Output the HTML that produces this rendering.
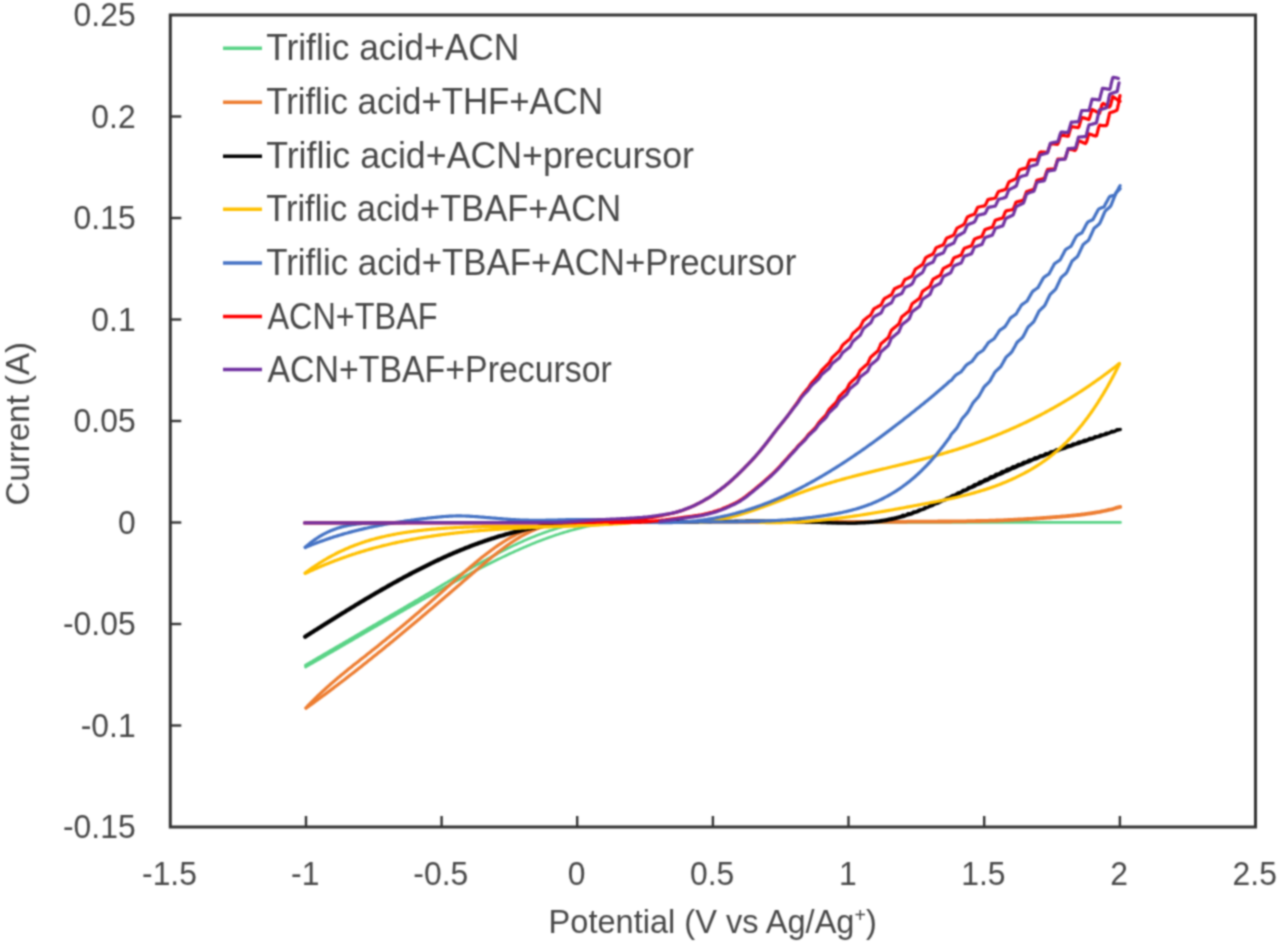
<!DOCTYPE html>
<html><head><meta charset="utf-8"><style>
html,body{margin:0;padding:0;background:#fff;}
svg{display:block;will-change:transform;}
text{font-family:"Liberation Sans",sans-serif;font-size:33.2px;fill:#474747;}
.t{font-size:33.9px;}
.l{font-size:36.8px;}
</style></head><body>
<svg width="1280" height="945" viewBox="0 0 1280 945">
<defs><filter id="bl" x="0" y="0" width="1280" height="945" filterUnits="userSpaceOnUse" color-interpolation-filters="sRGB"><feConvolveMatrix order="5" kernelMatrix="0.00087 0.00695 0.01388 0.00695 0.00087 0.00695 0.05540 0.11068 0.05540 0.00695 0.01388 0.11068 0.22111 0.11068 0.01388 0.00695 0.05540 0.11068 0.05540 0.00695 0.00087 0.00695 0.01388 0.00695 0.00087" edgeMode="duplicate" preserveAlpha="true"/></filter></defs>
<g filter="url(#bl)">
<rect width="1280" height="945" fill="#fff"/>
<g fill="none" stroke-linejoin="round" stroke-linecap="round">
<path d="M305.4 665.2 L306.4 664.6 L307.4 664.0 L308.4 663.4 L309.4 662.8 L310.4 662.2 L311.4 661.6 L312.4 661.1 L313.4 660.5 L314.4 659.9 L315.4 659.3 L316.4 658.7 L317.4 658.1 L318.4 657.5 L319.4 657.0 L320.4 656.4 L321.4 655.8 L322.4 655.2 L323.4 654.6 L324.4 654.0 L325.4 653.5 L326.4 652.9 L327.4 652.3 L328.4 651.7 L329.4 651.1 L330.4 650.5 L331.4 650.0 L332.4 649.4 L333.4 648.8 L334.4 648.2 L335.4 647.6 L336.4 647.0 L337.4 646.5 L338.4 645.9 L339.4 645.3 L340.4 644.7 L341.4 644.1 L342.4 643.6 L343.4 643.0 L344.4 642.4 L345.4 641.8 L346.4 641.2 L347.4 640.6 L348.4 640.1 L349.4 639.5 L350.4 638.9 L351.4 638.3 L352.4 637.7 L353.4 637.2 L354.4 636.6 L355.4 636.0 L356.4 635.4 L357.4 634.8 L358.4 634.2 L359.4 633.7 L360.4 633.1 L361.4 632.5 L362.4 631.9 L363.4 631.3 L364.4 630.8 L365.4 630.2 L366.4 629.6 L367.4 629.0 L368.4 628.4 L369.4 627.8 L370.4 627.3 L371.4 626.7 L372.4 626.1 L373.4 625.5 L374.4 624.9 L375.4 624.4 L376.4 623.8 L377.4 623.2 L378.4 622.6 L379.4 622.0 L380.4 621.4 L381.4 620.9 L382.4 620.3 L383.4 619.7 L384.4 619.1 L385.4 618.5 L386.4 618.0 L387.4 617.4 L388.4 616.8 L389.4 616.2 L390.4 615.6 L391.4 615.0 L392.4 614.5 L393.4 613.9 L394.4 613.3 L395.4 612.7 L396.4 612.1 L397.4 611.6 L398.4 611.0 L399.4 610.4 L400.4 609.8 L401.4 609.2 L402.4 608.6 L403.4 608.1 L404.4 607.5 L405.4 606.9 L406.4 606.3 L407.4 605.7 L408.4 605.1 L409.4 604.5 L410.4 604.0 L411.4 603.4 L412.4 602.8 L413.4 602.2 L414.4 601.6 L415.4 601.0 L416.4 600.4 L417.4 599.9 L418.4 599.3 L419.4 598.7 L420.4 598.1 L421.4 597.5 L422.4 596.9 L423.4 596.3 L424.4 595.7 L425.4 595.1 L426.4 594.5 L427.4 594.0 L428.4 593.4 L429.4 592.8 L430.4 592.2 L431.4 591.6 L432.4 591.0 L433.4 590.4 L434.4 589.8 L435.4 589.2 L436.4 588.6 L437.4 588.0 L438.4 587.4 L439.4 586.8 L440.4 586.2 L441.4 585.6 L442.4 585.0 L443.4 584.4 L444.4 583.8 L445.4 583.2 L446.4 582.6 L447.4 582.1 L448.4 581.5 L449.4 580.9 L450.4 580.3 L451.4 579.7 L452.4 579.1 L453.4 578.5 L454.4 577.9 L455.4 577.3 L456.4 576.7 L457.4 576.1 L458.4 575.5 L459.4 575.0 L460.4 574.4 L461.4 573.8 L462.4 573.2 L463.4 572.6 L464.4 572.0 L465.4 571.5 L466.4 570.9 L467.4 570.3 L468.4 569.7 L469.4 569.1 L470.4 568.6 L471.4 568.0 L472.4 567.4 L473.4 566.8 L474.4 566.3 L475.4 565.7 L476.4 565.1 L477.4 564.6 L478.4 564.0 L479.4 563.4 L480.4 562.9 L481.4 562.3 L482.4 561.8 L483.4 561.2 L484.4 560.7 L485.4 560.1 L486.4 559.6 L487.4 559.0 L488.4 558.5 L489.4 557.9 L490.4 557.4 L491.4 556.8 L492.4 556.3 L493.4 555.8 L494.4 555.2 L495.4 554.7 L496.4 554.2 L497.4 553.7 L498.4 553.1 L499.4 552.6 L500.4 552.1 L501.4 551.6 L502.4 551.1 L503.4 550.6 L504.4 550.1 L505.4 549.5 L506.4 549.0 L507.4 548.5 L508.4 548.1 L509.4 547.6 L510.4 547.1 L511.4 546.6 L512.4 546.1 L513.4 545.6 L514.4 545.1 L515.4 544.7 L516.4 544.2 L517.4 543.7 L518.4 543.3 L519.4 542.8 L520.4 542.4 L521.4 541.9 L522.4 541.5 L523.4 541.0 L524.4 540.6 L525.4 540.1 L526.4 539.7 L527.4 539.3 L528.4 538.8 L529.4 538.4 L530.4 538.0 L531.4 537.6 L532.4 537.2 L533.4 536.8 L534.4 536.4 L535.4 536.0 L536.4 535.6 L537.4 535.2 L538.4 534.8 L539.4 534.4 L540.4 534.0 L541.4 533.7 L542.4 533.3 L543.4 532.9 L544.4 532.6 L545.4 532.2 L546.4 531.9 L547.4 531.5 L548.4 531.2 L549.4 530.8 L550.4 530.5 L551.4 530.2 L552.4 529.9 L553.4 529.6 L554.4 529.2 L555.4 528.9 L556.4 528.6 L557.4 528.3 L558.4 528.0 L559.4 527.8 L560.4 527.5 L561.4 527.2 L562.4 526.9 L563.4 526.7 L564.4 526.4 L565.4 526.2 L566.4 525.9 L567.4 525.7 L568.4 525.4 L569.4 525.2 L570.4 525.0 L571.4 524.7 L572.4 524.5 L573.4 524.3 L574.4 524.1 L575.4 523.9 L576.4 523.7 L577.4 523.5 L578.4 523.4 L579.4 523.2 L580.4 523.0 L581.4 522.9 L582.4 522.7 L583.4 522.6 L584.4 522.4 L585.4 522.3 L586.4 522.2 L587.4 522.0 L588.4 521.9 L589.4 521.8 L590.4 521.7 L591.4 521.6 L592.4 521.5 L593.4 521.4 L594.4 521.4 L595.4 521.3 L596.4 521.2 L597.4 521.2 L598.4 521.1 L599.4 521.1 L600.4 521.0 L601.4 521.0 L602.4 521.0 L603.4 521.0 L604.4 521.0 L605.4 521.0 L606.4 521.0 L607.4 521.0 L608.4 521.0 L609.4 521.0 L610.4 521.1 L611.4 521.1 L612.4 521.2 L613.4 521.2 L614.4 521.3 L615.4 521.4 L616.4 521.5 L617.4 521.5 L618.4 521.6 L619.4 521.7 L620.0 521.8" stroke="#59d386" stroke-width="2.7"/>
<path d="M305.6 667.0 L306.6 666.4 L307.6 665.8 L308.6 665.3 L309.6 664.7 L310.6 664.1 L311.6 663.5 L312.6 663.0 L313.6 662.4 L314.6 661.8 L315.6 661.3 L316.6 660.7 L317.6 660.1 L318.6 659.5 L319.6 659.0 L320.6 658.4 L321.6 657.8 L322.6 657.2 L323.6 656.7 L324.6 656.1 L325.6 655.5 L326.6 654.9 L327.6 654.4 L328.6 653.8 L329.6 653.2 L330.6 652.6 L331.6 652.0 L332.6 651.5 L333.6 650.9 L334.6 650.3 L335.6 649.7 L336.6 649.2 L337.6 648.6 L338.6 648.0 L339.6 647.4 L340.6 646.8 L341.6 646.3 L342.6 645.7 L343.6 645.1 L344.6 644.5 L345.6 643.9 L346.6 643.4 L347.6 642.8 L348.6 642.2 L349.6 641.6 L350.6 641.0 L351.6 640.5 L352.6 639.9 L353.6 639.3 L354.6 638.7 L355.6 638.1 L356.6 637.6 L357.6 637.0 L358.6 636.4 L359.6 635.8 L360.6 635.2 L361.6 634.7 L362.6 634.1 L363.6 633.5 L364.6 632.9 L365.6 632.3 L366.6 631.8 L367.6 631.2 L368.6 630.6 L369.6 630.0 L370.6 629.4 L371.6 628.9 L372.6 628.3 L373.6 627.7 L374.6 627.1 L375.6 626.5 L376.6 626.0 L377.6 625.4 L378.6 624.8 L379.6 624.2 L380.6 623.7 L381.6 623.1 L382.6 622.5 L383.6 621.9 L384.6 621.3 L385.6 620.8 L386.6 620.2 L387.6 619.6 L388.6 619.0 L389.6 618.5 L390.6 617.9 L391.6 617.3 L392.6 616.7 L393.6 616.2 L394.6 615.6 L395.6 615.0 L396.6 614.4 L397.6 613.9 L398.6 613.3 L399.6 612.7 L400.6 612.1 L401.6 611.6 L402.6 611.0 L403.6 610.4 L404.6 609.9 L405.6 609.3 L406.6 608.7 L407.6 608.1 L408.6 607.6 L409.6 607.0 L410.6 606.4 L411.6 605.9 L412.6 605.3 L413.6 604.7 L414.6 604.2 L415.6 603.6 L416.6 603.0 L417.6 602.5 L418.6 601.9 L419.6 601.3 L420.6 600.8 L421.6 600.2 L422.6 599.6 L423.6 599.1 L424.6 598.5 L425.6 597.9 L426.6 597.4 L427.6 596.8 L428.6 596.3 L429.6 595.7 L430.6 595.1 L431.6 594.6 L432.6 594.0 L433.6 593.5 L434.6 592.9 L435.6 592.4 L436.6 591.8 L437.6 591.2 L438.6 590.7 L439.6 590.1 L440.6 589.6 L441.6 589.0 L442.6 588.5 L443.6 587.9 L444.6 587.4 L445.6 586.8 L446.6 586.3 L447.6 585.7 L448.6 585.2 L449.6 584.6 L450.6 584.1 L451.6 583.5 L452.6 583.0 L453.6 582.5 L454.6 581.9 L455.6 581.4 L456.6 580.8 L457.6 580.3 L458.6 579.7 L459.6 579.2 L460.6 578.7 L461.6 578.1 L462.6 577.6 L463.6 577.1 L464.6 576.5 L465.6 576.0 L466.6 575.4 L467.6 574.9 L468.6 574.4 L469.6 573.9 L470.6 573.3 L471.6 572.8 L472.6 572.3 L473.6 571.7 L474.6 571.2 L475.6 570.7 L476.6 570.2 L477.6 569.6 L478.6 569.1 L479.6 568.6 L480.6 568.1 L481.6 567.6 L482.6 567.1 L483.6 566.6 L484.6 566.0 L485.6 565.5 L486.6 565.0 L487.6 564.5 L488.6 564.0 L489.6 563.5 L490.6 563.0 L491.6 562.5 L492.6 562.0 L493.6 561.5 L494.6 561.0 L495.6 560.5 L496.6 560.0 L497.6 559.5 L498.6 559.0 L499.6 558.6 L500.6 558.1 L501.6 557.6 L502.6 557.1 L503.6 556.6 L504.6 556.2 L505.6 555.7 L506.6 555.2 L507.6 554.7 L508.6 554.3 L509.6 553.8 L510.6 553.3 L511.6 552.9 L512.6 552.4 L513.6 552.0 L514.6 551.5 L515.6 551.1 L516.6 550.6 L517.6 550.2 L518.6 549.7 L519.6 549.3 L520.6 548.8 L521.6 548.4 L522.6 547.9 L523.6 547.5 L524.6 547.1 L525.6 546.7 L526.6 546.2 L527.6 545.8 L528.6 545.4 L529.6 545.0 L530.6 544.6 L531.6 544.1 L532.6 543.7 L533.6 543.3 L534.6 542.9 L535.6 542.5 L536.6 542.1 L537.6 541.7 L538.6 541.3 L539.6 540.9 L540.6 540.6 L541.6 540.2 L542.6 539.8 L543.6 539.4 L544.6 539.0 L545.6 538.7 L546.6 538.3 L547.6 537.9 L548.6 537.6 L549.6 537.2 L550.6 536.9 L551.6 536.5 L552.6 536.2 L553.6 535.8 L554.6 535.5 L555.6 535.1 L556.6 534.8 L557.6 534.5 L558.6 534.2 L559.6 533.8 L560.6 533.5 L561.6 533.2 L562.6 532.9 L563.6 532.6 L564.6 532.3 L565.6 532.0 L566.6 531.7 L567.6 531.4 L568.6 531.1 L569.6 530.8 L570.6 530.5 L571.6 530.2 L572.6 530.0 L573.6 529.7 L574.6 529.4 L575.6 529.1 L576.6 528.9 L577.6 528.6 L578.6 528.4 L579.6 528.1 L580.6 527.9 L581.6 527.6 L582.6 527.4 L583.6 527.2 L584.6 527.0 L585.6 526.7 L586.6 526.5 L587.6 526.3 L588.6 526.1 L589.6 525.9 L590.6 525.7 L591.6 525.5 L592.6 525.3 L593.6 525.1 L594.6 524.9 L595.6 524.7 L596.6 524.6 L597.6 524.4 L598.6 524.2 L599.6 524.1 L600.6 523.9 L601.6 523.8 L602.6 523.6 L603.6 523.5 L604.6 523.3 L605.6 523.2 L606.6 523.1 L607.6 523.0 L608.6 522.8 L609.6 522.7 L610.6 522.6 L611.6 522.5 L612.6 522.4 L613.6 522.3 L614.6 522.2 L615.6 522.2 L616.6 522.1 L617.6 522.0 L618.6 521.9 L619.6 521.9 L620.6 521.8 L621.6 521.8 L622.6 521.7 L623.6 521.7 L624.6 521.6 L625.6 521.6 L626.6 521.6 L627.6 521.6 L628.6 521.5 L629.6 521.5 L630.6 521.5 L631.6 521.5 L632.6 521.5 L633.6 521.6 L634.6 521.6 L635.6 521.6 L636.6 521.6 L637.6 521.7 L638.6 521.7 L639.6 521.8 L640.0 521.8" stroke="#59d386" stroke-width="2.7"/>
<path d="M600.0 522.2 C686.8 522.2 1033.8 522.4 1120.5 522.4" stroke="#59d386" stroke-width="2.7"/>
<path d="M306.0 707.8 L307.0 706.8 L308.0 705.7 L309.0 704.7 L310.0 703.7 L311.0 702.6 L312.0 701.6 L313.0 700.6 L314.0 699.6 L315.0 698.6 L316.0 697.6 L317.0 696.7 L318.0 695.7 L319.0 694.8 L320.0 693.8 L321.0 692.9 L322.0 691.9 L323.0 691.0 L324.0 690.1 L325.0 689.2 L326.0 688.3 L327.0 687.4 L328.0 686.5 L329.0 685.6 L330.0 684.7 L331.0 683.8 L332.0 683.0 L333.0 682.1 L334.0 681.2 L335.0 680.4 L336.0 679.5 L337.0 678.7 L338.0 677.8 L339.0 677.0 L340.0 676.2 L341.0 675.3 L342.0 674.5 L343.0 673.7 L344.0 672.9 L345.0 672.1 L346.0 671.2 L347.0 670.4 L348.0 669.6 L349.0 668.8 L350.0 668.0 L351.0 667.2 L352.0 666.4 L353.0 665.6 L354.0 664.8 L355.0 664.0 L356.0 663.2 L357.0 662.5 L358.0 661.7 L359.0 660.9 L360.0 660.1 L361.0 659.3 L362.0 658.5 L363.0 657.7 L364.0 657.0 L365.0 656.2 L366.0 655.4 L367.0 654.6 L368.0 653.8 L369.0 653.0 L370.0 652.2 L371.0 651.4 L372.0 650.6 L373.0 649.8 L374.0 649.1 L375.0 648.3 L376.0 647.5 L377.0 646.7 L378.0 645.9 L379.0 645.1 L380.0 644.3 L381.0 643.4 L382.0 642.6 L383.0 641.8 L384.0 641.0 L385.0 640.2 L386.0 639.4 L387.0 638.6 L388.0 637.8 L389.0 637.0 L390.0 636.1 L391.0 635.3 L392.0 634.5 L393.0 633.7 L394.0 632.9 L395.0 632.0 L396.0 631.2 L397.0 630.4 L398.0 629.5 L399.0 628.7 L400.0 627.9 L401.0 627.1 L402.0 626.2 L403.0 625.4 L404.0 624.6 L405.0 623.7 L406.0 622.9 L407.0 622.0 L408.0 621.2 L409.0 620.4 L410.0 619.5 L411.0 618.7 L412.0 617.8 L413.0 617.0 L414.0 616.1 L415.0 615.3 L416.0 614.4 L417.0 613.6 L418.0 612.7 L419.0 611.9 L420.0 611.0 L421.0 610.1 L422.0 609.3 L423.0 608.4 L424.0 607.6 L425.0 606.7 L426.0 605.8 L427.0 605.0 L428.0 604.1 L429.0 603.2 L430.0 602.4 L431.0 601.5 L432.0 600.6 L433.0 599.8 L434.0 598.9 L435.0 598.0 L436.0 597.1 L437.0 596.3 L438.0 595.4 L439.0 594.5 L440.0 593.6 L441.0 592.7 L442.0 591.9 L443.0 591.0 L444.0 590.1 L445.0 589.2 L446.0 588.3 L447.0 587.4 L448.0 586.5 L449.0 585.7 L450.0 584.8 L451.0 583.9 L452.0 583.0 L453.0 582.1 L454.0 581.2 L455.0 580.3 L456.0 579.5 L457.0 578.6 L458.0 577.7 L459.0 576.8 L460.0 575.9 L461.0 575.0 L462.0 574.2 L463.0 573.3 L464.0 572.4 L465.0 571.6 L466.0 570.7 L467.0 569.8 L468.0 569.0 L469.0 568.1 L470.0 567.3 L471.0 566.4 L472.0 565.6 L473.0 564.7 L474.0 563.9 L475.0 563.0 L476.0 562.2 L477.0 561.4 L478.0 560.6 L479.0 559.8 L480.0 558.9 L481.0 558.1 L482.0 557.3 L483.0 556.5 L484.0 555.8 L485.0 555.0 L486.0 554.2 L487.0 553.4 L488.0 552.7 L489.0 551.9 L490.0 551.2 L491.0 550.4 L492.0 549.7 L493.0 549.0 L494.0 548.2 L495.0 547.5 L496.0 546.8 L497.0 546.1 L498.0 545.4 L499.0 544.7 L500.0 544.1 L501.0 543.4 L502.0 542.8 L503.0 542.1 L504.0 541.5 L505.0 540.9 L506.0 540.2 L507.0 539.6 L508.0 539.0 L509.0 538.5 L510.0 537.9 L511.0 537.3 L512.0 536.8 L513.0 536.2 L514.0 535.7 L515.0 535.2 L516.0 534.6 L517.0 534.1 L518.0 533.7 L519.0 533.2 L520.0 532.7 L521.0 532.3 L522.0 531.8 L523.0 531.4 L524.0 531.0 L525.0 530.6 L526.0 530.2 L527.0 529.8 L528.0 529.5 L529.0 529.1 L530.0 528.8 L531.0 528.5 L532.0 528.1 L533.0 527.8 L534.0 527.5 L535.0 527.3 L536.0 527.0 L537.0 526.7 L538.0 526.5 L539.0 526.2 L540.0 526.0 L541.0 525.8 L542.0 525.6 L543.0 525.4 L544.0 525.2 L545.0 525.0 L546.0 524.8 L547.0 524.7 L548.0 524.5 L549.0 524.4 L550.0 524.2 L551.0 524.1 L552.0 524.0 L553.0 523.8 L554.0 523.7 L555.0 523.6 L556.0 523.5 L557.0 523.4 L558.0 523.3 L559.0 523.3 L560.0 523.2 L561.0 523.1 L562.0 523.1 L563.0 523.0 L564.0 523.0 L565.0 522.9 L566.0 522.9 L567.0 522.9 L568.0 522.8 L569.0 522.8 L570.0 522.8 L571.0 522.8 L572.0 522.7 L573.0 522.7 L574.0 522.7 L575.0 522.7 L576.0 522.7 L577.0 522.7 L578.0 522.7 L579.0 522.7 L580.0 522.8 L581.0 522.8 L582.0 522.8 L583.0 522.8 L584.0 522.8 L585.0 522.8 L586.0 522.9 L587.0 522.9 L588.0 522.9 L589.0 522.9 L590.0 522.9 L591.0 523.0 L592.0 523.0 L593.0 523.0 L594.0 523.0 L595.0 523.1 L596.0 523.1 L597.0 523.1 L598.0 523.1 L599.0 523.1 L600.0 523.2 L601.0 523.2 L602.0 523.2 L603.0 523.2 L604.0 523.2 L605.0 523.2 L606.0 523.2 L607.0 523.2 L608.0 523.2 L609.0 523.2 L610.0 523.2 L611.0 523.2 L612.0 523.2 L613.0 523.1 L614.0 523.1 L615.0 523.1 L616.0 523.1 L617.0 523.0 L618.0 523.0 L619.0 522.9 L620.0 522.9 L621.0 522.8 L622.0 522.7 L623.0 522.7 L624.0 522.6 L625.0 522.5 L626.0 522.4 L627.0 522.3 L628.0 522.2 L629.0 522.1 L630.0 522.0" stroke="#ed7d31" stroke-width="3.2"/>
<path d="M306.0 708.2 L307.0 707.5 L308.0 706.8 L309.0 706.1 L310.0 705.3 L311.0 704.6 L312.0 703.9 L313.0 703.2 L314.0 702.4 L315.0 701.7 L316.0 701.0 L317.0 700.3 L318.0 699.5 L319.0 698.8 L320.0 698.1 L321.0 697.3 L322.0 696.6 L323.0 695.8 L324.0 695.1 L325.0 694.4 L326.0 693.6 L327.0 692.9 L328.0 692.1 L329.0 691.4 L330.0 690.6 L331.0 689.9 L332.0 689.1 L333.0 688.4 L334.0 687.6 L335.0 686.8 L336.0 686.1 L337.0 685.3 L338.0 684.6 L339.0 683.8 L340.0 683.0 L341.0 682.3 L342.0 681.5 L343.0 680.7 L344.0 680.0 L345.0 679.2 L346.0 678.4 L347.0 677.6 L348.0 676.9 L349.0 676.1 L350.0 675.3 L351.0 674.5 L352.0 673.8 L353.0 673.0 L354.0 672.2 L355.0 671.4 L356.0 670.6 L357.0 669.9 L358.0 669.1 L359.0 668.3 L360.0 667.5 L361.0 666.7 L362.0 665.9 L363.0 665.1 L364.0 664.3 L365.0 663.5 L366.0 662.7 L367.0 661.9 L368.0 661.1 L369.0 660.3 L370.0 659.5 L371.0 658.7 L372.0 657.9 L373.0 657.1 L374.0 656.3 L375.0 655.5 L376.0 654.7 L377.0 653.9 L378.0 653.1 L379.0 652.3 L380.0 651.5 L381.0 650.7 L382.0 649.9 L383.0 649.1 L384.0 648.2 L385.0 647.4 L386.0 646.6 L387.0 645.8 L388.0 645.0 L389.0 644.2 L390.0 643.3 L391.0 642.5 L392.0 641.7 L393.0 640.9 L394.0 640.0 L395.0 639.2 L396.0 638.4 L397.0 637.6 L398.0 636.7 L399.0 635.9 L400.0 635.1 L401.0 634.3 L402.0 633.4 L403.0 632.6 L404.0 631.8 L405.0 630.9 L406.0 630.1 L407.0 629.3 L408.0 628.4 L409.0 627.6 L410.0 626.8 L411.0 625.9 L412.0 625.1 L413.0 624.3 L414.0 623.4 L415.0 622.6 L416.0 621.7 L417.0 620.9 L418.0 620.1 L419.0 619.2 L420.0 618.4 L421.0 617.5 L422.0 616.7 L423.0 615.8 L424.0 615.0 L425.0 614.2 L426.0 613.3 L427.0 612.5 L428.0 611.6 L429.0 610.8 L430.0 609.9 L431.0 609.1 L432.0 608.2 L433.0 607.4 L434.0 606.5 L435.0 605.7 L436.0 604.8 L437.0 604.0 L438.0 603.1 L439.0 602.3 L440.0 601.4 L441.0 600.5 L442.0 599.7 L443.0 598.8 L444.0 598.0 L445.0 597.1 L446.0 596.3 L447.0 595.4 L448.0 594.6 L449.0 593.7 L450.0 592.8 L451.0 592.0 L452.0 591.1 L453.0 590.3 L454.0 589.4 L455.0 588.5 L456.0 587.7 L457.0 586.8 L458.0 586.0 L459.0 585.1 L460.0 584.2 L461.0 583.4 L462.0 582.5 L463.0 581.6 L464.0 580.8 L465.0 579.9 L466.0 579.1 L467.0 578.2 L468.0 577.3 L469.0 576.5 L470.0 575.6 L471.0 574.7 L472.0 573.9 L473.0 573.0 L474.0 572.2 L475.0 571.3 L476.0 570.4 L477.0 569.6 L478.0 568.7 L479.0 567.9 L480.0 567.0 L481.0 566.2 L482.0 565.3 L483.0 564.5 L484.0 563.6 L485.0 562.8 L486.0 562.0 L487.0 561.1 L488.0 560.3 L489.0 559.5 L490.0 558.7 L491.0 557.8 L492.0 557.0 L493.0 556.2 L494.0 555.4 L495.0 554.6 L496.0 553.9 L497.0 553.1 L498.0 552.3 L499.0 551.5 L500.0 550.8 L501.0 550.0 L502.0 549.2 L503.0 548.5 L504.0 547.8 L505.0 547.0 L506.0 546.3 L507.0 545.6 L508.0 544.9 L509.0 544.2 L510.0 543.5 L511.0 542.8 L512.0 542.1 L513.0 541.5 L514.0 540.8 L515.0 540.2 L516.0 539.5 L517.0 538.9 L518.0 538.3 L519.0 537.7 L520.0 537.1 L521.0 536.5 L522.0 535.9 L523.0 535.4 L524.0 534.8 L525.0 534.3 L526.0 533.7 L527.0 533.2 L528.0 532.7 L529.0 532.2 L530.0 531.8 L531.0 531.3 L532.0 530.8 L533.0 530.4 L534.0 530.0 L535.0 529.5 L536.0 529.1 L537.0 528.8 L538.0 528.4 L539.0 528.0 L540.0 527.7 L541.0 527.3 L542.0 527.0 L543.0 526.7 L544.0 526.4 L545.0 526.1 L546.0 525.8 L547.0 525.6 L548.0 525.3 L549.0 525.1 L550.0 524.8 L551.0 524.6 L552.0 524.4 L553.0 524.2 L554.0 524.0 L555.0 523.8 L556.0 523.7 L557.0 523.5 L558.0 523.4 L559.0 523.2 L560.0 523.1 L561.0 522.9 L562.0 522.8 L563.0 522.7 L564.0 522.6 L565.0 522.5 L566.0 522.4 L567.0 522.3 L568.0 522.3 L569.0 522.2 L570.0 522.1 L571.0 522.1 L572.0 522.0 L573.0 522.0 L574.0 521.9 L575.0 521.9 L576.0 521.9 L577.0 521.9 L578.0 521.8 L579.0 521.8 L580.0 521.8 L581.0 521.8 L582.0 521.8 L583.0 521.8 L584.0 521.8 L585.0 521.8 L586.0 521.8 L587.0 521.8 L588.0 521.9 L589.0 521.9 L590.0 521.9 L591.0 521.9 L592.0 522.0 L593.0 522.0 L594.0 522.0 L595.0 522.0 L596.0 522.1 L597.0 522.1 L598.0 522.1 L599.0 522.2 L600.0 522.2 L601.0 522.2 L602.0 522.2 L603.0 522.3 L604.0 522.3 L605.0 522.3 L606.0 522.4 L607.0 522.4 L608.0 522.4 L609.0 522.4 L610.0 522.4 L611.0 522.5 L612.0 522.5 L613.0 522.5 L614.0 522.5 L615.0 522.5 L616.0 522.5 L617.0 522.5 L618.0 522.5 L619.0 522.5 L620.0 522.5 L621.0 522.4 L622.0 522.4 L623.0 522.4 L624.0 522.3 L625.0 522.3 L626.0 522.3 L627.0 522.2 L628.0 522.1 L629.0 522.1 L630.0 522.0" stroke="#ed7d31" stroke-width="3.2"/>
<path d="M620.0 522.0 L621.0 522.0 L622.0 522.0 L623.0 522.0 L624.0 522.0 L625.0 522.0 L626.0 522.0 L627.0 522.0 L628.0 522.0 L629.0 522.0 L630.0 522.0 L631.0 522.0 L632.0 522.0 L633.0 522.0 L634.0 522.0 L635.0 522.0 L636.0 522.0 L637.0 522.0 L638.0 522.0 L639.0 522.0 L640.0 522.0 L641.0 522.0 L642.0 522.0 L643.0 522.0 L644.0 522.0 L645.0 522.0 L646.0 522.0 L647.0 522.0 L648.0 522.0 L649.0 522.0 L650.0 522.0 L651.0 522.0 L652.0 522.0 L653.0 522.0 L654.0 522.0 L655.0 522.0 L656.0 522.0 L657.0 522.0 L658.0 522.0 L659.0 522.0 L660.0 522.0 L661.0 522.0 L662.0 522.0 L663.0 522.0 L664.0 522.0 L665.0 522.0 L666.0 522.0 L667.0 522.0 L668.0 522.0 L669.0 522.0 L670.0 522.0 L671.0 522.0 L672.0 522.0 L673.0 522.0 L674.0 522.0 L675.0 522.0 L676.0 522.0 L677.0 522.0 L678.0 522.0 L679.0 522.0 L680.0 522.0 L681.0 522.0 L682.0 522.0 L683.0 522.0 L684.0 522.0 L685.0 522.0 L686.0 522.0 L687.0 522.0 L688.0 522.0 L689.0 522.0 L690.0 521.9 L691.0 521.9 L692.0 521.9 L693.0 521.9 L694.0 521.9 L695.0 521.9 L696.0 521.9 L697.0 521.9 L698.0 521.9 L699.0 521.9 L700.0 521.9 L701.0 521.9 L702.0 521.9 L703.0 521.9 L704.0 521.9 L705.0 521.9 L706.0 521.9 L707.0 521.9 L708.1 521.9 L709.1 521.9 L710.1 521.9 L711.1 521.9 L712.1 521.9 L713.1 521.9 L714.1 521.9 L715.1 521.9 L716.1 521.9 L717.1 521.9 L718.1 521.9 L719.1 521.9 L720.1 521.9 L721.1 521.9 L722.1 521.9 L723.1 521.9 L724.1 521.9 L725.1 521.9 L726.1 521.9 L727.1 521.9 L728.1 521.9 L729.1 521.9 L730.1 521.9 L731.1 521.9 L732.1 521.9 L733.1 521.9 L734.1 521.9 L735.1 521.9 L736.1 521.9 L737.1 521.9 L738.1 521.9 L739.1 521.9 L740.1 521.9 L741.1 521.9 L742.1 521.9 L743.1 521.9 L744.1 521.9 L745.1 521.9 L746.1 521.9 L747.1 521.9 L748.1 521.9 L749.1 521.9 L750.1 521.9 L751.1 521.9 L752.1 521.9 L753.1 521.9 L754.1 521.9 L755.1 521.9 L756.1 521.9 L757.1 521.9 L758.1 521.9 L759.1 521.9 L760.1 521.9 L761.1 521.9 L762.1 521.9 L763.1 521.9 L764.1 521.9 L765.1 521.9 L766.1 521.9 L767.1 521.9 L768.1 521.9 L769.1 521.9 L770.1 521.9 L771.1 521.9 L772.1 521.9 L773.1 521.9 L774.1 521.9 L775.1 521.9 L776.1 521.9 L777.1 521.9 L778.1 521.9 L779.1 521.9 L780.1 521.9 L781.1 521.9 L782.1 521.9 L783.1 521.9 L784.1 521.9 L785.1 521.9 L786.1 521.9 L787.1 521.9 L788.1 521.9 L789.1 521.9 L790.1 521.9 L791.1 521.9 L792.1 521.9 L793.1 521.9 L794.1 521.9 L795.1 521.9 L796.1 521.9 L797.1 521.9 L798.1 521.9 L799.1 521.9 L800.1 521.9 L801.1 521.9 L802.1 521.9 L803.1 521.9 L804.1 521.9 L805.1 521.9 L806.1 521.9 L807.1 521.9 L808.1 521.9 L809.1 521.9 L810.1 521.9 L811.1 521.9 L812.1 521.9 L813.1 521.9 L814.1 521.9 L815.1 521.9 L816.1 521.9 L817.1 521.9 L818.1 521.9 L819.1 521.9 L820.1 521.9 L821.1 521.9 L822.1 521.9 L823.1 521.9 L824.1 521.9 L825.1 521.9 L826.1 521.9 L827.1 521.9 L828.1 521.9 L829.1 521.9 L830.1 521.8 L831.1 521.8 L832.1 521.8 L833.1 521.8 L834.1 521.8 L835.1 521.8 L836.1 521.8 L837.1 521.8 L838.1 521.8 L839.1 521.8 L840.1 521.8 L841.1 521.8 L842.1 521.8 L843.1 521.8 L844.1 521.8 L845.1 521.8 L846.1 521.8 L847.1 521.8 L848.1 521.8 L849.1 521.8 L850.1 521.8 L851.1 521.8 L852.1 521.8 L853.1 521.8 L854.1 521.8 L855.1 521.8 L856.1 521.8 L857.1 521.8 L858.1 521.8 L859.1 521.8 L860.1 521.8 L861.1 521.8 L862.1 521.8 L863.1 521.8 L864.1 521.8 L865.1 521.8 L866.1 521.8 L867.1 521.8 L868.1 521.8 L869.1 521.8 L870.1 521.8 L871.1 521.8 L872.1 521.8 L873.1 521.8 L874.1 521.8 L875.1 521.8 L876.1 521.8 L877.1 521.8 L878.1 521.8 L879.1 521.8 L880.1 521.8 L881.1 521.8 L882.1 521.8 L883.1 521.8 L884.2 521.8 L885.2 521.8 L886.2 521.8 L887.2 521.8 L888.2 521.8 L889.2 521.8 L890.2 521.8 L891.2 521.8 L892.2 521.8 L893.2 521.8 L894.2 521.8 L895.2 521.8 L896.2 521.8 L897.2 521.8 L898.2 521.8 L899.2 521.8 L900.2 521.8 L901.2 521.8 L902.2 521.8 L903.2 521.8 L904.2 521.8 L905.2 521.8 L906.2 521.8 L907.2 521.7 L908.2 521.7 L909.2 521.7 L910.2 521.7 L911.2 521.7 L912.2 521.7 L913.2 521.7 L914.2 521.7 L915.2 521.7 L916.2 521.7 L917.2 521.7 L918.2 521.7 L919.2 521.7 L920.2 521.7 L921.2 521.7 L922.2 521.7 L923.2 521.6 L924.2 521.6 L925.2 521.6 L926.2 521.6 L927.2 521.6 L928.2 521.6 L929.2 521.6 L930.2 521.6 L931.2 521.6 L932.2 521.6 L933.2 521.6 L934.2 521.6 L935.2 521.6 L936.2 521.6 L937.2 521.6 L938.2 521.5 L939.2 521.5 L940.2 521.5 L941.2 521.5 L942.2 521.5 L943.2 521.5 L944.2 521.5 L945.2 521.5 L946.2 521.5 L947.2 521.5 L948.2 521.5 L949.2 521.5 L950.2 521.5 L951.2 521.5 L952.2 521.4 L953.2 521.4 L954.2 521.4 L955.2 521.4 L956.2 521.4 L957.2 521.4 L958.2 521.4 L959.2 521.4 L960.2 521.3 L961.2 521.3 L962.2 521.3 L963.2 521.3 L964.2 521.3 L965.2 521.3 L966.2 521.3 L967.2 521.2 L968.2 521.2 L969.2 521.2 L970.2 521.2 L971.2 521.2 L972.2 521.1 L973.2 521.1 L974.2 521.1 L975.2 521.1 L976.2 521.0 L977.2 521.0 L978.2 521.0 L979.2 521.0 L980.2 521.0 L981.2 520.9 L982.2 520.9 L983.2 520.9 L984.2 520.9 L985.2 520.8 L986.2 520.8 L987.2 520.8 L988.2 520.8 L989.2 520.7 L990.2 520.7 L991.2 520.7 L992.2 520.7 L993.2 520.6 L994.2 520.6 L995.2 520.6 L996.2 520.5 L997.2 520.5 L998.2 520.5 L999.2 520.4 L1000.2 520.4 L1001.2 520.3 L1002.2 520.3 L1003.2 520.3 L1004.2 520.2 L1005.2 520.2 L1006.2 520.1 L1007.2 520.1 L1008.2 520.0 L1009.2 520.0 L1010.2 519.9 L1011.2 519.9 L1012.2 519.8 L1013.2 519.8 L1014.2 519.7 L1015.2 519.7 L1016.2 519.6 L1017.2 519.6 L1018.2 519.5 L1019.2 519.5 L1020.2 519.4 L1021.2 519.4 L1022.2 519.3 L1023.2 519.3 L1024.2 519.2 L1025.2 519.1 L1026.2 519.1 L1027.2 519.0 L1028.2 519.0 L1029.2 518.9 L1030.2 518.9 L1031.2 518.8 L1032.2 518.8 L1033.2 518.7 L1034.2 518.6 L1035.2 518.6 L1036.2 518.5 L1037.2 518.4 L1038.2 518.4 L1039.2 518.3 L1040.2 518.2 L1041.2 518.2 L1042.2 518.1 L1043.2 518.0 L1044.2 517.9 L1045.2 517.9 L1046.1 517.8 L1047.1 517.7 L1048.1 517.6 L1049.1 517.6 L1050.1 517.5 L1051.1 517.4 L1052.1 517.3 L1053.1 517.2 L1054.1 517.2 L1055.1 517.1 L1056.1 517.0 L1057.1 516.9 L1058.1 516.9 L1059.1 516.8 L1060.1 516.7 L1061.1 516.6 L1062.1 516.5 L1063.1 516.4 L1064.1 516.4 L1065.1 516.3 L1066.1 516.2 L1067.1 516.1 L1068.1 516.0 L1069.1 515.9 L1070.1 515.8 L1071.1 515.7 L1072.1 515.6 L1073.1 515.5 L1074.1 515.4 L1075.1 515.3 L1076.1 515.2 L1077.0 515.1 L1078.0 515.0 L1079.0 514.9 L1080.0 514.8 L1081.0 514.6 L1082.0 514.5 L1083.0 514.4 L1084.0 514.3 L1085.0 514.1 L1086.0 514.0 L1087.0 513.8 L1088.0 513.7 L1088.9 513.6 L1089.9 513.4 L1090.9 513.3 L1091.9 513.1 L1092.9 513.0 L1093.9 512.8 L1094.9 512.6 L1095.9 512.5 L1097.8 512.1 L1099.8 511.8 L1101.8 511.4 L1103.7 511.0 L1105.7 510.6 L1107.6 510.2 L1109.6 509.7 L1111.5 509.3 L1113.5 508.8 L1115.4 508.2 L1117.3 507.7 L1119.2 507.2 L1120.2 506.9" stroke="#ed7d31" stroke-width="3.8"/>
<path d="M305.2 636.7 L306.2 636.0 L307.2 635.4 L308.2 634.7 L309.2 634.1 L310.2 633.5 L311.2 632.8 L312.2 632.2 L313.2 631.6 L314.2 630.9 L315.2 630.3 L316.2 629.7 L317.2 629.1 L318.2 628.4 L319.2 627.8 L320.2 627.2 L321.2 626.5 L322.2 625.9 L323.2 625.3 L324.2 624.6 L325.2 624.0 L326.2 623.4 L327.2 622.8 L328.2 622.1 L329.2 621.5 L330.2 620.9 L331.2 620.2 L332.2 619.6 L333.2 619.0 L334.2 618.4 L335.2 617.8 L336.2 617.1 L337.2 616.5 L338.2 615.9 L339.2 615.3 L340.2 614.6 L341.2 614.0 L342.2 613.4 L343.2 612.8 L344.2 612.2 L345.2 611.6 L346.2 610.9 L347.2 610.3 L348.2 609.7 L349.2 609.1 L350.2 608.5 L351.2 607.9 L352.2 607.3 L353.2 606.7 L354.2 606.1 L355.2 605.4 L356.2 604.8 L357.2 604.2 L358.2 603.6 L359.2 603.0 L360.2 602.4 L361.2 601.8 L362.2 601.2 L363.2 600.6 L364.2 600.0 L365.2 599.4 L366.2 598.8 L367.2 598.2 L368.2 597.6 L369.2 597.1 L370.2 596.5 L371.2 595.9 L372.2 595.3 L373.2 594.7 L374.2 594.1 L375.2 593.5 L376.2 592.9 L377.2 592.4 L378.2 591.8 L379.2 591.2 L380.2 590.6 L381.2 590.0 L382.2 589.5 L383.2 588.9 L384.2 588.3 L385.2 587.8 L386.2 587.2 L387.2 586.6 L388.2 586.0 L389.2 585.5 L390.2 584.9 L391.2 584.4 L392.2 583.8 L393.2 583.2 L394.2 582.7 L395.2 582.1 L396.2 581.6 L397.2 581.0 L398.2 580.5 L399.2 579.9 L400.2 579.4 L401.2 578.8 L402.2 578.3 L403.2 577.7 L404.2 577.2 L405.2 576.7 L406.2 576.1 L407.2 575.6 L408.2 575.1 L409.2 574.5 L410.2 574.0 L411.2 573.5 L412.2 572.9 L413.2 572.4 L414.2 571.9 L415.2 571.4 L416.2 570.9 L417.2 570.3 L418.2 569.8 L419.2 569.3 L420.2 568.8 L421.2 568.3 L422.2 567.8 L423.2 567.3 L424.2 566.8 L425.2 566.3 L426.2 565.8 L427.2 565.3 L428.2 564.8 L429.2 564.3 L430.2 563.8 L431.2 563.3 L432.2 562.9 L433.2 562.4 L434.2 561.9 L435.2 561.4 L436.2 560.9 L437.2 560.5 L438.2 560.0 L439.2 559.5 L440.2 559.1 L441.2 558.6 L442.2 558.1 L443.2 557.7 L444.2 557.2 L445.2 556.8 L446.2 556.3 L447.2 555.9 L448.2 555.4 L449.2 555.0 L450.2 554.5 L451.2 554.1 L452.2 553.7 L453.2 553.2 L454.2 552.8 L455.2 552.4 L456.2 552.0 L457.2 551.5 L458.2 551.1 L459.2 550.7 L460.2 550.3 L461.2 549.9 L462.2 549.5 L463.2 549.1 L464.2 548.6 L465.2 548.2 L466.2 547.8 L467.2 547.5 L468.2 547.1 L469.2 546.7 L470.2 546.3 L471.2 545.9 L472.2 545.5 L473.2 545.1 L474.2 544.8 L475.2 544.4 L476.2 544.0 L477.2 543.7 L478.2 543.3 L479.2 542.9 L480.2 542.6 L481.2 542.2 L482.2 541.9 L483.2 541.5 L484.2 541.2 L485.2 540.8 L486.2 540.5 L487.2 540.2 L488.2 539.8 L489.2 539.5 L490.2 539.2 L491.2 538.8 L492.2 538.5 L493.2 538.2 L494.2 537.9 L495.2 537.6 L496.2 537.3 L497.2 536.9 L498.2 536.6 L499.2 536.3 L500.2 536.0 L501.2 535.7 L502.2 535.5 L503.2 535.2 L504.2 534.9 L505.2 534.6 L506.2 534.3 L507.2 534.0 L508.2 533.8 L509.2 533.5 L510.2 533.2 L511.2 532.9 L512.2 532.7 L513.2 532.4 L514.2 532.2 L515.2 531.9 L516.2 531.7 L517.2 531.4 L518.2 531.2 L519.2 530.9 L520.2 530.7 L521.2 530.4 L522.2 530.2 L523.2 530.0 L524.2 529.7 L525.2 529.5 L526.2 529.3 L527.2 529.1 L528.2 528.8 L529.2 528.6 L530.2 528.4 L531.2 528.2 L532.2 528.0 L533.2 527.8 L534.2 527.6 L535.2 527.4 L536.2 527.2 L537.2 527.0 L538.2 526.8 L539.2 526.6 L540.2 526.4 L541.2 526.3 L542.2 526.1 L543.2 525.9 L544.2 525.7 L545.2 525.6 L546.2 525.4 L547.2 525.2 L548.2 525.1 L549.2 524.9 L550.2 524.8 L551.2 524.6 L552.2 524.5 L553.2 524.3 L554.2 524.2 L555.2 524.0 L556.2 523.9 L557.2 523.7 L558.2 523.6 L559.2 523.5 L560.2 523.3 L561.2 523.2 L562.2 523.1 L563.2 523.0 L564.2 522.9 L565.2 522.7 L566.2 522.6 L567.2 522.5 L568.2 522.4 L569.2 522.3 L570.2 522.2 L571.2 522.1 L572.2 522.0 L573.2 521.9 L574.2 521.8 L575.2 521.7 L576.2 521.6 L577.2 521.6 L578.2 521.5 L579.2 521.4 L580.2 521.3 L581.2 521.3 L582.2 521.2 L583.2 521.1 L584.2 521.1 L585.2 521.0 L586.2 520.9 L587.2 520.9 L588.2 520.8 L589.2 520.8 L590.2 520.7 L591.2 520.7 L592.2 520.6 L593.2 520.6 L594.2 520.6 L595.2 520.5 L596.2 520.5 L597.2 520.5 L598.2 520.4 L599.2 520.4 L600.2 520.4 L601.2 520.4 L602.2 520.4 L603.2 520.4 L604.2 520.3 L605.2 520.3 L606.2 520.3 L607.2 520.3 L608.2 520.3 L609.2 520.3 L610.2 520.3 L611.2 520.3 L612.2 520.4 L613.2 520.4 L614.2 520.4 L615.2 520.4 L616.2 520.4 L617.2 520.4 L618.2 520.5 L619.2 520.5 L620.2 520.5 L621.2 520.6 L622.2 520.6 L623.2 520.6 L624.2 520.7 L625.2 520.7 L626.2 520.8 L627.2 520.8 L628.2 520.9 L629.2 520.9 L630.2 521.0 L631.2 521.0 L632.2 521.1 L633.2 521.2 L634.2 521.2 L635.2 521.3 L636.2 521.4 L637.2 521.4 L638.2 521.5 L639.2 521.6 L640.0 521.7" stroke="#000000" stroke-width="4.2"/>
<path d="M640.0 521.6 L641.0 521.6 L642.0 521.6 L643.0 521.6 L644.0 521.6 L645.0 521.6 L646.0 521.6 L647.0 521.6 L648.0 521.6 L649.0 521.6 L650.0 521.7 L651.0 521.7 L652.0 521.7 L653.0 521.7 L654.0 521.7 L655.0 521.7 L656.0 521.7 L657.0 521.7 L658.0 521.7 L659.0 521.7 L660.0 521.7 L661.0 521.7 L662.0 521.7 L663.0 521.7 L664.0 521.7 L665.0 521.7 L666.0 521.7 L667.0 521.7 L668.0 521.6 L669.0 521.6 L670.0 521.6 L671.0 521.6 L672.0 521.6 L673.0 521.6 L674.0 521.6 L675.0 521.6 L676.0 521.6 L677.0 521.6 L678.0 521.6 L679.0 521.6 L680.0 521.6 L681.0 521.6 L682.0 521.6 L683.0 521.6 L684.0 521.6 L685.0 521.6 L686.0 521.6 L687.0 521.6 L688.0 521.6 L689.0 521.5 L690.0 521.5 L691.0 521.5 L692.0 521.5 L693.0 521.5 L694.0 521.5 L695.0 521.5 L696.0 521.5 L697.0 521.5 L698.0 521.5 L699.0 521.5 L700.0 521.5 L701.0 521.5 L702.0 521.5 L703.0 521.5 L704.0 521.5 L705.0 521.4 L706.0 521.4 L707.0 521.4 L708.0 521.4 L709.0 521.4 L710.0 521.4 L711.0 521.4 L712.0 521.4 L713.0 521.4 L714.0 521.4 L715.0 521.4 L716.0 521.4 L717.0 521.4 L718.0 521.4 L719.0 521.4 L720.0 521.4 L721.0 521.3 L722.0 521.3 L723.0 521.3 L724.0 521.3 L725.0 521.3 L726.0 521.3 L727.0 521.3 L728.0 521.3 L729.0 521.3 L730.0 521.3 L731.0 521.3 L732.0 521.3 L733.0 521.3 L734.0 521.3 L735.0 521.3 L736.0 521.3 L737.0 521.3 L738.0 521.3 L739.0 521.3 L740.0 521.3 L741.0 521.3 L742.0 521.3 L743.0 521.3 L744.0 521.3 L745.0 521.3 L746.0 521.3 L747.0 521.3 L748.0 521.3 L749.0 521.3 L750.0 521.3 L751.0 521.3 L752.0 521.3 L753.0 521.3 L754.0 521.3 L755.0 521.3 L756.0 521.3 L757.0 521.3 L758.0 521.3 L759.0 521.3 L760.0 521.3 L761.0 521.3 L762.0 521.3 L763.0 521.3 L764.0 521.3 L765.0 521.4 L766.0 521.4 L767.0 521.4 L768.0 521.4 L769.0 521.4 L770.0 521.4 L771.0 521.4 L772.0 521.4 L773.0 521.4 L774.0 521.4 L775.0 521.5 L776.0 521.5 L777.0 521.5 L778.0 521.5 L779.0 521.5 L780.0 521.5 L781.0 521.5 L782.0 521.6 L783.0 521.6 L784.0 521.6 L785.0 521.6 L786.0 521.6 L787.0 521.7 L788.0 521.7 L789.0 521.7 L790.0 521.7 L791.0 521.7 L792.0 521.8 L793.0 521.8 L794.0 521.8 L795.0 521.8 L796.0 521.9 L797.0 521.9 L798.0 521.9 L799.0 521.9 L800.0 522.0 L801.0 522.0 L802.0 522.0 L803.0 522.1 L804.0 522.1 L805.0 522.1 L806.0 522.2 L807.0 522.2 L808.0 522.2 L809.0 522.3 L810.0 522.3 L811.0 522.3 L812.0 522.4 L813.0 522.4 L814.0 522.4 L815.0 522.5 L816.0 522.5 L817.0 522.5 L818.0 522.6 L819.0 522.6 L820.0 522.6 L821.0 522.7 L822.0 522.7 L823.0 522.7 L824.0 522.8 L825.0 522.8 L826.0 522.8 L827.0 522.9 L828.0 522.9 L829.0 522.9 L830.0 522.9 L831.0 523.0 L832.0 523.0 L833.0 523.0 L834.0 523.0 L835.0 523.0 L836.0 523.1 L837.0 523.1 L838.0 523.1 L839.0 523.1 L840.0 523.1 L841.0 523.1 L842.0 523.1 L843.0 523.1 L844.0 523.1 L845.0 523.1 L846.0 523.1 L847.0 523.1 L848.0 523.1 L849.0 523.1 L850.0 523.0 L851.0 523.0 L852.0 523.0 L853.0 523.0 L854.0 522.9 L855.0 522.9 L856.0 522.8 L857.0 522.8 L858.0 522.8 L859.0 522.7 L860.0 522.7 L861.0 522.6 L862.0 522.5 L863.0 522.5 L864.0 522.4 L865.0 522.3 L866.0 522.2 L867.0 522.2 L868.0 522.1 L869.0 522.0 L870.0 521.9 L871.0 521.8 L872.0 521.7 L873.0 521.6 L874.0 521.4 L875.0 521.3 L876.0 521.2 L877.0 521.0 L878.0 520.9 L879.0 520.8 L880.0 520.6 L881.0 520.5 L882.0 520.3 L883.0 520.1 L884.0 519.9 L885.0 519.8 L886.0 519.6 L887.0 519.4 L888.0 519.2 L889.0 519.0 L890.0 518.8 L891.0 518.6 L892.0 518.3 L893.0 518.1 L894.0 517.9 L895.0 517.6 L896.0 517.4 L897.0 517.1 L898.0 516.9 L899.0 516.6 L900.0 516.4 L901.0 516.2 L902.0 515.6 L903.0 515.1 L904.0 515.2 L905.0 515.2 L906.0 514.9 L907.0 514.3 L908.0 513.6 L909.0 513.5 L910.0 513.5 L911.0 513.5 L912.0 512.8 L913.0 512.2 L914.0 511.7 L915.0 511.7 L916.0 511.6 L917.0 511.3 L918.0 510.6 L919.0 509.9 L920.0 509.7 L921.0 509.6 L922.0 509.6 L923.0 508.9 L924.0 508.2 L925.0 507.6 L926.0 507.5 L927.0 507.5 L928.0 507.1 L929.0 506.3 L930.0 505.6 L931.0 505.3 L932.0 505.2 L933.0 505.1 L934.0 504.4 L935.0 503.6 L936.0 503.0 L937.0 502.9 L938.0 502.8 L939.0 502.3 L940.0 501.6 L941.0 500.8 L942.0 500.5 L943.0 500.3 L944.0 500.2 L945.0 499.4 L946.0 498.6 L947.0 498.0 L948.0 497.8 L949.0 497.7 L950.0 497.2 L951.0 496.4 L952.0 495.6 L953.0 495.3 L954.0 495.1 L955.0 495.0 L956.0 494.2 L957.0 493.4 L958.0 492.7 L959.0 492.5 L960.0 492.4 L961.0 491.9 L962.0 491.1 L963.0 490.2 L964.0 489.9 L965.0 489.8 L966.0 489.6 L967.0 488.8 L968.0 487.9 L969.0 487.3 L970.0 487.1 L971.0 486.9 L972.0 486.4 L973.0 485.6 L974.0 484.8 L975.0 484.5 L976.0 484.3 L977.0 484.1 L978.0 483.3 L979.0 482.5 L980.0 481.8 L981.0 481.7 L982.0 481.5 L983.0 481.0 L984.0 480.2 L985.0 479.4 L986.0 479.1 L987.0 478.9 L988.0 478.8 L989.0 478.0 L990.0 477.2 L991.0 476.5 L992.0 476.4 L993.0 476.2 L994.0 475.8 L995.0 475.0 L996.0 474.2 L997.0 473.9 L998.0 473.8 L999.0 473.6 L1000.0 472.9 L1001.0 472.1 L1002.0 471.5 L1003.0 471.3 L1004.0 471.2 L1005.0 470.8 L1006.0 470.0 L1007.0 469.2 L1008.0 469.0 L1009.0 468.8 L1010.0 468.7 L1011.0 468.0 L1012.0 467.2 L1013.0 466.6 L1014.0 466.5 L1015.0 466.4 L1016.0 466.0 L1017.0 465.3 L1018.0 464.5 L1019.0 464.2 L1020.0 464.2 L1021.0 464.1 L1022.0 463.3 L1023.0 462.6 L1024.0 462.0 L1025.0 461.9 L1026.0 461.9 L1027.0 461.5 L1028.0 460.7 L1029.0 460.0 L1030.0 459.8 L1031.0 459.7 L1032.0 459.6 L1033.0 458.9 L1034.0 458.2 L1035.0 457.6 L1036.0 457.6 L1037.0 457.5 L1038.0 457.1 L1039.0 456.4 L1040.0 455.7 L1041.0 455.5 L1042.0 455.4 L1043.0 455.4 L1044.0 454.7 L1045.0 454.0 L1046.0 453.4 L1047.0 453.4 L1048.0 453.3 L1049.0 453.0 L1050.0 452.3 L1051.0 451.6 L1052.0 451.4 L1053.0 451.4 L1054.0 451.3 L1055.0 450.6 L1056.0 449.9 L1057.0 449.4 L1058.0 449.4 L1059.0 449.4 L1060.0 449.0 L1061.0 448.3 L1062.0 447.7 L1063.0 447.5 L1064.0 447.4 L1065.0 447.4 L1066.0 446.8 L1067.0 446.1 L1068.0 445.6 L1069.0 445.6 L1070.0 445.5 L1071.0 445.2 L1072.0 444.5 L1073.0 443.9 L1074.0 443.7 L1075.0 443.7 L1076.0 443.7 L1077.0 443.0 L1078.0 442.3 L1079.0 441.8 L1080.0 441.8 L1081.0 441.8 L1082.0 441.5 L1083.0 440.8 L1084.0 440.2 L1085.0 440.0 L1086.0 440.0 L1087.0 440.0 L1088.0 439.4 L1089.0 438.7 L1090.0 438.2 L1091.0 438.2 L1092.0 438.2 L1093.0 437.9 L1094.0 437.3 L1095.0 436.6 L1096.0 436.5 L1097.0 436.5 L1098.0 436.5 L1099.0 435.8 L1100.0 435.2 L1101.0 434.7 L1102.0 434.7 L1103.0 434.7 L1104.0 434.4 L1105.0 433.7 L1106.0 433.1 L1107.0 432.9 L1108.0 433.0 L1109.0 433.0 L1110.0 432.3 L1111.0 431.7 L1112.0 431.2 L1113.0 431.2 L1114.0 431.2 L1115.0 430.9 L1116.0 430.3 L1117.0 429.6 L1118.0 429.5 L1119.0 429.5 L1120.0 429.5 L1120.3 429.3" stroke="#000000" stroke-width="3.0"/>
<path d="M640.0 521.6 L641.0 521.6 L642.0 521.7 L643.0 521.7 L644.0 521.7 L645.0 521.8 L646.0 521.8 L647.0 521.8 L648.0 521.9 L649.0 521.9 L650.0 521.9 L651.0 521.9 L652.0 522.0 L653.0 522.0 L654.0 522.0 L655.0 522.0 L656.0 522.0 L657.0 522.1 L658.0 522.1 L659.0 522.1 L660.0 522.1 L661.0 522.1 L662.0 522.1 L663.0 522.2 L664.0 522.2 L665.0 522.2 L666.0 522.2 L667.0 522.2 L668.0 522.2 L669.0 522.2 L670.0 522.2 L671.0 522.2 L672.0 522.2 L673.0 522.2 L674.0 522.2 L675.0 522.2 L676.0 522.2 L677.0 522.2 L678.0 522.2 L679.0 522.2 L680.0 522.2 L681.0 522.2 L682.0 522.2 L683.0 522.2 L684.0 522.2 L685.0 522.2 L686.0 522.2 L687.0 522.1 L688.0 522.1 L689.0 522.1 L690.0 522.1 L691.0 522.1 L692.0 522.1 L693.0 522.1 L694.0 522.1 L695.0 522.0 L696.0 522.0 L697.0 522.0 L698.0 522.0 L699.0 522.0 L700.0 522.0 L701.0 521.9 L702.0 521.9 L703.0 521.9 L704.0 521.9 L705.0 521.9 L706.0 521.9 L707.0 521.8 L708.0 521.8 L709.0 521.8 L710.0 521.8 L711.0 521.8 L712.0 521.7 L713.0 521.7 L714.0 521.7 L715.0 521.7 L716.0 521.6 L717.0 521.6 L718.0 521.6 L719.0 521.6 L720.0 521.6 L721.0 521.5 L722.0 521.5 L723.0 521.5 L724.0 521.5 L725.0 521.5 L726.0 521.4 L727.0 521.4 L728.0 521.4 L729.0 521.4 L730.0 521.3 L731.0 521.3 L732.0 521.3 L733.0 521.3 L734.0 521.3 L735.0 521.2 L736.0 521.2 L737.0 521.2 L738.0 521.2 L739.0 521.2 L740.0 521.1 L741.0 521.1 L742.0 521.1 L743.0 521.1 L744.0 521.1 L745.0 521.1 L746.0 521.0 L747.0 521.0 L748.0 521.0 L749.0 521.0 L750.0 521.0 L751.0 521.0 L752.0 520.9 L753.0 520.9 L754.0 520.9 L755.0 520.9 L756.0 520.9 L757.0 520.9 L758.0 520.9 L759.0 520.9 L760.0 520.9 L761.0 520.8 L762.0 520.8 L763.0 520.8 L764.0 520.8 L765.0 520.8 L766.0 520.8 L767.0 520.8 L768.0 520.8 L769.0 520.8 L770.0 520.8 L771.0 520.8 L772.0 520.8 L773.0 520.8 L774.0 520.8 L775.0 520.8 L776.0 520.8 L777.0 520.8 L778.0 520.8 L779.0 520.8 L780.0 520.8 L781.0 520.9 L782.0 520.9 L783.0 520.9 L784.0 520.9 L785.0 520.9 L786.0 520.9 L787.0 520.9 L788.0 520.9 L789.0 521.0 L790.0 521.0 L791.0 521.0 L792.0 521.0 L793.0 521.1 L794.0 521.1 L795.0 521.1 L796.0 521.1 L797.0 521.2 L798.0 521.2 L799.0 521.2 L800.0 521.3 L801.0 521.3 L802.0 521.3 L803.0 521.4 L804.0 521.4 L805.0 521.4 L806.0 521.5 L807.0 521.5 L808.0 521.6 L809.0 521.6 L810.0 521.7 L811.0 521.7 L812.0 521.8 L813.0 521.8 L814.0 521.9 L815.0 521.9 L816.0 522.0 L817.0 522.0 L818.0 522.1 L819.0 522.1 L820.0 522.2 L821.0 522.2 L822.0 522.3 L823.0 522.3 L824.0 522.4 L825.0 522.4 L826.0 522.5 L827.0 522.5 L828.0 522.6 L829.0 522.6 L830.0 522.7 L831.0 522.7 L832.0 522.8 L833.0 522.8 L834.0 522.9 L835.0 522.9 L836.0 522.9 L837.0 523.0 L838.0 523.0 L839.0 523.1 L840.0 523.1 L841.0 523.1 L842.0 523.2 L843.0 523.2 L844.0 523.2 L845.0 523.2 L846.0 523.2 L847.0 523.3 L848.0 523.3 L849.0 523.3 L850.0 523.3 L851.0 523.3 L852.0 523.3 L853.0 523.3 L854.0 523.3 L855.0 523.3 L856.0 523.3 L857.0 523.3 L858.0 523.2 L859.0 523.2 L860.0 523.2 L861.0 523.2 L862.0 523.1 L863.0 523.1 L864.0 523.0 L865.0 523.0 L866.0 522.9 L867.0 522.9 L868.0 522.8 L869.0 522.8 L870.0 522.7 L871.0 522.6 L872.0 522.5 L873.0 522.4 L874.0 522.3 L875.0 522.2 L876.0 522.1 L877.0 522.0 L878.0 521.9 L879.0 521.8 L880.0 521.7 L881.0 521.5 L882.0 521.4 L883.0 521.2 L884.0 521.1 L885.0 520.9 L886.0 520.8 L887.0 520.6 L888.0 520.4 L889.0 520.2 L890.0 520.0 L891.0 519.8 L892.0 519.6 L893.0 519.4 L894.0 519.2 L895.0 519.0 L896.0 518.7 L897.0 518.5 L898.0 518.2 L899.0 518.0 L900.0 517.7 L901.0 517.3 L902.0 517.2 L903.0 517.0 L904.0 516.7 L905.0 516.3 L906.0 515.8 L907.0 515.4 L908.0 515.2 L909.0 515.0 L910.0 514.7 L911.0 514.4 L912.0 513.9 L913.0 513.4 L914.0 512.9 L915.0 512.7 L916.0 512.4 L917.0 512.1 L918.0 511.7 L919.0 511.2 L920.0 510.7 L921.0 510.2 L922.0 509.9 L923.0 509.6 L924.0 509.3 L925.0 508.9 L926.0 508.3 L927.0 507.8 L928.0 507.3 L929.0 507.0 L930.0 506.7 L931.0 506.3 L932.0 505.9 L933.0 505.4 L934.0 504.8 L935.0 504.3 L936.0 503.9 L937.0 503.6 L938.0 503.3 L939.0 502.9 L940.0 502.3 L941.0 501.7 L942.0 501.2 L943.0 500.8 L944.0 500.5 L945.0 500.2 L946.0 499.7 L947.0 499.2 L948.0 498.6 L949.0 498.0 L950.0 497.7 L951.0 497.3 L952.0 497.0 L953.0 496.5 L954.0 496.0 L955.0 495.4 L956.0 494.8 L957.0 494.5 L958.0 494.1 L959.0 493.8 L960.0 493.3 L961.0 492.7 L962.0 492.2 L963.0 491.6 L964.0 491.2 L965.0 490.9 L966.0 490.5 L967.0 490.1 L968.0 489.5 L969.0 488.9 L970.0 488.3 L971.0 488.0 L972.0 487.6 L973.0 487.2 L974.0 486.8 L975.0 486.2 L976.0 485.6 L977.0 485.0 L978.0 484.7 L979.0 484.3 L980.0 484.0 L981.0 483.5 L982.0 482.9 L983.0 482.3 L984.0 481.7 L985.0 481.4 L986.0 481.0 L987.0 480.7 L988.0 480.2 L989.0 479.6 L990.0 479.1 L991.0 478.5 L992.0 478.1 L993.0 477.8 L994.0 477.4 L995.0 477.0 L996.0 476.4 L997.0 475.8 L998.0 475.3 L999.0 474.9 L1000.0 474.6 L1001.0 474.2 L1002.0 473.8 L1003.0 473.2 L1004.0 472.6 L1005.0 472.1 L1006.0 471.7 L1007.0 471.4 L1008.0 471.1 L1009.0 470.6 L1010.0 470.0 L1011.0 469.5 L1012.0 468.9 L1013.0 468.6 L1014.0 468.3 L1015.0 468.0 L1016.0 467.5 L1017.0 467.0 L1018.0 466.4 L1019.0 465.9 L1020.0 465.6 L1021.0 465.2 L1022.0 464.9 L1023.0 464.5 L1024.0 464.0 L1025.0 463.4 L1026.0 462.9 L1027.0 462.6 L1028.0 462.3 L1029.0 462.0 L1030.0 461.6 L1031.0 461.1 L1032.0 460.5 L1033.0 460.0 L1034.0 459.7 L1035.0 459.4 L1036.0 459.2 L1037.0 458.8 L1038.0 458.2 L1039.0 457.7 L1040.0 457.2 L1041.0 457.0 L1042.0 456.7 L1043.0 456.4 L1044.0 456.0 L1045.0 455.6 L1046.0 455.1 L1047.0 454.6 L1048.0 454.3 L1049.0 454.1 L1050.0 453.8 L1051.0 453.4 L1052.0 453.0 L1053.0 452.5 L1054.0 452.0 L1055.0 451.8 L1056.0 451.5 L1057.0 451.3 L1058.0 450.9 L1059.0 450.4 L1060.0 450.0 L1061.0 449.5 L1062.0 449.3 L1063.0 449.0 L1064.0 448.8 L1065.0 448.4 L1066.0 448.0 L1067.0 447.5 L1068.0 447.1 L1069.0 446.8 L1070.0 446.6 L1071.0 446.4 L1072.0 446.0 L1073.0 445.6 L1074.0 445.1 L1075.0 444.7 L1076.0 444.4 L1077.0 444.2 L1078.0 444.0 L1079.0 443.7 L1080.0 443.2 L1081.0 442.8 L1082.0 442.3 L1083.0 442.1 L1084.0 441.9 L1085.0 441.6 L1086.0 441.3 L1087.0 440.9 L1088.0 440.4 L1089.0 440.0 L1090.0 439.8 L1091.0 439.5 L1092.0 439.3 L1093.0 439.0 L1094.0 438.5 L1095.0 438.1 L1096.0 437.6 L1097.0 437.4 L1098.0 437.2 L1099.0 437.0 L1100.0 436.6 L1101.0 436.2 L1102.0 435.7 L1103.0 435.3 L1104.0 435.1 L1105.0 434.8 L1106.0 434.6 L1107.0 434.3 L1108.0 433.8 L1109.0 433.4 L1110.0 432.9 L1111.0 432.7 L1112.0 432.5 L1113.0 432.2 L1114.0 431.9 L1115.0 431.4 L1116.0 431.0 L1117.0 430.5 L1118.0 430.3 L1119.0 430.0 L1120.0 429.8 L1120.3 429.7" stroke="#000000" stroke-width="2.8"/>
<path d="M305.2 573.1 L306.2 572.3 L307.2 571.5 L308.2 570.8 L309.2 570.1 L310.2 569.4 L311.2 568.6 L312.2 567.9 L313.2 567.2 L314.2 566.6 L315.2 565.9 L316.2 565.2 L317.2 564.5 L318.2 563.9 L319.2 563.2 L320.2 562.6 L321.2 562.0 L322.2 561.4 L323.2 560.8 L324.2 560.1 L325.2 559.6 L326.2 559.0 L327.2 558.4 L328.2 557.8 L329.2 557.3 L330.2 556.7 L331.2 556.2 L332.2 555.6 L333.2 555.1 L334.2 554.6 L335.2 554.0 L336.2 553.5 L337.2 553.0 L338.2 552.5 L339.2 552.0 L340.2 551.6 L341.2 551.1 L342.2 550.6 L343.2 550.2 L344.2 549.7 L345.2 549.3 L346.2 548.8 L347.2 548.4 L348.2 548.0 L349.2 547.5 L350.2 547.1 L351.2 546.7 L352.2 546.3 L353.2 545.9 L354.2 545.5 L355.2 545.1 L356.2 544.8 L357.2 544.4 L358.2 544.0 L359.2 543.7 L360.2 543.3 L361.2 543.0 L362.2 542.6 L363.2 542.3 L364.2 542.0 L365.2 541.6 L366.2 541.3 L367.2 541.0 L368.2 540.7 L369.2 540.4 L370.2 540.1 L371.2 539.8 L372.2 539.5 L373.2 539.2 L374.2 539.0 L375.2 538.7 L376.2 538.4 L377.2 538.2 L378.2 537.9 L379.2 537.7 L380.2 537.4 L381.2 537.2 L382.2 536.9 L383.2 536.7 L384.2 536.5 L385.2 536.2 L386.2 536.0 L387.2 535.8 L388.2 535.6 L389.2 535.4 L390.2 535.2 L391.2 535.0 L392.2 534.8 L393.2 534.6 L394.2 534.4 L395.2 534.2 L396.2 534.0 L397.2 533.8 L398.2 533.6 L399.2 533.5 L400.2 533.3 L401.2 533.1 L402.2 533.0 L403.2 532.8 L404.2 532.6 L405.2 532.5 L406.2 532.3 L407.2 532.2 L408.2 532.0 L409.2 531.9 L410.2 531.8 L411.2 531.6 L412.2 531.5 L413.2 531.3 L414.2 531.2 L415.2 531.1 L416.2 531.0 L417.2 530.8 L418.2 530.7 L419.2 530.6 L420.2 530.5 L421.2 530.4 L422.2 530.3 L423.2 530.1 L424.2 530.0 L425.2 529.9 L426.2 529.8 L427.2 529.7 L428.2 529.6 L429.2 529.5 L430.2 529.4 L431.2 529.3 L432.2 529.2 L433.2 529.2 L434.2 529.1 L435.2 529.0 L436.2 528.9 L437.2 528.8 L438.2 528.7 L439.2 528.7 L440.2 528.6 L441.2 528.5 L442.2 528.4 L443.2 528.4 L444.2 528.3 L445.2 528.2 L446.2 528.2 L447.2 528.1 L448.2 528.0 L449.2 528.0 L450.2 527.9 L451.2 527.9 L452.2 527.8 L453.2 527.8 L454.2 527.7 L455.2 527.6 L456.2 527.6 L457.2 527.5 L458.2 527.5 L459.2 527.5 L460.2 527.4 L461.2 527.4 L462.2 527.3 L463.2 527.3 L464.2 527.2 L465.2 527.2 L466.2 527.2 L467.2 527.1 L468.2 527.1 L469.2 527.1 L470.2 527.0 L471.2 527.0 L472.2 527.0 L473.2 526.9 L474.2 526.9 L475.2 526.9 L476.2 526.9 L477.2 526.8 L478.2 526.8 L479.2 526.8 L480.2 526.8 L481.2 526.8 L482.2 526.7 L483.2 526.7 L484.2 526.7 L485.2 526.7 L486.2 526.7 L487.2 526.7 L488.2 526.6 L489.2 526.6 L490.2 526.6 L491.2 526.6 L492.2 526.6 L493.2 526.6 L494.2 526.6 L495.2 526.6 L496.2 526.5 L497.2 526.5 L498.2 526.5 L499.2 526.5 L500.2 526.5 L501.2 526.5 L502.2 526.5 L503.2 526.5 L504.2 526.5 L505.2 526.5 L506.2 526.5 L507.2 526.5 L508.2 526.5 L509.2 526.5 L510.2 526.5 L511.2 526.5 L512.2 526.5 L513.2 526.5 L514.2 526.4 L515.2 526.4 L516.2 526.4 L517.2 526.4 L518.2 526.4 L519.2 526.4 L520.2 526.4 L521.2 526.4 L522.2 526.4 L523.2 526.4 L524.2 526.4 L525.2 526.4 L526.2 526.4 L527.2 526.4 L528.2 526.4 L529.2 526.4 L530.2 526.4 L531.2 526.4 L532.2 526.4 L533.2 526.4 L534.2 526.4 L535.2 526.4 L536.2 526.4 L537.2 526.4 L538.2 526.4 L539.2 526.4 L540.2 526.4 L541.2 526.4 L542.2 526.4 L543.2 526.4 L544.2 526.3 L545.2 526.3 L546.2 526.3 L547.2 526.3 L548.2 526.3 L549.2 526.3 L550.2 526.3 L551.2 526.3 L552.2 526.3 L553.2 526.3 L554.2 526.2 L555.2 526.2 L556.2 526.2 L557.2 526.2 L558.2 526.2 L559.2 526.2 L560.2 526.2 L561.2 526.1 L562.2 526.1 L563.2 526.1 L564.2 526.1 L565.2 526.0 L566.2 526.0 L567.2 526.0 L568.2 526.0 L569.2 525.9 L570.2 525.9 L571.2 525.9 L572.2 525.9 L573.2 525.8 L574.2 525.8 L575.2 525.8 L576.2 525.7 L577.2 525.7 L578.2 525.7 L579.2 525.6 L580.2 525.6 L581.2 525.5 L582.2 525.5 L583.2 525.5 L584.2 525.4 L585.2 525.4 L586.2 525.3 L587.2 525.3 L588.2 525.2 L589.2 525.2 L590.2 525.1 L591.2 525.1 L592.2 525.0 L593.2 525.0 L594.2 524.9 L595.2 524.8 L596.2 524.8 L597.2 524.7 L598.2 524.6 L599.2 524.6 L600.2 524.5 L601.2 524.4 L602.2 524.4 L603.2 524.3 L604.2 524.2 L605.2 524.1 L606.2 524.1 L607.2 524.0 L608.2 523.9 L609.2 523.8 L610.2 523.7 L611.2 523.6 L612.2 523.5 L613.2 523.4 L614.2 523.3 L615.2 523.3 L616.2 523.2 L617.2 523.0 L618.2 522.9 L619.2 522.8 L620.0 522.8" stroke="#ffc000" stroke-width="3.2"/>
<path d="M305.2 573.4 L306.2 572.9 L307.2 572.5 L308.2 572.0 L309.2 571.5 L310.2 571.1 L311.2 570.6 L312.2 570.2 L313.2 569.7 L314.2 569.3 L315.2 568.8 L316.2 568.4 L317.2 568.0 L318.2 567.5 L319.2 567.1 L320.2 566.7 L321.2 566.2 L322.2 565.8 L323.2 565.4 L324.2 565.0 L325.2 564.6 L326.2 564.2 L327.2 563.8 L328.2 563.4 L329.2 563.0 L330.2 562.6 L331.2 562.2 L332.2 561.8 L333.2 561.4 L334.2 561.0 L335.2 560.6 L336.2 560.3 L337.2 559.9 L338.2 559.5 L339.2 559.2 L340.2 558.8 L341.2 558.4 L342.2 558.1 L343.2 557.7 L344.2 557.4 L345.2 557.0 L346.2 556.7 L347.2 556.3 L348.2 556.0 L349.2 555.6 L350.2 555.3 L351.2 555.0 L352.2 554.6 L353.2 554.3 L354.2 554.0 L355.2 553.7 L356.2 553.3 L357.2 553.0 L358.2 552.7 L359.2 552.4 L360.2 552.1 L361.2 551.8 L362.2 551.5 L363.2 551.2 L364.2 550.9 L365.2 550.6 L366.2 550.3 L367.2 550.0 L368.2 549.7 L369.2 549.4 L370.2 549.1 L371.2 548.9 L372.2 548.6 L373.2 548.3 L374.2 548.0 L375.2 547.8 L376.2 547.5 L377.2 547.2 L378.2 547.0 L379.2 546.7 L380.2 546.5 L381.2 546.2 L382.2 545.9 L383.2 545.7 L384.2 545.4 L385.2 545.2 L386.2 545.0 L387.2 544.7 L388.2 544.5 L389.2 544.2 L390.2 544.0 L391.2 543.8 L392.2 543.5 L393.2 543.3 L394.2 543.1 L395.2 542.9 L396.2 542.6 L397.2 542.4 L398.2 542.2 L399.2 542.0 L400.2 541.8 L401.2 541.6 L402.2 541.4 L403.2 541.2 L404.2 541.0 L405.2 540.8 L406.2 540.6 L407.2 540.4 L408.2 540.2 L409.2 540.0 L410.2 539.8 L411.2 539.6 L412.2 539.4 L413.2 539.2 L414.2 539.0 L415.2 538.9 L416.2 538.7 L417.2 538.5 L418.2 538.3 L419.2 538.1 L420.2 538.0 L421.2 537.8 L422.2 537.6 L423.2 537.5 L424.2 537.3 L425.2 537.1 L426.2 537.0 L427.2 536.8 L428.2 536.7 L429.2 536.5 L430.2 536.4 L431.2 536.2 L432.2 536.1 L433.2 535.9 L434.2 535.8 L435.2 535.6 L436.2 535.5 L437.2 535.3 L438.2 535.2 L439.2 535.1 L440.2 534.9 L441.2 534.8 L442.2 534.6 L443.2 534.5 L444.2 534.4 L445.2 534.3 L446.2 534.1 L447.2 534.0 L448.2 533.9 L449.2 533.8 L450.2 533.6 L451.2 533.5 L452.2 533.4 L453.2 533.3 L454.2 533.2 L455.2 533.0 L456.2 532.9 L457.2 532.8 L458.2 532.7 L459.2 532.6 L460.2 532.5 L461.2 532.4 L462.2 532.3 L463.2 532.2 L464.2 532.1 L465.2 532.0 L466.2 531.9 L467.2 531.8 L468.2 531.7 L469.2 531.6 L470.2 531.5 L471.2 531.4 L472.2 531.3 L473.2 531.2 L474.2 531.1 L475.2 531.0 L476.2 531.0 L477.2 530.9 L478.2 530.8 L479.2 530.7 L480.2 530.6 L481.2 530.5 L482.2 530.5 L483.2 530.4 L484.2 530.3 L485.2 530.2 L486.2 530.1 L487.2 530.1 L488.2 530.0 L489.2 529.9 L490.2 529.8 L491.2 529.8 L492.2 529.7 L493.2 529.6 L494.2 529.6 L495.2 529.5 L496.2 529.4 L497.2 529.4 L498.2 529.3 L499.2 529.2 L500.2 529.2 L501.2 529.1 L502.2 529.0 L503.2 529.0 L504.2 528.9 L505.2 528.9 L506.2 528.8 L507.2 528.7 L508.2 528.7 L509.2 528.6 L510.2 528.6 L511.2 528.5 L512.2 528.5 L513.2 528.4 L514.2 528.4 L515.2 528.3 L516.2 528.3 L517.2 528.2 L518.2 528.2 L519.2 528.1 L520.2 528.1 L521.2 528.0 L522.2 528.0 L523.2 527.9 L524.2 527.9 L525.2 527.8 L526.2 527.8 L527.2 527.7 L528.2 527.7 L529.2 527.6 L530.2 527.6 L531.2 527.5 L532.2 527.5 L533.2 527.4 L534.2 527.4 L535.2 527.4 L536.2 527.3 L537.2 527.3 L538.2 527.2 L539.2 527.2 L540.2 527.2 L541.2 527.1 L542.2 527.1 L543.2 527.0 L544.2 527.0 L545.2 526.9 L546.2 526.9 L547.2 526.9 L548.2 526.8 L549.2 526.8 L550.2 526.7 L551.2 526.7 L552.2 526.7 L553.2 526.6 L554.2 526.6 L555.2 526.6 L556.2 526.5 L557.2 526.5 L558.2 526.4 L559.2 526.4 L560.2 526.4 L561.2 526.3 L562.2 526.3 L563.2 526.2 L564.2 526.2 L565.2 526.2 L566.2 526.1 L567.2 526.1 L568.2 526.1 L569.2 526.0 L570.2 526.0 L571.2 525.9 L572.2 525.9 L573.2 525.9 L574.2 525.8 L575.2 525.8 L576.2 525.7 L577.2 525.7 L578.2 525.7 L579.2 525.6 L580.2 525.6 L581.2 525.5 L582.2 525.5 L583.2 525.5 L584.2 525.4 L585.2 525.4 L586.2 525.3 L587.2 525.3 L588.2 525.3 L589.2 525.2 L590.2 525.2 L591.2 525.1 L592.2 525.1 L593.2 525.0 L594.2 525.0 L595.2 524.9 L596.2 524.9 L597.2 524.8 L598.2 524.8 L599.2 524.8 L600.2 524.7 L601.2 524.7 L602.2 524.6 L603.2 524.6 L604.2 524.5 L605.2 524.5 L606.2 524.4 L607.2 524.4 L608.2 524.3 L609.2 524.3 L610.2 524.2 L611.2 524.1 L612.2 524.1 L613.2 524.0 L614.2 524.0 L615.2 523.9 L616.2 523.9 L617.2 523.8 L618.2 523.7 L619.2 523.7 L620.2 523.6 L621.2 523.6 L622.2 523.5 L623.2 523.4 L624.2 523.4 L625.2 523.3 L626.2 523.2 L627.2 523.2 L628.2 523.1 L629.2 523.0 L630.0 523.0" stroke="#ffc000" stroke-width="3.2"/>
<path d="M700.0 522.3 L701.0 522.3 L702.0 522.2 L703.0 522.1 L704.0 522.0 L705.0 521.9 L706.0 521.8 L707.0 521.7 L708.0 521.6 L709.0 521.4 L710.0 521.3 L711.0 521.2 L712.0 521.0 L713.0 520.9 L714.0 520.7 L715.0 520.5 L716.0 520.3 L717.0 520.2 L718.0 520.0 L719.0 519.8 L720.0 519.6 L721.0 519.4 L722.0 519.2 L723.0 519.0 L724.0 518.7 L725.0 518.5 L726.0 518.3 L727.0 518.1 L728.0 517.8 L729.0 517.6 L730.0 517.3 L731.0 517.1 L732.0 516.8 L733.0 516.5 L734.0 516.3 L735.0 516.0 L736.0 515.7 L737.0 515.4 L738.0 515.1 L739.0 514.8 L740.0 514.6 L741.0 514.3 L742.0 514.0 L743.0 513.6 L744.0 513.3 L745.0 513.0 L746.0 512.7 L747.0 512.4 L748.0 512.1 L749.0 511.7 L750.0 511.4 L751.0 511.1 L752.0 510.7 L753.0 510.4 L754.0 510.1 L755.0 509.7 L756.0 509.4 L757.0 509.0 L758.0 508.7 L759.0 508.3 L760.0 508.0 L761.0 507.6 L762.0 507.2 L763.0 506.9 L764.0 506.5 L765.0 506.1 L766.0 505.8 L767.0 505.4 L768.0 505.0 L769.0 504.7 L770.0 504.3 L771.0 503.9 L772.0 503.5 L773.0 503.2 L774.0 502.8 L775.0 502.4 L776.0 502.0 L777.0 501.7 L778.0 501.3 L779.0 500.9 L780.0 500.5 L781.0 500.1 L782.0 499.8 L783.0 499.4 L784.0 499.0 L785.0 498.6 L786.0 498.2 L787.0 497.8 L788.0 497.5 L789.0 497.1 L790.0 496.7 L791.0 496.3 L792.0 496.0 L793.0 495.6 L794.0 495.2 L795.0 494.8 L796.0 494.4 L797.0 494.1 L798.0 493.7 L799.0 493.3 L800.0 493.0 L801.0 492.6 L802.0 492.2 L803.0 491.9 L804.0 491.5 L805.0 491.1 L806.0 490.8 L807.0 490.4 L808.0 490.1 L809.0 489.7 L810.0 489.4 L811.0 489.0 L812.0 488.7 L813.0 488.3 L814.0 488.0 L815.0 487.7 L816.0 487.3 L817.0 487.0 L818.0 486.7 L819.0 486.3 L820.0 486.0 L821.0 485.7 L822.0 485.4 L823.0 485.1 L824.0 484.7 L825.0 484.4 L826.0 484.1 L827.0 483.8 L828.0 483.5 L829.0 483.2 L830.0 482.9 L831.0 482.6 L832.0 482.3 L833.0 482.0 L834.0 481.7 L835.0 481.4 L836.0 481.1 L837.0 480.8 L838.0 480.5 L839.0 480.3 L840.0 480.0 L841.0 479.7 L842.0 479.4 L843.0 479.1 L844.0 478.9 L845.0 478.6 L846.0 478.3 L847.0 478.0 L848.0 477.8 L849.0 477.5 L850.0 477.2 L851.0 477.0 L852.0 476.7 L853.0 476.4 L854.0 476.2 L855.0 475.9 L856.0 475.7 L857.0 475.4 L858.0 475.1 L859.0 474.9 L860.0 474.6 L861.0 474.4 L862.0 474.1 L863.0 473.9 L864.0 473.6 L865.0 473.4 L866.0 473.1 L867.0 472.9 L868.0 472.6 L869.0 472.4 L870.0 472.1 L871.0 471.9 L872.0 471.6 L873.0 471.4 L874.0 471.1 L875.0 470.9 L876.0 470.6 L877.0 470.4 L878.0 470.2 L879.0 469.9 L880.0 469.7 L881.0 469.4 L882.0 469.2 L883.0 468.9 L884.0 468.7 L885.0 468.5 L886.0 468.2 L887.0 468.0 L888.0 467.7 L889.0 467.5 L890.0 467.3 L891.0 467.0 L892.0 466.8 L893.0 466.5 L894.0 466.3 L895.0 466.1 L896.0 465.8 L897.0 465.6 L898.0 465.3 L899.0 465.1 L900.0 464.8 L901.0 464.6 L902.0 464.4 L903.0 464.1 L904.0 463.9 L905.0 463.6 L906.0 463.4 L907.0 463.1 L908.0 462.9 L909.0 462.6 L910.0 462.4 L911.0 462.1 L912.0 461.9 L913.0 461.7 L914.0 461.4 L915.0 461.1 L916.0 460.9 L917.0 460.6 L918.0 460.4 L919.0 460.1 L920.0 459.9 L921.0 459.6 L922.0 459.4 L923.0 459.1 L924.0 458.8 L925.0 458.6 L926.0 458.3 L927.0 458.0 L928.0 457.8 L929.0 457.5 L930.0 457.2 L931.0 457.0 L932.0 456.7 L933.0 456.4 L934.0 456.2 L935.0 455.9 L936.0 455.6 L937.0 455.3 L938.0 455.0 L939.0 454.8 L940.0 454.5 L941.0 454.2 L942.0 453.9 L943.0 453.6 L944.0 453.3 L945.0 453.0 L946.0 452.7 L947.0 452.4 L948.0 452.1 L949.0 451.8 L950.0 451.5 L951.0 451.2 L952.0 450.9 L953.0 450.6 L954.0 450.3 L955.0 450.0 L956.0 449.7 L957.0 449.4 L958.0 449.1 L959.0 448.7 L960.0 448.4 L961.0 448.1 L962.0 447.8 L963.0 447.4 L964.0 447.1 L965.0 446.8 L966.0 446.4 L967.0 446.1 L968.0 445.8 L969.0 445.4 L970.0 445.1 L971.0 444.7 L972.0 444.4 L973.0 444.0 L974.0 443.7 L975.0 443.3 L976.0 443.0 L977.0 442.6 L978.0 442.3 L979.0 441.9 L980.0 441.5 L981.0 441.2 L982.0 440.8 L983.0 440.4 L984.0 440.1 L985.0 439.7 L986.0 439.3 L987.0 438.9 L988.0 438.5 L989.0 438.2 L990.0 437.8 L991.0 437.4 L992.0 437.0 L993.0 436.6 L994.0 436.2 L995.0 435.8 L996.0 435.4 L997.0 435.0 L998.0 434.6 L999.0 434.2 L1000.0 433.8 L1001.0 433.4 L1002.0 432.9 L1003.0 432.5 L1004.0 432.1 L1005.0 431.7 L1006.0 431.3 L1007.0 430.8 L1008.0 430.4 L1009.0 430.0 L1010.0 429.5 L1011.0 429.1 L1012.0 428.6 L1013.0 428.2 L1014.0 427.8 L1015.0 427.3 L1016.0 426.9 L1017.0 426.4 L1018.0 425.9 L1019.0 425.5 L1020.0 425.0 L1021.0 424.6 L1022.0 424.1 L1023.0 423.6 L1024.0 423.1 L1025.0 422.7 L1026.0 422.2 L1027.0 421.7 L1028.0 421.2 L1029.0 420.7 L1030.0 420.2 L1031.0 419.7 L1032.0 419.3 L1033.0 418.8 L1034.0 418.3 L1035.0 417.7 L1036.0 417.2 L1037.0 416.7 L1038.0 416.2 L1039.0 415.7 L1040.0 415.2 L1041.0 414.7 L1042.0 414.1 L1043.0 413.6 L1044.0 413.1 L1045.0 412.5 L1046.0 412.0 L1047.0 411.5 L1048.0 410.9 L1049.0 410.4 L1050.0 409.8 L1051.0 409.3 L1052.0 408.7 L1053.0 408.2 L1054.0 407.6 L1055.0 407.0 L1056.0 406.5 L1057.0 405.9 L1058.0 405.3 L1059.0 404.7 L1060.0 404.2 L1061.0 403.6 L1062.0 403.0 L1063.0 402.4 L1064.0 401.8 L1065.0 401.2 L1066.0 400.6 L1067.0 400.0 L1068.0 399.4 L1069.0 398.8 L1070.0 398.2 L1071.0 397.6 L1072.0 396.9 L1073.0 396.3 L1074.0 395.7 L1075.0 395.1 L1076.0 394.4 L1077.0 393.8 L1078.0 393.1 L1079.0 392.5 L1080.0 391.9 L1081.0 391.2 L1082.0 390.6 L1083.0 389.9 L1084.0 389.2 L1085.0 388.6 L1086.0 387.9 L1087.0 387.2 L1088.0 386.6 L1089.0 385.9 L1090.0 385.2 L1091.0 384.5 L1092.0 383.8 L1093.0 383.1 L1094.0 382.4 L1095.0 381.7 L1096.0 381.0 L1097.0 380.3 L1098.0 379.6 L1099.0 378.9 L1100.0 378.2 L1101.0 377.5 L1102.0 376.7 L1103.0 376.0 L1104.0 375.3 L1105.0 374.5 L1106.0 373.8 L1107.0 373.1 L1108.0 372.3 L1109.0 371.6 L1110.0 370.8 L1111.0 370.0 L1112.0 369.3 L1113.0 368.5 L1114.0 367.7 L1115.0 367.0 L1116.0 366.2 L1117.0 365.4 L1118.0 364.6 L1119.0 363.8 L1119.4 363.5" stroke="#ffc000" stroke-width="3.2"/>
<path d="M760.0 522.4 L761.0 522.4 L762.0 522.5 L763.0 522.5 L764.0 522.5 L765.0 522.5 L766.0 522.6 L767.0 522.6 L768.0 522.6 L769.0 522.6 L770.0 522.6 L771.0 522.6 L772.0 522.6 L773.0 522.6 L774.0 522.6 L775.0 522.6 L776.0 522.6 L777.0 522.6 L778.0 522.6 L779.0 522.6 L780.0 522.6 L781.0 522.6 L782.0 522.6 L783.0 522.5 L784.0 522.5 L785.0 522.5 L786.0 522.5 L787.0 522.4 L788.0 522.4 L789.0 522.4 L790.0 522.3 L791.0 522.3 L792.0 522.3 L793.0 522.2 L794.0 522.2 L795.0 522.1 L796.0 522.1 L797.0 522.0 L798.0 522.0 L799.0 521.9 L800.0 521.8 L801.0 521.8 L802.0 521.7 L803.0 521.7 L804.0 521.6 L805.0 521.5 L806.0 521.5 L807.0 521.4 L808.0 521.3 L809.0 521.2 L810.0 521.2 L811.0 521.1 L812.0 521.0 L813.0 520.9 L814.0 520.8 L815.0 520.7 L816.0 520.6 L817.0 520.6 L818.0 520.5 L819.0 520.4 L820.0 520.3 L821.0 520.2 L822.0 520.1 L823.0 520.0 L824.0 519.9 L825.0 519.8 L826.0 519.7 L827.0 519.6 L828.0 519.4 L829.0 519.3 L830.0 519.2 L831.0 519.1 L832.0 519.0 L833.0 518.9 L834.0 518.8 L835.0 518.6 L836.0 518.5 L837.0 518.4 L838.0 518.3 L839.0 518.1 L840.0 518.0 L841.0 517.9 L842.0 517.8 L843.0 517.6 L844.0 517.5 L845.0 517.4 L846.0 517.2 L847.0 517.1 L848.0 517.0 L849.0 516.8 L850.0 516.7 L851.0 516.5 L852.0 516.4 L853.0 516.2 L854.0 516.1 L855.0 515.9 L856.0 515.8 L857.0 515.7 L858.0 515.5 L859.0 515.4 L860.0 515.2 L861.0 515.0 L862.0 514.9 L863.0 514.7 L864.0 514.6 L865.0 514.4 L866.0 514.3 L867.0 514.1 L868.0 513.9 L869.0 513.8 L870.0 513.6 L871.0 513.5 L872.0 513.3 L873.0 513.1 L874.0 513.0 L875.0 512.8 L876.0 512.6 L877.0 512.5 L878.0 512.3 L879.0 512.1 L880.0 512.0 L881.0 511.8 L882.0 511.6 L883.0 511.4 L884.0 511.3 L885.0 511.1 L886.0 510.9 L887.0 510.7 L888.0 510.6 L889.0 510.4 L890.0 510.2 L891.0 510.0 L892.0 509.9 L893.0 509.7 L894.0 509.5 L895.0 509.3 L896.0 509.1 L897.0 509.0 L898.0 508.8 L899.0 508.6 L900.0 508.4 L901.0 508.2 L902.0 508.0 L903.0 507.9 L904.0 507.7 L905.0 507.5 L906.0 507.3 L907.0 507.1 L908.0 506.9 L909.0 506.8 L910.0 506.6 L911.0 506.4 L912.0 506.2 L913.0 506.0 L914.0 505.8 L915.0 505.6 L916.0 505.5 L917.0 505.3 L918.0 505.1 L919.0 504.9 L920.0 504.7 L921.0 504.5 L922.0 504.3 L923.0 504.1 L924.0 504.0 L925.0 503.8 L926.0 503.6 L927.0 503.4 L928.0 503.2 L929.0 503.0 L930.0 502.8 L931.0 502.6 L932.0 502.4 L933.0 502.2 L934.0 502.1 L935.0 501.9 L936.0 501.7 L937.0 501.5 L938.0 501.3 L939.0 501.1 L940.0 500.9 L941.0 500.7 L942.0 500.5 L943.0 500.3 L944.0 500.1 L945.0 499.8 L946.0 499.6 L947.0 499.4 L948.0 499.2 L949.0 499.0 L950.0 498.8 L951.0 498.6 L952.0 498.3 L953.0 498.1 L954.0 497.9 L955.0 497.7 L956.0 497.4 L957.0 497.2 L958.0 497.0 L959.0 496.7 L960.0 496.5 L961.0 496.3 L962.0 496.0 L963.0 495.8 L964.0 495.5 L965.0 495.3 L966.0 495.0 L967.0 494.8 L968.0 494.5 L969.0 494.3 L970.0 494.0 L971.0 493.7 L972.0 493.4 L973.0 493.2 L974.0 492.9 L975.0 492.6 L976.0 492.3 L977.0 492.0 L978.0 491.7 L979.0 491.4 L980.0 491.1 L981.0 490.8 L982.0 490.5 L983.0 490.2 L984.0 489.9 L985.0 489.6 L986.0 489.3 L987.0 488.9 L988.0 488.6 L989.0 488.3 L990.0 487.9 L991.0 487.6 L992.0 487.2 L993.0 486.9 L994.0 486.5 L995.0 486.2 L996.0 485.8 L997.0 485.4 L998.0 485.0 L999.0 484.7 L1000.0 484.3 L1001.0 483.9 L1002.0 483.5 L1003.0 483.1 L1004.0 482.7 L1005.0 482.3 L1006.0 481.9 L1007.0 481.4 L1008.0 481.0 L1009.0 480.6 L1010.0 480.1 L1011.0 479.7 L1012.0 479.2 L1013.0 478.8 L1014.0 478.3 L1015.0 477.9 L1016.0 477.4 L1017.0 476.9 L1018.0 476.4 L1019.0 475.9 L1020.0 475.4 L1021.0 474.9 L1022.0 474.4 L1023.0 473.9 L1024.0 473.4 L1025.0 472.8 L1026.0 472.3 L1027.0 471.7 L1028.0 471.2 L1029.0 470.6 L1030.0 470.1 L1031.0 469.5 L1032.0 468.9 L1033.0 468.3 L1034.0 467.7 L1035.0 467.1 L1036.0 466.4 L1037.0 465.8 L1038.0 465.2 L1039.0 464.5 L1040.0 463.9 L1041.0 463.2 L1042.0 462.5 L1043.0 461.8 L1044.0 461.1 L1045.0 460.4 L1046.0 459.7 L1047.0 458.9 L1048.0 458.2 L1049.0 457.4 L1050.0 456.6 L1051.0 455.9 L1052.0 455.1 L1053.0 454.3 L1054.0 453.4 L1055.0 452.6 L1056.0 451.8 L1057.0 450.9 L1058.0 450.0 L1059.0 449.1 L1060.0 448.2 L1061.0 447.3 L1062.0 446.4 L1063.0 445.5 L1064.0 444.5 L1065.0 443.5 L1066.0 442.6 L1067.0 441.6 L1068.0 440.5 L1069.0 439.5 L1070.0 438.5 L1071.0 437.4 L1072.0 436.3 L1073.0 435.2 L1074.0 434.1 L1075.0 433.0 L1076.0 431.9 L1077.0 430.7 L1078.0 429.5 L1079.0 428.4 L1080.0 427.1 L1081.0 425.9 L1082.0 424.7 L1083.0 423.4 L1084.0 422.1 L1085.0 420.9 L1086.0 419.5 L1087.0 418.2 L1088.0 416.9 L1089.0 415.5 L1090.0 414.1 L1091.0 412.7 L1092.0 411.3 L1093.0 409.8 L1094.0 408.4 L1095.0 406.9 L1096.0 405.4 L1097.0 403.8 L1098.0 402.3 L1099.0 400.7 L1100.0 399.2 L1101.0 397.5 L1102.0 395.9 L1103.0 394.3 L1104.0 392.6 L1105.0 390.9 L1106.0 389.2 L1107.0 387.5 L1108.0 385.7 L1109.0 383.9 L1110.0 382.1 L1111.0 380.3 L1112.0 378.4 L1113.0 376.6 L1114.0 374.7 L1115.0 372.7 L1116.0 370.8 L1117.0 368.8 L1118.0 366.8 L1119.0 364.8 L1119.4 364.0" stroke="#ffc000" stroke-width="3.2"/>
<path d="M305.2 547.3 L306.2 546.4 L307.2 545.6 L308.2 544.7 L309.2 543.9 L310.2 543.1 L311.2 542.3 L312.2 541.5 L313.2 540.8 L314.2 540.1 L315.2 539.4 L316.2 538.7 L317.2 538.0 L318.2 537.4 L319.2 536.7 L320.2 536.1 L321.2 535.5 L322.2 535.0 L323.2 534.4 L324.2 533.9 L325.2 533.4 L326.2 532.9 L327.2 532.4 L328.2 531.9 L329.2 531.4 L330.2 531.0 L331.2 530.6 L332.2 530.2 L333.2 529.8 L334.2 529.4 L335.2 529.0 L336.2 528.7 L337.2 528.3 L338.2 528.0 L339.2 527.7 L340.2 527.4 L341.2 527.1 L342.2 526.8 L343.2 526.6 L344.2 526.3 L345.2 526.1 L346.2 525.9 L347.2 525.6 L348.2 525.4 L349.2 525.2 L350.2 525.1 L351.2 524.9 L352.2 524.7 L353.2 524.6 L354.2 524.4 L355.2 524.3 L356.2 524.2 L357.2 524.0 L358.2 523.9 L359.2 523.8 L360.2 523.7 L361.2 523.6 L362.2 523.5 L363.2 523.5 L364.2 523.4 L365.2 523.3 L366.2 523.3 L367.2 523.2 L368.2 523.2 L369.2 523.1 L370.2 523.1 L371.2 523.0 L372.2 523.0 L373.2 523.0 L374.2 522.9 L375.2 522.9 L376.2 522.9 L377.2 522.9 L378.2 522.9 L379.2 522.9 L380.2 522.8 L381.2 522.8 L382.2 522.8 L383.2 522.8 L384.2 522.8 L385.2 522.8 L386.2 522.8 L387.2 522.8 L388.2 522.8 L389.2 522.8 L390.2 522.8 L391.2 522.8 L392.2 522.8 L393.2 522.8 L394.2 522.7 L395.2 522.7 L396.2 522.7 L397.2 522.7 L398.2 522.7 L399.2 522.6 L400.0 522.6" stroke="#4472c4" stroke-width="3.2"/>
<path d="M305.2 547.5 L306.2 547.1 L307.2 546.6 L308.2 546.2 L309.2 545.8 L310.2 545.4 L311.2 545.0 L312.2 544.6 L313.2 544.2 L314.2 543.8 L315.2 543.5 L316.2 543.1 L317.2 542.7 L318.2 542.3 L319.2 542.0 L320.2 541.6 L321.2 541.2 L322.2 540.9 L323.2 540.5 L324.2 540.2 L325.2 539.8 L326.2 539.5 L327.2 539.1 L328.2 538.8 L329.2 538.4 L330.2 538.1 L331.2 537.8 L332.2 537.5 L333.2 537.1 L334.2 536.8 L335.2 536.5 L336.2 536.2 L337.2 535.9 L338.2 535.6 L339.2 535.3 L340.2 535.0 L341.2 534.7 L342.2 534.4 L343.2 534.1 L344.2 533.8 L345.2 533.5 L346.2 533.2 L347.2 533.0 L348.2 532.7 L349.2 532.4 L350.2 532.1 L351.2 531.9 L352.2 531.6 L353.2 531.3 L354.2 531.1 L355.2 530.8 L356.2 530.6 L357.2 530.3 L358.2 530.1 L359.2 529.8 L360.2 529.6 L361.2 529.4 L362.2 529.1 L363.2 528.9 L364.2 528.6 L365.2 528.4 L366.2 528.2 L367.2 528.0 L368.2 527.7 L369.2 527.5 L370.2 527.3 L371.2 527.1 L372.2 526.9 L373.2 526.7 L374.2 526.5 L375.2 526.3 L376.2 526.1 L377.2 525.9 L378.2 525.7 L379.2 525.5 L380.2 525.3 L381.2 525.1 L382.2 524.9 L383.2 524.7 L384.2 524.5 L385.2 524.3 L386.2 524.1 L387.2 524.0 L388.2 523.8 L389.2 523.6 L390.2 523.4 L391.2 523.3 L392.2 523.1 L393.2 522.9 L394.2 522.8 L395.2 522.6 L396.2 522.4 L397.2 522.3 L398.2 522.1 L399.2 522.0 L400.2 521.8 L401.2 521.7 L402.2 521.5 L403.2 521.4 L404.2 521.2 L405.2 521.1 L406.2 520.9 L407.2 520.8 L408.2 520.6 L409.2 520.5 L410.2 520.4 L411.2 520.2 L412.2 520.1 L413.2 520.0 L414.2 519.8 L415.2 519.7 L416.2 519.6 L417.2 519.4 L418.2 519.3 L419.2 519.2 L420.2 519.1 L421.2 518.9 L422.2 518.8 L423.2 518.7 L424.2 518.6 L425.2 518.5 L426.2 518.4 L427.2 518.2 L428.2 518.1 L429.2 518.0 L430.2 517.9 L431.2 517.8 L432.2 517.7 L433.2 517.6 L434.2 517.5 L435.2 517.4 L436.2 517.3 L437.2 517.2 L438.2 517.1 L439.2 517.0 L440.2 516.9 L441.2 516.8 L442.2 516.7 L443.2 516.6 L444.2 516.5 L445.2 516.5 L446.2 516.4 L447.2 516.3 L448.2 516.3 L449.2 516.2 L450.2 516.2 L451.2 516.1 L452.2 516.1 L453.2 516.0 L454.2 516.0 L455.2 516.0 L456.2 515.9 L457.2 515.9 L458.2 515.9 L459.2 515.9 L460.2 515.9 L461.2 515.9 L462.2 516.0 L463.2 516.0 L464.2 516.0 L465.2 516.0 L466.2 516.1 L467.2 516.1 L468.2 516.2 L469.2 516.2 L470.2 516.3 L471.2 516.3 L472.2 516.4 L473.2 516.5 L474.2 516.5 L475.2 516.6 L476.2 516.7 L477.2 516.7 L478.2 516.8 L479.2 516.9 L480.2 517.0 L481.2 517.1 L482.2 517.2 L483.2 517.2 L484.2 517.3 L485.2 517.4 L486.2 517.5 L487.2 517.6 L488.2 517.7 L489.2 517.7 L490.2 517.8 L491.2 517.9 L492.2 518.0 L493.2 518.1 L494.2 518.2 L495.2 518.2 L496.2 518.3 L497.2 518.4 L498.2 518.5 L499.2 518.6 L500.2 518.7 L501.2 518.7 L502.2 518.8 L503.2 518.9 L504.2 519.0 L505.2 519.0 L506.2 519.1 L507.2 519.2 L508.2 519.3 L509.2 519.3 L510.2 519.4 L511.2 519.5 L512.2 519.5 L513.2 519.6 L514.2 519.6 L515.2 519.7 L516.2 519.8 L517.2 519.8 L518.2 519.9 L519.2 519.9 L520.2 520.0 L521.2 520.0 L522.2 520.1 L523.2 520.1 L524.2 520.1 L525.2 520.2 L526.2 520.2 L527.2 520.2 L528.2 520.2 L529.2 520.3 L530.2 520.3 L531.2 520.3 L532.2 520.3 L533.2 520.3 L534.2 520.3 L535.2 520.3 L536.2 520.3 L537.2 520.3 L538.2 520.3 L539.2 520.3 L540.2 520.3 L541.2 520.3 L542.2 520.3 L543.2 520.3 L544.2 520.3 L545.2 520.3 L546.2 520.2 L547.2 520.2 L548.2 520.2 L549.2 520.2 L550.2 520.2 L551.2 520.1 L552.2 520.1 L553.2 520.1 L554.2 520.1 L555.2 520.0 L556.2 520.0 L557.2 520.0 L558.2 519.9 L559.2 519.9 L560.2 519.9 L561.2 519.9 L562.2 519.8 L563.2 519.8 L564.2 519.8 L565.2 519.8 L566.2 519.7 L567.2 519.7 L568.2 519.7 L569.2 519.7 L570.2 519.7 L571.2 519.7 L572.2 519.6 L573.2 519.6 L574.2 519.6 L575.2 519.6 L576.2 519.6 L577.2 519.6 L578.2 519.6 L579.2 519.6 L580.2 519.6 L581.2 519.6 L582.2 519.6 L583.2 519.6 L584.2 519.6 L585.2 519.6 L586.2 519.7 L587.2 519.7 L588.2 519.7 L589.2 519.7 L590.2 519.8 L591.2 519.8 L592.2 519.8 L593.2 519.9 L594.2 519.9 L595.2 520.0 L596.2 520.0 L597.2 520.1 L598.2 520.2 L599.2 520.2 L600.0 520.3" stroke="#4472c4" stroke-width="3.2"/>
<path d="M640.0 521.4 L641.0 521.5 L642.0 521.6 L643.0 521.7 L644.0 521.8 L645.0 521.8 L646.0 521.9 L647.0 522.0 L648.0 522.1 L649.0 522.1 L650.0 522.2 L651.0 522.2 L652.0 522.3 L653.0 522.3 L654.0 522.4 L655.0 522.4 L656.0 522.5 L657.0 522.5 L658.0 522.5 L659.0 522.6 L660.0 522.6 L661.0 522.6 L662.0 522.6 L663.0 522.6 L664.0 522.6 L665.0 522.6 L666.0 522.6 L667.0 522.6 L668.0 522.6 L669.0 522.6 L670.0 522.6 L671.0 522.6 L672.0 522.6 L673.0 522.5 L674.0 522.5 L675.0 522.5 L676.0 522.4 L677.0 522.4 L678.0 522.3 L679.0 522.3 L680.0 522.2 L681.0 522.2 L682.0 522.1 L683.0 522.1 L684.0 522.0 L685.0 521.9 L686.0 521.8 L687.0 521.8 L688.0 521.7 L689.0 521.6 L690.0 521.5 L691.0 521.4 L692.0 521.3 L693.0 521.2 L694.0 521.1 L695.0 521.0 L696.0 520.9 L697.0 520.8 L698.0 520.6 L699.0 520.5 L700.0 520.4 L701.0 520.3 L702.0 520.1 L703.0 520.0 L704.0 519.8 L705.0 519.7 L706.0 519.5 L707.0 519.4 L708.0 519.2 L709.0 519.1 L710.0 518.9 L711.0 518.7 L712.0 518.5 L713.0 518.4 L714.0 518.2 L715.0 518.0 L716.0 517.8 L717.0 517.6 L718.0 517.4 L719.0 517.2 L720.0 517.0 L721.0 516.8 L722.0 516.6 L723.0 516.4 L724.0 516.2 L725.0 515.9 L726.0 515.7 L727.0 515.5 L728.0 515.2 L729.0 515.0 L730.0 514.8 L731.0 514.5 L732.0 514.3 L733.0 514.0 L734.0 513.7 L735.0 513.5 L736.0 513.2 L737.0 512.9 L738.0 512.7 L739.0 512.4 L740.0 512.1 L741.0 511.8 L742.0 511.5 L743.0 511.2 L744.0 511.0 L745.0 510.7 L746.0 510.3 L747.0 510.0 L748.0 509.7 L749.0 509.4 L750.0 509.1 L751.0 508.8 L752.0 508.4 L753.0 508.1 L754.0 507.8 L755.0 507.4 L756.0 507.1 L757.0 506.7 L758.0 506.4 L759.0 506.0 L760.0 505.7 L761.0 505.3 L762.0 505.0 L763.0 504.6 L764.0 504.2 L765.0 503.8 L766.0 503.4 L767.0 503.1 L768.0 502.7 L769.0 502.3 L770.0 501.9 L771.0 501.5 L772.0 501.1 L773.0 500.7 L774.0 500.3 L775.0 499.8 L776.0 499.4 L777.0 499.0 L778.0 498.6 L779.0 498.1 L780.0 497.7 L781.0 497.3 L782.0 496.8 L783.0 496.4 L784.0 495.9 L785.0 495.5 L786.0 495.0 L787.0 494.5 L788.0 494.1 L789.0 493.6 L790.0 493.1 L791.0 492.7 L792.0 492.2 L793.0 491.7 L794.0 491.2 L795.0 490.7 L796.0 490.2 L797.0 489.7 L798.0 489.2 L799.0 488.7 L800.0 488.2 L801.0 487.7 L802.0 487.2 L803.0 486.6 L804.0 486.1 L805.0 485.6 L806.0 485.0 L807.0 484.5 L808.0 484.0 L809.0 483.4 L810.0 482.9 L811.0 482.3 L812.0 481.8 L813.0 481.2 L814.0 480.7 L815.0 480.1 L816.0 479.5 L817.0 479.0 L818.0 478.4 L819.0 477.8 L820.0 477.2 L821.0 476.7 L822.0 476.1 L823.0 475.5 L824.0 474.9 L825.0 474.3 L826.0 473.7 L827.0 473.1 L828.0 472.5 L829.0 471.9 L830.0 471.3 L831.0 470.7 L832.0 470.0 L833.0 469.4 L834.0 468.8 L835.0 468.2 L836.0 467.6 L837.0 466.9 L838.0 466.3 L839.0 465.7 L840.0 465.0 L841.0 464.4 L842.0 463.7 L843.0 463.1 L844.0 462.4 L845.0 461.8 L846.0 461.1 L847.0 460.5 L848.0 459.8 L849.0 459.1 L850.0 458.5 L851.0 457.8 L852.0 457.1 L853.0 456.5 L854.0 455.8 L855.0 455.1 L856.0 454.4 L857.0 453.7 L858.0 453.0 L859.0 452.4 L860.0 451.7 L861.0 451.0 L862.0 450.3 L863.0 449.6 L864.0 448.9 L865.0 448.2 L866.0 447.5 L867.0 446.8 L868.0 446.0 L869.0 445.3 L870.0 444.6 L871.0 443.9 L872.0 443.2 L873.0 442.5 L874.0 441.7 L875.0 441.0 L876.0 440.3 L877.0 439.6 L878.0 438.8 L879.0 438.1 L880.0 437.4 L881.0 436.6 L882.0 435.9 L883.0 435.1 L884.0 434.4 L885.0 433.6 L886.0 432.9 L887.0 432.1 L888.0 431.4 L889.0 430.6 L890.0 429.9 L891.0 429.1 L892.0 428.4 L893.0 427.6 L894.0 426.8 L895.0 426.1 L896.0 425.3 L897.0 424.5 L898.0 423.8 L899.0 423.0 L900.0 422.2 L901.0 421.4 L902.0 420.7 L903.0 419.9 L904.0 419.1 L905.0 418.3 L906.0 417.5 L907.0 416.8 L908.0 416.0 L909.0 415.2 L910.0 414.4 L911.0 413.6 L912.0 412.8 L913.0 412.0 L914.0 411.2 L915.0 410.4 L916.0 409.6 L917.0 408.8 L918.0 408.0 L919.0 407.2 L920.0 406.4 L921.0 405.6 L922.0 404.8 L923.0 404.0 L924.0 403.2 L925.0 402.3 L926.0 401.5 L927.0 400.7 L928.0 399.9 L929.0 399.1 L930.0 398.2 L931.0 397.4 L932.0 396.6 L933.0 395.7 L934.0 394.9 L935.0 394.0 L936.0 393.2 L937.0 392.3 L938.0 391.5 L939.0 390.6 L940.0 389.8 L941.0 388.9 L942.0 388.1 L943.0 387.2 L944.0 386.3 L945.0 385.5 L946.0 384.6 L947.0 383.7 L948.0 382.8 L949.0 381.9 L950.0 381.0 L951.0 380.6 L952.0 379.5 L953.0 378.3 L954.0 377.1 L955.0 375.9 L956.0 375.0 L957.0 374.3 L958.0 373.7 L959.0 373.1 L960.0 372.5 L961.0 371.9 L962.0 370.6 L963.0 369.4 L964.0 368.1 L965.0 366.8 L966.0 365.5 L967.0 364.6 L968.0 363.9 L969.0 363.3 L970.0 362.7 L971.0 362.0 L972.0 361.4 L973.0 360.1 L974.0 358.7 L975.0 357.4 L976.0 356.0 L977.0 354.7 L978.0 353.6 L979.0 353.0 L980.0 352.3 L981.0 351.7 L982.0 351.0 L983.0 350.4 L984.0 349.0 L985.0 347.5 L986.0 346.1 L987.0 344.7 L988.0 343.2 L989.0 342.1 L990.0 341.5 L991.0 340.8 L992.0 340.1 L993.0 339.5 L994.0 338.8 L995.0 337.3 L996.0 335.8 L997.0 334.3 L998.0 332.8 L999.0 331.2 L1000.0 330.1 L1001.0 329.4 L1002.0 328.8 L1003.0 328.1 L1004.0 327.4 L1005.0 326.7 L1006.0 325.1 L1007.0 323.6 L1008.0 322.0 L1009.0 320.4 L1010.0 318.7 L1011.0 317.6 L1012.0 316.9 L1013.0 316.2 L1014.0 315.5 L1015.0 314.8 L1016.0 314.1 L1017.0 312.5 L1018.0 310.8 L1019.0 309.1 L1020.0 307.5 L1021.0 305.8 L1022.0 304.6 L1023.0 303.9 L1024.0 303.2 L1025.0 302.5 L1026.0 301.8 L1027.0 301.1 L1028.0 299.4 L1029.0 297.6 L1030.0 295.9 L1031.0 294.1 L1032.0 292.4 L1033.0 291.1 L1034.0 290.4 L1035.0 289.7 L1036.0 289.0 L1037.0 288.3 L1038.0 287.6 L1039.0 285.8 L1040.0 284.0 L1041.0 282.2 L1042.0 280.4 L1043.0 278.6 L1044.0 277.3 L1045.0 276.6 L1046.0 275.9 L1047.0 275.2 L1048.0 274.6 L1049.0 273.9 L1050.0 272.0 L1051.0 270.2 L1052.0 268.3 L1053.0 266.5 L1054.0 264.6 L1055.0 263.3 L1056.0 262.7 L1057.0 262.0 L1058.0 261.3 L1059.0 260.7 L1060.0 260.0 L1061.0 258.2 L1062.0 256.3 L1063.0 254.4 L1064.0 252.5 L1065.0 250.6 L1066.0 249.3 L1067.0 248.7 L1068.0 248.1 L1069.0 247.5 L1070.0 246.9 L1071.0 246.3 L1072.0 244.4 L1073.0 242.5 L1074.0 240.6 L1075.0 238.6 L1076.0 236.7 L1077.0 235.5 L1078.0 234.9 L1079.0 234.3 L1080.0 233.8 L1081.0 233.2 L1082.0 232.7 L1083.0 230.8 L1084.0 228.9 L1085.0 227.0 L1086.0 225.1 L1087.0 223.2 L1088.0 221.9 L1089.0 221.4 L1090.0 220.9 L1091.0 220.5 L1092.0 220.0 L1093.0 219.5 L1094.0 217.6 L1095.0 215.7 L1096.0 213.8 L1097.0 211.9 L1098.0 210.0 L1099.0 208.9 L1100.0 208.4 L1101.0 208.0 L1102.0 207.6 L1103.0 207.3 L1104.0 206.9 L1105.0 205.0 L1106.0 203.1 L1107.0 201.3 L1108.0 199.4 L1109.0 197.5 L1110.0 196.4 L1111.0 196.1 L1112.0 195.8 L1113.0 195.5 L1114.0 195.2 L1115.0 195.0 L1116.0 193.1 L1117.0 191.3 L1118.0 189.5 L1119.0 187.6 L1120.0 185.8 L1120.1 185.6" stroke="#4472c4" stroke-width="3.2"/>
<path d="M680.0 521.8 L681.0 521.8 L682.0 521.8 L683.0 521.8 L684.0 521.8 L685.0 521.8 L686.0 521.8 L687.0 521.8 L688.0 521.8 L689.0 521.8 L690.0 521.8 L691.0 521.8 L692.0 521.8 L693.0 521.8 L694.0 521.8 L695.0 521.8 L696.0 521.8 L697.0 521.8 L698.0 521.8 L699.0 521.8 L700.0 521.8 L701.0 521.8 L702.0 521.8 L703.0 521.8 L704.0 521.9 L705.0 521.9 L706.0 521.9 L707.0 521.9 L708.0 521.9 L709.0 521.9 L710.0 521.9 L711.0 521.9 L712.0 521.9 L713.0 521.9 L714.0 521.9 L715.0 521.9 L716.0 521.9 L717.0 521.9 L718.0 521.9 L719.0 521.9 L720.0 521.9 L721.0 521.9 L722.0 521.9 L723.0 521.9 L724.0 521.9 L725.0 521.9 L726.0 521.9 L727.0 521.8 L728.0 521.8 L729.0 521.8 L730.0 521.8 L731.0 521.8 L732.0 521.8 L733.0 521.8 L734.0 521.8 L735.0 521.8 L736.0 521.8 L737.0 521.8 L738.0 521.8 L739.0 521.7 L740.0 521.7 L741.0 521.7 L742.0 521.7 L743.0 521.7 L744.0 521.7 L745.0 521.6 L746.0 521.6 L747.0 521.6 L748.0 521.6 L749.0 521.6 L750.0 521.5 L751.0 521.5 L752.0 521.5 L753.0 521.5 L754.0 521.4 L755.0 521.4 L756.0 521.4 L757.0 521.4 L758.0 521.3 L759.0 521.3 L760.0 521.3 L761.0 521.2 L762.0 521.2 L763.0 521.1 L764.0 521.1 L765.0 521.1 L766.0 521.0 L767.0 521.0 L768.0 520.9 L769.0 520.9 L770.0 520.8 L771.0 520.8 L772.0 520.7 L773.0 520.7 L774.0 520.6 L775.0 520.6 L776.0 520.5 L777.0 520.5 L778.0 520.4 L779.0 520.4 L780.0 520.3 L781.0 520.2 L782.0 520.2 L783.0 520.1 L784.0 520.0 L785.0 520.0 L786.0 519.9 L787.0 519.8 L788.0 519.7 L789.0 519.7 L790.0 519.6 L791.0 519.5 L792.0 519.4 L793.0 519.3 L794.0 519.2 L795.0 519.2 L796.0 519.1 L797.0 519.0 L798.0 518.9 L799.0 518.8 L800.0 518.7 L801.0 518.6 L802.0 518.5 L803.0 518.4 L804.0 518.3 L805.0 518.2 L806.0 518.1 L807.0 517.9 L808.0 517.8 L809.0 517.7 L810.0 517.6 L811.0 517.5 L812.0 517.4 L813.0 517.2 L814.0 517.1 L815.0 517.0 L816.0 516.8 L817.0 516.7 L818.0 516.6 L819.0 516.4 L820.0 516.3 L821.0 516.1 L822.0 516.0 L823.0 515.8 L824.0 515.7 L825.0 515.5 L826.0 515.4 L827.0 515.2 L828.0 515.1 L829.0 514.9 L830.0 514.7 L831.0 514.6 L832.0 514.4 L833.0 514.2 L834.0 514.0 L835.0 513.8 L836.0 513.7 L837.0 513.5 L838.0 513.3 L839.0 513.1 L840.0 512.9 L841.0 512.7 L842.0 512.5 L843.0 512.2 L844.0 512.0 L845.0 511.8 L846.0 511.6 L847.0 511.3 L848.0 511.1 L849.0 510.8 L850.0 510.6 L851.0 510.3 L852.0 510.1 L853.0 509.8 L854.0 509.5 L855.0 509.3 L856.0 509.0 L857.0 508.7 L858.0 508.4 L859.0 508.1 L860.0 507.8 L861.0 507.4 L862.0 507.1 L863.0 506.8 L864.0 506.4 L865.0 506.1 L866.0 505.7 L867.0 505.4 L868.0 505.0 L869.0 504.6 L870.0 504.3 L871.0 503.9 L872.0 503.5 L873.0 503.1 L874.0 502.6 L875.0 502.2 L876.0 501.8 L877.0 501.3 L878.0 500.9 L879.0 500.4 L880.0 499.9 L881.0 499.5 L882.0 499.0 L883.0 498.5 L884.0 498.0 L885.0 497.4 L886.0 496.9 L887.0 496.4 L888.0 495.8 L889.0 495.3 L890.0 494.7 L891.0 494.1 L892.0 493.5 L893.0 492.9 L894.0 492.3 L895.0 491.7 L896.0 491.1 L897.0 490.4 L898.0 489.7 L899.0 489.1 L900.0 488.4 L901.0 487.7 L902.0 487.0 L903.0 486.3 L904.0 485.5 L905.0 484.8 L906.0 484.1 L907.0 483.3 L908.0 482.5 L909.0 481.7 L910.0 480.9 L911.0 480.1 L912.0 479.3 L913.0 478.4 L914.0 477.6 L915.0 476.7 L916.0 475.8 L917.0 474.9 L918.0 474.0 L919.0 473.0 L920.0 472.1 L921.0 471.1 L922.0 470.2 L923.0 469.2 L924.0 468.2 L925.0 467.2 L926.0 466.1 L927.0 465.1 L928.0 464.0 L929.0 463.0 L930.0 461.9 L931.0 460.8 L932.0 459.6 L933.0 458.5 L934.0 457.3 L935.0 456.2 L936.0 455.0 L937.0 453.8 L938.0 452.5 L939.0 451.3 L940.0 450.1 L941.0 448.8 L942.0 447.5 L943.0 446.2 L944.0 444.9 L945.0 443.6 L946.0 442.3 L947.0 440.9 L948.0 439.6 L949.0 438.2 L950.0 436.8 L951.0 434.7 L952.0 433.5 L953.0 432.4 L954.0 431.3 L955.0 430.2 L956.0 429.1 L957.0 427.7 L958.0 426.0 L959.0 424.2 L960.0 422.5 L961.0 420.7 L962.0 418.9 L963.0 417.7 L964.0 416.6 L965.0 415.5 L966.0 414.3 L967.0 413.2 L968.0 411.8 L969.0 410.1 L970.0 408.3 L971.0 406.5 L972.0 404.7 L973.0 402.9 L974.0 401.7 L975.0 400.6 L976.0 399.5 L977.0 398.4 L978.0 397.4 L979.0 396.0 L980.0 394.2 L981.0 392.5 L982.0 390.7 L983.0 388.9 L984.0 387.1 L985.0 386.0 L986.0 385.0 L987.0 384.1 L988.0 383.1 L989.0 382.1 L990.0 380.9 L991.0 379.1 L992.0 377.3 L993.0 375.6 L994.0 373.8 L995.0 372.1 L996.0 371.0 L997.0 370.1 L998.0 369.2 L999.0 368.3 L1000.0 367.4 L1001.0 366.2 L1002.0 364.4 L1003.0 362.7 L1004.0 360.9 L1005.0 359.1 L1006.0 357.3 L1007.0 356.3 L1008.0 355.5 L1009.0 354.6 L1010.0 353.7 L1011.0 352.8 L1012.0 351.6 L1013.0 349.8 L1014.0 348.0 L1015.0 346.2 L1016.0 344.3 L1017.0 342.5 L1018.0 341.5 L1019.0 340.6 L1020.0 339.8 L1021.0 338.9 L1022.0 338.0 L1023.0 336.7 L1024.0 334.9 L1025.0 333.0 L1026.0 331.0 L1027.0 329.1 L1028.0 327.2 L1029.0 326.2 L1030.0 325.3 L1031.0 324.4 L1032.0 323.4 L1033.0 322.5 L1034.0 321.2 L1035.0 319.2 L1036.0 317.2 L1037.0 315.2 L1038.0 313.2 L1039.0 311.1 L1040.0 310.1 L1041.0 309.2 L1042.0 308.2 L1043.0 307.3 L1044.0 306.4 L1045.0 305.0 L1046.0 303.0 L1047.0 300.9 L1048.0 298.8 L1049.0 296.7 L1050.0 294.6 L1051.0 293.6 L1052.0 292.6 L1053.0 291.7 L1054.0 290.8 L1055.0 289.9 L1056.0 288.5 L1057.0 286.4 L1058.0 284.3 L1059.0 282.1 L1060.0 280.0 L1061.0 277.9 L1062.0 276.8 L1063.0 275.9 L1064.0 275.0 L1065.0 274.2 L1066.0 273.3 L1067.0 271.9 L1068.0 269.8 L1069.0 267.6 L1070.0 265.5 L1071.0 263.3 L1072.0 261.2 L1073.0 260.2 L1074.0 259.4 L1075.0 258.5 L1076.0 257.7 L1077.0 256.9 L1078.0 255.6 L1079.0 253.4 L1080.0 251.3 L1081.0 249.1 L1082.0 247.0 L1083.0 244.8 L1084.0 243.9 L1085.0 243.1 L1086.0 242.3 L1087.0 241.5 L1088.0 240.8 L1089.0 239.4 L1090.0 237.2 L1091.0 235.0 L1092.0 232.8 L1093.0 230.6 L1094.0 228.4 L1095.0 227.5 L1096.0 226.7 L1097.0 225.9 L1098.0 225.1 L1099.0 224.3 L1100.0 222.9 L1101.0 220.6 L1102.0 218.3 L1103.0 216.0 L1104.0 213.6 L1105.0 211.3 L1106.0 210.3 L1107.0 209.4 L1108.0 208.6 L1109.0 207.7 L1110.0 206.8 L1111.0 205.3 L1112.0 202.9 L1113.0 200.4 L1114.0 197.9 L1115.0 195.4 L1116.0 192.9 L1117.0 191.8 L1118.0 190.8 L1119.0 189.8 L1120.0 188.8 L1120.1 188.7" stroke="#4472c4" stroke-width="3.2"/>
<path d="M304.5 522.9 L305.2 522.9 L305.9 522.9 L306.6 522.9 L307.3 522.9 L308.0 522.9 L308.7 522.9 L309.4 522.9 L310.1 522.9 L310.8 522.9 L311.5 522.9 L312.2 522.9 L312.9 522.9 L313.6 522.9 L314.3 522.9 L315.0 522.9 L315.7 522.9 L316.4 522.9 L317.1 522.9 L317.8 522.9 L318.5 522.9 L319.2 522.9 L319.9 522.9 L320.6 522.9 L321.3 522.9 L322.0 522.9 L322.7 522.9 L323.4 522.9 L324.1 522.9 L324.8 522.9 L325.5 522.9 L326.2 522.9 L326.9 522.9 L327.6 522.9 L328.3 522.9 L329.0 522.9 L329.7 522.9 L330.4 522.9 L331.1 522.9 L331.8 522.9 L332.5 522.9 L333.2 522.9 L333.9 522.9 L334.6 522.9 L335.3 522.9 L336.0 522.9 L336.7 522.9 L337.4 522.9 L338.1 522.9 L338.8 522.9 L339.5 522.9 L340.2 522.9 L340.9 522.9 L341.6 522.9 L342.3 522.9 L343.0 522.9 L343.7 522.9 L344.4 522.9 L345.1 522.9 L345.8 522.9 L346.5 522.9 L347.2 522.9 L347.9 522.9 L348.6 522.9 L349.3 522.9 L350.0 522.9 L350.7 522.9 L351.4 522.9 L352.1 522.9 L352.8 522.9 L353.5 522.9 L354.2 522.9 L354.9 522.9 L355.6 522.9 L356.3 522.9 L357.0 522.9 L357.7 522.9 L358.4 522.9 L359.1 522.9 L359.8 522.9 L360.5 522.9 L361.2 522.9 L361.9 522.9 L362.6 522.9 L363.3 522.9 L364.0 522.9 L364.7 522.9 L365.4 522.9 L366.1 522.9 L366.8 522.9 L367.5 522.9 L368.2 522.9 L368.9 522.9 L369.6 522.9 L370.3 522.9 L371.0 522.9 L371.7 522.9 L372.4 522.9 L373.1 522.9 L373.8 522.9 L374.5 522.9 L375.2 522.9 L375.9 522.9 L376.6 522.9 L377.3 522.9 L378.0 522.9 L378.7 522.9 L379.4 522.9 L380.1 522.9 L380.8 522.9 L381.5 522.9 L382.2 522.9 L382.9 522.9 L383.6 522.9 L384.3 522.9 L385.0 522.9 L385.7 522.9 L386.4 522.9 L387.1 522.9 L387.8 522.9 L388.5 522.9 L389.2 522.9 L389.9 522.9 L390.6 522.9 L391.3 522.9 L392.0 522.9 L392.7 522.9 L393.4 522.9 L394.1 522.9 L394.8 522.9 L395.5 522.9 L396.2 522.9 L396.9 522.9 L397.6 522.9 L398.3 522.9 L399.0 522.9 L399.7 522.9 L400.4 522.9 L401.1 522.9 L401.8 522.9 L402.5 522.9 L403.2 522.9 L403.9 522.9 L404.6 522.9 L405.3 522.9 L406.0 522.9 L406.7 522.9 L407.4 522.9 L408.1 522.9 L408.8 522.9 L409.5 522.9 L410.2 522.9 L410.9 522.9 L411.6 522.9 L412.3 522.9 L413.0 522.9 L413.7 522.9 L414.4 522.9 L415.1 522.9 L415.8 522.9 L416.5 522.9 L417.2 522.9 L417.9 522.9 L418.6 522.9 L419.3 522.9 L420.0 522.9 L420.7 522.9 L421.4 522.9 L422.1 522.9 L422.8 522.9 L423.5 522.9 L424.2 522.9 L424.9 522.9 L425.6 522.9 L426.3 522.9 L427.0 522.9 L427.7 522.9 L428.4 522.9 L429.1 522.9 L429.8 522.9 L430.5 522.9 L431.2 522.9 L431.9 522.9 L432.6 522.8 L433.3 522.8 L434.0 522.8 L434.7 522.8 L435.4 522.8 L436.1 522.8 L436.8 522.8 L437.5 522.8 L438.2 522.8 L438.9 522.8 L439.6 522.8 L440.3 522.8 L441.0 522.8 L441.7 522.8 L442.4 522.8 L443.1 522.8 L443.8 522.8 L444.5 522.8 L445.2 522.8 L445.9 522.8 L446.6 522.8 L447.3 522.8 L448.0 522.8 L448.7 522.8 L449.4 522.8 L450.1 522.8 L450.8 522.8 L451.5 522.8 L452.2 522.8 L452.9 522.8 L453.6 522.8 L454.3 522.8 L455.0 522.8 L455.7 522.8 L456.4 522.8 L457.1 522.8 L457.8 522.8 L458.5 522.8 L459.2 522.8 L459.9 522.8 L460.6 522.8 L461.3 522.8 L462.0 522.8 L462.7 522.8 L463.4 522.8 L464.1 522.8 L464.8 522.8 L465.5 522.8 L466.2 522.8 L466.9 522.8 L467.6 522.8 L468.3 522.8 L469.0 522.8 L469.7 522.8 L470.4 522.8 L471.1 522.8 L471.8 522.8 L472.5 522.8 L473.2 522.8 L473.9 522.8 L474.6 522.8 L475.3 522.8 L476.0 522.8 L476.7 522.8 L477.4 522.8 L478.1 522.8 L478.8 522.8 L479.5 522.8 L480.2 522.8 L480.9 522.8 L481.6 522.8 L482.3 522.8 L483.0 522.8 L483.7 522.8 L484.4 522.8 L485.1 522.8 L485.8 522.8 L486.5 522.8 L487.2 522.8 L487.9 522.8 L488.6 522.8 L489.3 522.8 L490.0 522.8 L490.7 522.8 L491.4 522.8 L492.1 522.8 L492.8 522.8 L493.5 522.8 L494.2 522.8 L494.9 522.8 L495.6 522.8 L496.3 522.8 L497.0 522.8 L497.7 522.8 L498.4 522.8 L499.1 522.8 L499.8 522.8 L500.5 522.8 L501.2 522.8 L501.9 522.8 L502.6 522.8 L503.3 522.8 L504.0 522.8 L504.7 522.8 L505.4 522.8 L506.1 522.8 L506.8 522.8 L507.5 522.8 L508.2 522.8 L508.9 522.8 L509.6 522.8 L510.3 522.8 L511.0 522.8 L511.7 522.8 L512.4 522.8 L513.1 522.8 L513.8 522.8 L514.5 522.8 L515.2 522.8 L515.9 522.8 L516.6 522.8 L517.3 522.8 L518.0 522.8 L518.7 522.8 L519.4 522.8 L520.1 522.8 L520.8 522.8 L521.5 522.8 L522.2 522.8 L522.9 522.8 L523.6 522.8 L524.3 522.8 L525.0 522.8 L525.7 522.8 L526.4 522.8 L527.1 522.8 L527.8 522.8 L528.5 522.8 L529.2 522.8 L529.9 522.8 L530.6 522.8 L531.3 522.8 L532.0 522.8 L532.7 522.8 L533.4 522.8 L534.1 522.8 L534.8 522.8 L535.5 522.8 L536.2 522.8 L536.9 522.8 L537.6 522.8 L538.3 522.8 L539.0 522.8 L539.7 522.8 L540.4 522.8 L541.1 522.8 L541.8 522.8 L542.5 522.8 L543.2 522.8 L543.9 522.8 L544.6 522.8 L545.3 522.8 L546.0 522.8 L546.7 522.8 L547.4 522.8 L548.1 522.8 L548.8 522.8 L549.5 522.8 L550.2 522.8 L550.9 522.8 L551.6 522.8 L552.3 522.8 L553.0 522.8 L553.7 522.8 L554.4 522.8 L555.1 522.8 L555.8 522.8 L557.2 522.8 L558.6 522.8 L560.0 522.8 L561.4 522.8 L562.8 522.7 L564.2 522.7 L564.9 522.7 L565.6 522.7 L566.3 522.7 L567.0 522.7 L567.7 522.7 L568.4 522.7 L569.1 522.7 L569.8 522.7 L570.5 522.6 L571.2 522.6 L571.9 522.6 L572.6 522.6 L573.3 522.6 L574.0 522.6 L574.7 522.6 L575.4 522.6 L576.1 522.6 L576.8 522.5 L577.5 522.5 L578.2 522.5 L578.9 522.5 L579.6 522.5 L580.3 522.5 L581.0 522.5 L581.7 522.5 L582.4 522.5 L583.1 522.5 L583.8 522.4 L584.5 522.4 L585.2 522.4 L585.9 522.4 L586.6 522.4 L587.3 522.4 L588.0 522.4 L588.7 522.4 L589.4 522.4 L590.1 522.3 L590.8 522.3 L592.2 522.3 L593.6 522.3 L595.0 522.3 L596.4 522.2 L597.8 522.2 L599.2 522.2 L600.6 522.1 L602.0 522.1 L603.4 522.0 L604.8 522.0 L606.2 521.9 L607.6 521.8 L609.0 521.8 L610.4 521.7 L611.8 521.7 L613.2 521.6 L614.6 521.5 L616.0 521.5 L617.4 521.4 L618.8 521.3 L620.2 521.2 L621.6 521.1 L623.0 521.0 L624.4 520.9 L625.8 520.8 L627.1 520.6 L628.5 520.5 L629.9 520.4 L631.3 520.2 L632.7 520.1 L634.1 519.9 L635.5 519.8 L636.9 519.6 L638.3 519.5 L639.7 519.3 L641.1 519.2 L642.5 519.0 L643.8 518.8 L645.2 518.6 L646.6 518.4 L648.0 518.2 L649.4 517.9 L650.8 517.7 L652.1 517.5 L653.5 517.2 L654.9 516.9 L656.3 516.7 L657.6 516.4 L659.0 516.1 L660.4 515.9 L661.7 515.6 L663.1 515.3 L664.5 515.0 L665.9 514.7 L667.2 514.4 L668.6 514.2 L670.0 513.8 L671.3 513.5 L672.7 513.2 L674.0 512.9 L675.4 512.5 L676.7 512.1 L678.1 511.7 L679.4 511.3 L680.7 510.9 L682.0 510.4 L683.4 509.9 L684.7 509.4 L686.0 509.0 L687.3 508.5 L688.6 507.9 L689.9 507.4 L691.2 506.9 L692.5 506.3 L693.7 505.8 L695.0 505.2 L696.3 504.5 L697.5 503.9 L698.7 503.3 L700.0 502.6 L701.2 502.0 L702.4 501.3 L703.7 500.6 L704.9 499.9 L706.1 499.2 L707.3 498.5 L708.5 497.8 L709.7 497.1 L710.9 496.3 L712.0 495.5 L713.2 494.8 L714.3 494.0 L715.5 493.1 L716.6 492.3 L717.7 491.5 L718.8 490.6 L720.0 489.8 L721.1 489.0 L722.2 488.1 L723.3 487.3 L724.4 486.4 L725.5 485.5 L726.6 484.6 L727.7 483.8 L728.7 482.8 L729.8 481.9 L730.8 481.0 L731.9 480.1 L732.9 479.1 L733.9 478.2 L734.9 477.2 L736.0 476.3 L737.0 475.3 L738.0 474.3 L739.0 473.4 L740.0 472.4 L741.0 471.4 L742.0 470.4 L743.0 469.4 L744.0 468.4 L745.0 467.4 L745.9 466.4 L746.9 465.4 L747.9 464.4 L748.9 463.4 L749.8 462.4 L750.8 461.4 L751.7 460.4 L752.7 459.3 L753.6 458.3 L754.6 457.3 L755.5 456.2 L756.4 455.2 L757.3 454.1 L758.3 453.1 L759.2 452.0 L760.1 450.9 L761.0 449.8 L761.8 448.8 L762.7 447.7 L763.6 446.6 L764.5 445.5 L765.3 444.4 L766.2 443.3 L767.1 442.2 L767.9 441.1 L768.8 440.0 L769.6 438.8 L770.5 437.7 L771.3 436.6 L772.1 435.5 L773.0 434.4 L773.8 433.3 L774.7 432.1 L775.5 431.0 L776.4 429.9 L777.3 428.8 L778.1 427.7 L779.0 426.6 L779.9 425.6 L780.8 424.5 L781.6 423.4 L782.5 422.3 L783.4 421.2 L784.3 420.1 L785.2 419.0 L786.0 417.9 L786.9 416.8 L787.7 415.7 L788.5 414.6 L789.4 413.4 L790.2 412.3 L791.0 411.2 L791.8 410.0 L792.6 408.9 L793.5 407.7 L794.3 406.6 L794.7 406.0 L795.1 405.5 L795.5 405.0 L795.9 404.4 L796.3 403.9 L796.7 403.3 L797.1 402.8 L797.9 401.7 L798.7 400.4 L799.5 399.1 L800.3 397.8 L801.2 396.6 L802.0 395.6 L802.8 394.5 L803.6 393.4 L804.5 392.4 L805.3 391.4 L806.2 390.4 L807.0 389.3 L807.9 388.3 L808.8 387.2 L809.6 385.8 L810.5 384.4 L811.4 383.1 L812.3 382.1 L813.1 381.2 L814.0 380.2 L814.9 379.2 L815.8 378.2 L816.6 377.3 L817.5 376.4 L818.4 375.4 L819.3 374.1 L820.2 372.7 L821.1 371.2 L822.0 370.0 L822.9 369.1 L823.4 368.6 L823.8 368.2 L824.3 367.7 L824.7 367.3 L825.2 366.8 L825.6 366.3 L826.1 365.9 L826.5 365.5 L827.0 365.0 L827.4 364.6 L827.9 364.1 L828.3 363.7 L828.8 363.2 L829.2 362.7 L829.7 361.9 L830.1 361.2 L830.6 360.4 L831.0 359.6 L831.5 358.8 L831.9 358.0 L832.4 357.5 L832.8 357.1 L833.3 356.6 L833.7 356.2 L834.2 355.8 L834.6 355.3 L835.1 354.9 L835.5 354.4 L836.0 354.0 L836.4 353.6 L836.9 353.2 L837.3 352.7 L837.8 352.3 L838.7 351.5 L839.6 350.6 L840.5 348.9 L841.4 347.2 L842.3 345.6 L843.2 344.6 L844.1 343.8 L845.0 343.0 L846.0 342.2 L846.9 341.4 L847.8 340.6 L848.8 339.9 L849.7 339.1 L850.6 337.6 L851.6 335.8 L852.5 334.0 L853.4 332.9 L854.4 332.2 L855.3 331.4 L856.2 330.6 L857.1 329.8 L858.0 329.0 L858.9 328.3 L859.7 327.5 L860.6 326.3 L861.5 324.4 L862.4 322.6 L863.3 320.8 L864.2 320.0 L865.1 319.3 L866.0 318.5 L866.9 317.8 L867.8 317.1 L868.7 316.4 L869.7 315.7 L870.6 315.0 L871.6 313.2 L872.6 311.2 L873.6 309.2 L874.5 308.5 L875.6 307.9 L876.6 307.4 L877.6 306.8 L878.6 306.3 L879.6 305.8 L880.6 305.2 L881.6 303.9 L882.6 301.8 L883.6 299.7 L884.6 298.5 L885.6 298.0 L886.6 297.4 L887.6 296.9 L888.6 296.3 L889.6 295.8 L890.6 295.3 L891.6 294.6 L892.6 292.5 L893.6 290.3 L894.7 288.6 L895.7 288.2 L896.7 287.7 L897.8 287.2 L898.8 286.7 L899.9 286.3 L900.9 285.9 L902.0 285.3 L903.0 283.1 L904.1 280.9 L905.1 279.3 L906.2 278.9 L907.2 278.5 L908.3 278.0 L909.3 277.5 L910.3 277.0 L911.3 276.5 L912.2 275.9 L913.2 273.8 L914.2 271.7 L915.1 269.5 L916.0 268.7 L917.0 268.1 L917.9 267.5 L918.8 266.9 L919.8 266.3 L920.7 265.7 L921.6 265.1 L922.6 264.5 L923.5 262.5 L924.5 260.3 L925.4 258.1 L926.4 257.2 L927.4 256.7 L928.3 256.2 L929.3 255.7 L930.4 255.2 L931.4 254.8 L932.4 254.4 L933.4 253.3 L934.5 251.1 L935.5 248.8 L936.5 247.5 L937.6 247.1 L938.6 246.7 L939.2 246.4 L939.7 246.2 L940.2 246.0 L940.7 245.8 L941.8 245.4 L942.8 245.0 L943.8 244.0 L944.9 241.7 L945.9 239.4 L946.9 238.0 L948.0 237.6 L949.0 237.2 L950.0 236.8 L951.0 236.3 L952.0 235.9 L953.0 235.4 L954.0 234.7 L955.0 232.4 L956.0 230.1 L957.0 228.1 L958.0 227.6 L958.9 227.1 L959.9 226.6 L960.9 226.1 L961.8 225.6 L962.8 225.1 L963.7 224.5 L964.7 223.3 L965.6 221.0 L966.6 218.6 L967.5 216.9 L968.5 216.4 L969.5 216.0 L970.5 215.6 L971.5 215.2 L972.5 214.8 L973.6 214.4 L974.6 214.0 L975.7 211.8 L976.7 209.3 L977.8 207.3 L978.9 207.0 L980.0 206.7 L981.1 206.5 L982.2 206.3 L983.3 206.1 L984.4 205.9 L985.6 204.7 L986.7 202.3 L987.8 199.8 L989.0 199.3 L990.1 199.1 L991.2 198.9 L992.3 198.7 L993.4 198.5 L994.5 198.3 L995.6 197.7 L996.7 195.2 L997.8 192.7 L998.9 191.2 L1000.0 191.0 L1001.0 190.7 L1002.1 190.4 L1003.2 190.1 L1004.2 189.8 L1005.2 189.5 L1006.3 188.4 L1007.3 185.8 L1008.3 183.2 L1009.3 181.6 L1010.2 181.2 L1011.2 180.8 L1012.1 180.4 L1013.1 180.0 L1014.0 179.5 L1014.9 179.1 L1015.8 178.7 L1016.7 177.2 L1017.6 174.5 L1018.6 171.8 L1019.5 169.9 L1020.5 169.5 L1021.4 169.2 L1022.4 168.9 L1023.4 168.7 L1024.4 168.4 L1025.5 168.3 L1026.5 168.1 L1027.6 165.6 L1028.6 162.7 L1029.7 160.0 L1030.8 159.9 L1031.9 159.8 L1033.0 159.8 L1034.1 159.8 L1035.2 159.9 L1036.3 160.0 L1037.5 159.0 L1038.6 155.9 L1039.7 152.6 L1040.9 151.9 L1042.0 152.0 L1043.1 152.1 L1044.2 152.2 L1045.4 152.4 L1046.5 152.5 L1047.6 152.3 L1048.7 149.0 L1049.8 145.7 L1050.9 143.8 L1052.0 143.9 L1053.0 143.9 L1054.1 144.0 L1055.2 144.1 L1056.3 144.2 L1057.4 144.4 L1058.5 142.6 L1059.6 139.1 L1060.7 135.6 L1061.8 135.2 L1062.9 135.4 L1064.0 135.6 L1065.1 135.8 L1066.2 136.0 L1067.3 136.2 L1068.3 136.2 L1069.4 132.6 L1070.5 128.9 L1071.6 126.6 L1072.7 126.8 L1073.7 127.0 L1074.8 127.1 L1075.8 127.3 L1076.9 127.5 L1078.0 127.7 L1079.0 126.6 L1080.1 122.9 L1081.2 119.1 L1082.2 117.6 L1083.3 117.8 L1084.4 118.1 L1085.5 118.4 L1086.6 118.8 L1087.7 119.2 L1088.8 119.6 L1090.0 116.6 L1091.1 112.5 L1092.3 109.6 L1093.5 110.2 L1094.7 110.8 L1095.9 111.4 L1097.1 112.1 L1098.3 112.8 L1099.5 113.4 L1100.7 109.1 L1101.9 104.7 L1103.2 103.5 L1104.4 104.2 L1105.6 104.9 L1106.8 105.7 L1108.0 106.4 L1109.2 107.2 L1110.4 105.8 L1111.6 101.2 L1112.2 99.0 L1112.8 96.7 L1113.4 97.0 L1114.0 97.4 L1114.6 97.8 L1115.2 98.2 L1115.8 98.6 L1116.4 99.0 L1117.0 99.4 L1117.6 99.8 L1118.2 100.2 L1118.8 100.6 L1119.4 101.0 L1120.0 101.4" stroke="#ff0000" stroke-width="3.2"/>
<path d="M610.0 522.6 L610.7 522.6 L611.4 522.6 L612.1 522.6 L612.8 522.6 L613.5 522.6 L614.2 522.5 L614.9 522.5 L615.6 522.5 L616.3 522.5 L617.0 522.5 L617.7 522.5 L618.4 522.5 L619.1 522.5 L619.8 522.5 L620.5 522.5 L621.2 522.5 L621.9 522.4 L622.6 522.4 L623.3 522.4 L624.0 522.4 L624.7 522.4 L625.4 522.4 L626.1 522.4 L626.8 522.4 L627.5 522.4 L628.2 522.4 L628.9 522.3 L629.6 522.3 L630.3 522.3 L631.0 522.3 L631.7 522.3 L632.4 522.3 L633.1 522.3 L633.8 522.3 L634.5 522.2 L635.9 522.2 L637.3 522.2 L638.7 522.1 L640.1 522.1 L641.5 522.0 L642.9 521.9 L644.3 521.8 L645.7 521.7 L646.4 521.7 L647.1 521.6 L647.8 521.6 L648.5 521.5 L649.2 521.5 L649.9 521.4 L650.6 521.3 L651.3 521.3 L652.0 521.2 L652.7 521.2 L653.4 521.1 L654.1 521.1 L654.8 521.0 L655.5 520.9 L656.9 520.8 L658.2 520.7 L659.6 520.5 L661.0 520.4 L662.4 520.2 L663.8 520.0 L665.2 519.9 L665.9 519.8 L666.6 519.7 L667.3 519.6 L668.0 519.5 L668.7 519.4 L669.4 519.3 L670.1 519.2 L670.7 519.1 L671.4 519.0 L672.1 518.9 L672.8 518.9 L673.5 518.8 L674.2 518.7 L674.9 518.6 L675.6 518.5 L676.3 518.4 L677.0 518.3 L677.7 518.2 L678.4 518.1 L679.1 518.0 L679.8 517.9 L680.5 517.8 L681.2 517.7 L681.8 517.6 L682.5 517.5 L683.2 517.4 L683.9 517.3 L684.6 517.2 L685.3 517.1 L686.0 517.0 L686.7 516.9 L687.4 516.9 L688.1 516.8 L688.8 516.7 L689.5 516.6 L690.2 516.5 L690.9 516.4 L691.6 516.3 L692.3 516.2 L692.9 516.1 L694.3 515.9 L695.7 515.7 L697.1 515.5 L698.5 515.2 L699.9 515.0 L701.2 514.8 L702.6 514.5 L704.0 514.2 L705.3 513.9 L706.7 513.6 L708.1 513.2 L709.4 512.9 L710.8 512.5 L712.1 512.2 L713.5 511.8 L714.8 511.4 L716.1 511.0 L717.5 510.6 L718.8 510.1 L720.1 509.7 L721.4 509.2 L722.7 508.6 L724.0 508.1 L725.3 507.6 L726.6 507.0 L727.9 506.4 L729.1 505.9 L730.4 505.3 L731.7 504.7 L732.9 504.1 L734.2 503.5 L735.5 502.9 L736.7 502.3 L737.9 501.6 L739.1 500.9 L740.3 500.2 L741.5 499.5 L742.6 498.7 L743.8 497.9 L744.9 497.0 L746.0 496.2 L747.1 495.3 L748.2 494.5 L749.3 493.6 L750.4 492.7 L751.0 492.3 L751.5 491.9 L752.1 491.4 L752.6 491.0 L753.1 490.5 L753.7 490.1 L754.2 489.7 L754.8 489.2 L755.3 488.8 L755.8 488.3 L756.4 487.9 L756.9 487.4 L757.5 487.0 L758.0 486.5 L758.5 486.1 L759.1 485.6 L759.6 485.2 L760.2 484.7 L760.7 484.3 L761.2 483.8 L761.8 483.4 L762.3 482.9 L762.8 482.5 L763.3 482.0 L763.9 481.6 L764.4 481.1 L764.9 480.6 L765.5 480.2 L766.0 479.7 L766.5 479.2 L767.0 478.8 L767.5 478.3 L768.1 477.8 L768.6 477.4 L769.1 476.9 L770.1 476.0 L771.2 475.0 L772.2 474.1 L773.2 473.1 L774.2 472.1 L775.2 471.2 L776.2 470.2 L777.2 469.2 L778.2 468.2 L779.1 467.1 L780.1 466.1 L781.0 465.1 L781.9 464.0 L782.4 463.5 L782.9 463.0 L783.3 462.5 L783.8 461.9 L784.3 461.4 L784.7 460.9 L785.2 460.4 L785.7 459.9 L786.1 459.3 L786.6 458.8 L787.1 458.3 L787.6 457.8 L788.0 457.3 L788.5 456.7 L789.0 456.2 L789.4 455.7 L789.9 455.2 L790.4 454.7 L790.8 454.1 L791.3 453.6 L791.8 453.1 L792.3 452.6 L792.7 452.1 L793.2 451.6 L793.7 451.0 L794.2 450.5 L794.6 450.0 L795.1 449.7 L795.6 449.1 L796.1 448.5 L796.5 447.9 L797.0 447.3 L797.5 446.7 L798.0 446.2 L798.4 445.7 L798.9 445.2 L799.4 444.7 L799.9 444.2 L800.3 443.8 L800.8 443.3 L801.3 442.8 L801.8 442.3 L802.2 441.9 L802.7 441.4 L803.2 440.9 L803.7 440.4 L804.1 440.0 L804.6 439.5 L805.1 439.0 L805.5 438.4 L806.0 437.8 L806.5 437.2 L807.0 436.5 L807.4 435.9 L807.9 435.2 L808.4 434.7 L808.8 434.2 L809.3 433.7 L809.8 433.3 L810.3 432.8 L810.7 432.3 L811.2 431.9 L811.7 431.4 L812.1 430.9 L812.6 430.5 L813.5 429.6 L814.4 428.7 L815.4 427.7 L816.3 426.5 L817.2 425.0 L818.1 423.6 L819.0 422.4 L819.8 421.5 L820.7 420.5 L821.2 420.0 L821.6 419.6 L822.0 419.1 L822.5 418.6 L822.9 418.2 L823.4 417.7 L823.8 417.2 L824.2 416.8 L824.7 416.3 L825.1 415.8 L825.5 415.4 L826.0 414.9 L826.4 414.2 L826.8 413.4 L827.3 412.6 L827.7 411.9 L828.1 411.1 L828.6 410.3 L829.0 409.6 L829.4 409.2 L829.9 408.7 L830.3 408.2 L830.8 407.8 L831.2 407.3 L831.6 406.9 L832.1 406.4 L832.5 405.9 L832.9 405.5 L833.4 405.0 L833.8 404.6 L834.2 404.1 L834.7 403.7 L835.1 403.3 L835.5 402.8 L836.0 402.4 L836.4 401.9 L836.8 401.1 L837.3 400.3 L837.7 399.5 L838.2 398.6 L838.6 397.8 L839.0 397.0 L839.5 396.3 L839.9 395.9 L840.3 395.4 L840.8 395.0 L841.2 394.6 L841.7 394.1 L842.1 393.7 L842.5 393.2 L843.0 392.8 L843.4 392.4 L843.8 392.0 L844.3 391.5 L844.7 391.1 L845.2 390.7 L845.6 390.3 L846.0 389.9 L846.5 389.4 L846.9 388.9 L847.4 388.0 L847.8 387.1 L848.2 386.3 L848.7 385.4 L849.1 384.5 L849.6 383.7 L850.0 383.1 L850.5 382.7 L850.9 382.3 L851.3 381.9 L851.8 381.4 L852.2 381.0 L852.7 380.6 L853.1 380.2 L853.5 379.8 L854.0 379.4 L854.4 379.0 L854.9 378.6 L855.3 378.2 L855.7 377.8 L856.2 377.4 L856.6 377.0 L857.1 376.6 L857.5 375.8 L857.9 374.9 L858.4 374.0 L858.8 373.1 L859.3 372.1 L859.7 371.2 L860.2 370.4 L860.6 370.0 L861.0 369.6 L861.5 369.2 L861.9 368.8 L862.4 368.4 L862.8 368.0 L863.2 367.6 L863.7 367.2 L864.1 366.8 L864.6 366.4 L865.0 366.1 L865.4 365.7 L865.9 365.3 L866.3 364.9 L866.8 364.5 L867.2 364.2 L867.6 363.7 L868.1 362.7 L868.5 361.8 L869.0 360.8 L869.4 359.8 L869.8 358.8 L870.3 357.9 L870.7 357.2 L871.1 356.8 L871.6 356.4 L872.0 356.0 L872.5 355.6 L872.9 355.3 L873.3 354.9 L873.7 354.5 L874.2 354.1 L874.6 353.7 L875.0 353.4 L875.5 353.0 L875.9 352.6 L876.3 352.2 L876.8 351.9 L877.2 351.5 L877.6 351.1 L878.0 350.7 L878.5 349.6 L878.9 348.6 L879.3 347.6 L879.8 346.6 L880.2 345.6 L880.6 344.5 L881.0 343.7 L881.5 343.4 L881.9 343.0 L882.3 342.6 L882.7 342.3 L883.2 341.9 L883.6 341.5 L884.0 341.1 L884.5 340.8 L884.9 340.4 L885.3 340.0 L885.7 339.7 L886.2 339.3 L886.6 338.9 L887.0 338.6 L887.5 338.2 L887.9 337.8 L888.3 337.5 L888.7 336.5 L889.2 335.5 L889.6 334.5 L890.0 333.4 L890.4 332.4 L890.9 331.3 L891.3 330.3 L891.7 330.0 L892.2 329.6 L892.6 329.2 L893.0 328.9 L893.4 328.5 L893.9 328.1 L894.3 327.8 L894.7 327.4 L895.2 327.1 L895.6 326.7 L896.0 326.3 L896.4 326.0 L896.9 325.6 L897.3 325.3 L897.7 324.9 L898.2 324.5 L898.6 324.2 L899.0 323.4 L899.5 322.4 L899.9 321.3 L900.3 320.3 L900.8 319.2 L901.2 318.1 L901.6 317.1 L902.1 316.6 L902.5 316.3 L902.9 315.9 L903.4 315.6 L903.8 315.2 L904.2 314.9 L904.7 314.5 L905.1 314.2 L905.5 313.8 L906.0 313.5 L906.4 313.1 L906.8 312.8 L907.3 312.4 L907.7 312.1 L908.2 311.8 L908.6 311.4 L909.0 311.1 L909.5 310.2 L909.9 309.2 L910.3 308.1 L910.8 307.0 L911.2 306.0 L911.6 304.9 L912.1 303.8 L912.5 303.5 L913.0 303.1 L913.4 302.8 L913.9 302.5 L914.3 302.1 L914.7 301.8 L915.2 301.5 L915.6 301.1 L916.1 300.8 L916.5 300.5 L917.0 300.2 L917.4 299.9 L917.9 299.5 L918.3 299.2 L918.8 298.9 L919.2 298.6 L919.7 298.1 L920.1 297.0 L920.6 295.9 L921.1 294.8 L921.5 293.7 L922.0 292.6 L922.4 291.5 L922.9 291.1 L923.3 290.8 L923.8 290.4 L924.2 290.1 L924.7 289.8 L925.2 289.5 L925.6 289.2 L926.1 288.9 L926.5 288.6 L927.0 288.3 L927.4 288.0 L927.9 287.7 L928.4 287.4 L928.8 287.1 L929.3 286.8 L930.2 285.8 L931.1 283.5 L932.1 281.3 L933.0 279.3 L934.0 278.7 L934.9 278.2 L935.9 277.7 L936.8 277.1 L937.3 276.9 L937.8 276.6 L938.3 276.4 L938.8 276.1 L939.3 275.9 L939.8 275.6 L940.3 275.3 L940.8 274.4 L941.2 273.3 L941.7 272.1 L942.2 271.0 L942.7 269.8 L943.2 268.7 L943.7 268.3 L944.2 268.0 L944.7 267.8 L945.2 267.5 L945.7 267.3 L946.1 267.1 L946.6 266.8 L947.1 266.6 L947.6 266.3 L948.1 266.1 L948.6 265.8 L949.1 265.6 L949.6 265.4 L950.1 265.1 L950.6 264.9 L951.6 262.9 L952.6 260.6 L953.6 258.3 L954.6 257.6 L955.6 257.2 L956.6 256.8 L957.7 256.4 L958.2 256.2 L958.7 256.0 L959.2 255.8 L959.7 255.6 L960.2 255.4 L960.8 255.2 L961.3 254.8 L961.8 253.6 L962.3 252.4 L962.8 251.2 L963.4 250.1 L963.9 248.9 L964.4 248.3 L964.9 248.1 L965.4 247.9 L966.0 247.7 L966.5 247.5 L967.0 247.3 L967.5 247.2 L968.0 247.0 L968.6 246.8 L969.1 246.6 L969.6 246.4 L970.1 246.2 L970.6 246.1 L971.2 245.9 L971.7 245.5 L972.2 244.3 L972.7 243.1 L973.2 241.9 L973.8 240.7 L974.3 239.4 L974.8 238.9 L975.3 238.7 L975.8 238.5 L976.4 238.3 L976.9 238.1 L977.4 238.0 L977.9 237.8 L978.4 237.6 L979.0 237.4 L979.5 237.3 L980.0 237.1 L980.5 236.9 L981.1 236.7 L981.6 236.6 L982.1 236.1 L982.6 234.9 L983.1 233.7 L983.7 232.5 L984.2 231.2 L984.7 230.0 L985.2 229.5 L985.8 229.3 L986.3 229.1 L986.8 229.0 L987.3 228.8 L987.8 228.6 L988.4 228.5 L988.9 228.3 L989.4 228.1 L989.9 228.0 L990.4 227.8 L991.0 227.6 L991.5 227.5 L992.0 227.3 L992.5 226.8 L993.1 225.6 L993.6 224.3 L994.1 223.1 L994.6 221.8 L995.1 220.6 L995.7 220.1 L996.2 220.0 L996.7 219.8 L997.2 219.6 L997.8 219.5 L998.3 219.3 L998.8 219.1 L999.3 219.0 L999.8 218.8 L1000.4 218.7 L1000.9 218.5 L1001.4 218.4 L1001.9 218.2 L1003.0 217.5 L1004.1 214.9 L1005.1 212.3 L1006.2 210.8 L1007.3 210.6 L1008.3 210.4 L1009.4 210.2 L1010.5 210.0 L1011.6 209.8 L1012.7 209.6 L1013.7 208.1 L1014.8 205.4 L1015.8 202.6 L1016.9 201.8 L1017.9 201.6 L1018.9 201.3 L1020.0 201.1 L1021.0 200.8 L1022.0 200.5 L1022.9 200.3 L1023.9 199.1 L1024.9 196.2 L1025.4 194.8 L1025.9 193.4 L1026.4 192.0 L1026.9 191.5 L1027.3 191.4 L1027.8 191.2 L1028.3 191.1 L1028.8 190.9 L1029.3 190.8 L1029.8 190.6 L1030.2 190.5 L1030.7 190.3 L1031.2 190.2 L1031.7 190.0 L1032.1 189.9 L1032.6 189.8 L1033.1 189.6 L1033.6 189.5 L1034.0 189.1 L1034.5 187.7 L1035.0 186.2 L1035.5 184.7 L1036.0 183.2 L1036.4 181.7 L1036.9 180.3 L1037.4 180.2 L1037.9 180.0 L1038.3 179.9 L1038.8 179.8 L1039.8 179.5 L1040.7 179.3 L1041.7 179.1 L1042.7 178.9 L1043.7 178.8 L1044.7 177.7 L1045.7 174.6 L1046.7 171.4 L1047.7 169.4 L1048.2 169.4 L1048.7 169.3 L1049.2 169.3 L1049.7 169.2 L1050.2 169.2 L1050.7 169.1 L1051.2 169.1 L1051.7 169.1 L1052.3 169.0 L1052.8 169.0 L1053.3 169.0 L1053.8 169.0 L1054.3 168.9 L1054.8 168.9 L1055.3 167.2 L1055.8 165.6 L1056.3 163.9 L1056.8 162.3 L1057.3 160.6 L1057.8 159.2 L1058.3 159.2 L1058.8 159.2 L1059.3 159.1 L1059.8 159.1 L1060.3 159.1 L1061.3 159.0 L1062.3 159.0 L1063.3 159.0 L1064.3 159.0 L1065.3 158.5 L1066.3 155.0 L1067.4 151.5 L1068.4 149.1 L1069.5 149.3 L1070.6 149.4 L1071.6 149.6 L1072.7 149.8 L1073.8 150.1 L1074.9 150.4 L1076.1 148.9 L1077.2 145.1 L1078.3 141.2 L1079.5 141.1 L1080.7 141.5 L1081.8 142.0 L1083.0 142.5 L1084.2 143.1 L1085.4 143.6 L1086.6 141.9 L1087.7 137.8 L1088.9 133.8 L1090.0 134.2 L1091.2 134.6 L1092.3 135.0 L1093.4 135.4 L1094.4 135.7 L1095.5 136.1 L1096.6 135.6 L1097.6 131.6 L1098.6 127.5 L1099.7 125.1 L1100.7 125.3 L1101.7 125.5 L1102.6 125.6 L1103.6 125.7 L1104.5 125.7 L1105.4 125.7 L1106.2 125.7 L1107.1 124.3 L1107.9 120.6 L1108.8 116.8 L1109.6 113.1 L1110.4 112.5 L1111.2 112.3 L1112.0 112.1 L1112.7 111.9 L1113.5 111.7 L1114.2 111.4 L1115.0 111.1 L1115.7 110.8 L1116.3 110.5 L1117.0 110.1 L1117.7 107.4 L1118.4 104.0 L1119.0 100.6 L1119.3 98.9 L1119.7 97.2 L1120.0 95.5" stroke="#ff0000" stroke-width="3.2"/>
<path d="M304.5 522.9 L305.2 522.9 L305.9 522.9 L306.6 522.9 L307.3 522.9 L308.0 522.9 L308.7 522.9 L309.4 522.9 L310.1 522.9 L310.8 522.9 L311.5 522.9 L312.2 522.9 L312.9 522.9 L313.6 522.9 L314.3 522.9 L315.0 522.9 L315.7 522.9 L316.4 522.9 L317.1 522.9 L317.8 522.9 L318.5 522.9 L319.2 522.9 L319.9 522.9 L320.6 522.9 L321.3 522.9 L322.0 522.9 L322.7 522.9 L323.4 522.9 L324.1 522.9 L324.8 522.9 L325.5 522.9 L326.2 522.9 L326.9 522.9 L327.6 522.9 L328.3 522.9 L329.0 522.9 L329.7 522.9 L330.4 522.9 L331.1 522.9 L331.8 522.9 L332.5 522.9 L333.2 522.9 L333.9 522.9 L334.6 522.9 L335.3 522.9 L336.0 522.9 L336.7 522.9 L337.4 522.9 L338.1 522.9 L338.8 522.8 L339.5 522.8 L340.2 522.8 L340.9 522.8 L341.6 522.8 L342.3 522.8 L343.0 522.8 L343.7 522.8 L344.4 522.8 L345.1 522.8 L345.8 522.8 L346.5 522.8 L347.2 522.8 L347.9 522.8 L348.6 522.8 L349.3 522.8 L350.0 522.8 L350.7 522.8 L351.4 522.8 L352.1 522.8 L352.8 522.8 L353.5 522.8 L354.2 522.8 L354.9 522.8 L355.6 522.8 L356.3 522.8 L357.0 522.8 L357.7 522.8 L358.4 522.8 L359.1 522.8 L359.8 522.8 L360.5 522.8 L361.2 522.8 L361.9 522.8 L362.6 522.8 L363.3 522.8 L364.0 522.8 L364.7 522.8 L365.4 522.8 L366.1 522.8 L366.8 522.8 L367.5 522.8 L368.2 522.8 L368.9 522.8 L369.6 522.8 L370.3 522.8 L371.0 522.8 L371.7 522.8 L372.4 522.8 L373.1 522.8 L373.8 522.8 L374.5 522.8 L375.2 522.8 L375.9 522.8 L376.6 522.8 L377.3 522.8 L378.0 522.8 L378.7 522.8 L379.4 522.8 L380.1 522.8 L380.8 522.8 L381.5 522.8 L382.2 522.8 L382.9 522.8 L383.6 522.8 L384.3 522.8 L385.0 522.8 L385.7 522.8 L386.4 522.8 L387.1 522.8 L387.8 522.8 L388.5 522.8 L389.2 522.8 L389.9 522.8 L390.6 522.8 L391.3 522.8 L392.0 522.8 L392.7 522.8 L393.4 522.8 L394.1 522.8 L394.8 522.8 L395.5 522.8 L396.2 522.8 L396.9 522.8 L397.6 522.8 L398.3 522.8 L399.0 522.8 L399.7 522.8 L400.4 522.8 L401.1 522.8 L401.8 522.8 L402.5 522.8 L403.2 522.8 L403.9 522.8 L404.6 522.8 L405.3 522.8 L406.0 522.7 L406.7 522.7 L407.4 522.7 L408.1 522.7 L408.8 522.7 L409.5 522.7 L410.2 522.7 L410.9 522.7 L411.6 522.7 L412.3 522.7 L413.0 522.7 L413.7 522.7 L414.4 522.7 L415.1 522.7 L415.8 522.7 L416.5 522.7 L417.2 522.7 L417.9 522.7 L418.6 522.7 L419.3 522.7 L420.0 522.7 L420.7 522.7 L421.4 522.7 L422.1 522.7 L422.8 522.7 L423.5 522.7 L424.2 522.7 L424.9 522.7 L425.6 522.7 L426.3 522.7 L427.0 522.7 L427.7 522.7 L428.4 522.7 L429.1 522.7 L429.8 522.7 L430.5 522.7 L431.2 522.7 L431.9 522.7 L432.6 522.7 L433.3 522.7 L434.0 522.7 L434.7 522.7 L435.4 522.7 L436.1 522.7 L436.8 522.7 L437.5 522.7 L438.2 522.7 L438.9 522.7 L439.6 522.7 L440.3 522.7 L441.0 522.7 L441.7 522.7 L442.5 522.7 L443.2 522.7 L443.9 522.7 L444.6 522.7 L445.3 522.7 L446.0 522.7 L446.7 522.7 L447.4 522.7 L448.1 522.7 L448.8 522.7 L449.5 522.7 L450.2 522.7 L450.9 522.7 L451.6 522.7 L452.3 522.7 L453.0 522.7 L453.7 522.7 L454.4 522.7 L455.1 522.7 L455.8 522.7 L456.5 522.7 L457.2 522.7 L457.9 522.7 L458.6 522.7 L459.3 522.7 L460.0 522.7 L460.7 522.7 L461.4 522.7 L462.1 522.7 L462.8 522.7 L463.5 522.7 L464.2 522.7 L464.9 522.7 L465.6 522.7 L466.3 522.7 L467.0 522.7 L467.7 522.7 L468.4 522.7 L469.1 522.7 L469.8 522.7 L470.5 522.7 L471.2 522.7 L471.9 522.7 L472.6 522.7 L473.3 522.7 L474.0 522.6 L474.7 522.6 L475.4 522.6 L476.1 522.6 L476.8 522.6 L477.5 522.6 L478.2 522.6 L478.9 522.6 L479.6 522.6 L480.3 522.6 L481.0 522.6 L481.7 522.6 L482.4 522.6 L483.1 522.6 L483.8 522.6 L484.5 522.6 L485.2 522.6 L485.9 522.6 L486.6 522.6 L487.3 522.6 L488.0 522.6 L488.7 522.6 L489.4 522.6 L490.1 522.6 L490.8 522.6 L491.5 522.6 L492.2 522.6 L492.9 522.6 L493.6 522.6 L494.3 522.6 L495.0 522.6 L495.7 522.6 L496.4 522.6 L497.1 522.6 L497.8 522.6 L498.5 522.6 L499.2 522.6 L499.9 522.6 L500.6 522.6 L501.3 522.6 L502.0 522.6 L502.7 522.6 L503.4 522.6 L504.1 522.6 L504.8 522.6 L505.5 522.6 L506.2 522.6 L506.9 522.6 L507.6 522.6 L508.3 522.6 L509.0 522.6 L509.7 522.6 L510.4 522.6 L511.1 522.6 L511.8 522.6 L512.5 522.6 L513.2 522.6 L513.9 522.6 L514.6 522.6 L515.3 522.6 L516.0 522.6 L516.7 522.6 L517.4 522.6 L518.1 522.6 L518.8 522.6 L519.5 522.6 L520.2 522.6 L520.9 522.6 L521.6 522.6 L522.3 522.6 L523.0 522.6 L523.7 522.6 L524.4 522.6 L525.1 522.6 L525.8 522.6 L526.5 522.6 L527.2 522.6 L527.9 522.6 L528.6 522.6 L529.3 522.6 L530.0 522.6 L530.7 522.6 L531.4 522.6 L532.1 522.6 L532.8 522.6 L533.5 522.6 L534.2 522.6 L534.9 522.6 L535.6 522.6 L536.3 522.6 L537.0 522.6 L537.7 522.6 L538.4 522.6 L539.1 522.6 L539.8 522.6 L540.5 522.6 L541.2 522.6 L541.9 522.5 L542.6 522.5 L543.3 522.5 L544.0 522.5 L544.7 522.5 L545.4 522.5 L546.1 522.5 L546.8 522.5 L547.5 522.5 L548.2 522.5 L548.9 522.5 L549.6 522.5 L550.3 522.5 L551.0 522.5 L551.7 522.5 L552.4 522.5 L553.1 522.5 L553.8 522.5 L554.5 522.5 L555.2 522.5 L556.6 522.5 L558.0 522.4 L559.4 522.4 L560.8 522.3 L562.2 522.3 L563.6 522.2 L565.0 522.1 L565.7 522.1 L566.4 522.1 L567.1 522.0 L567.8 522.0 L568.5 521.9 L569.2 521.9 L569.9 521.8 L570.6 521.8 L571.3 521.7 L572.0 521.7 L572.7 521.6 L573.4 521.6 L574.1 521.5 L574.8 521.5 L575.5 521.4 L576.2 521.4 L576.9 521.3 L577.6 521.3 L578.3 521.2 L579.0 521.2 L579.7 521.1 L580.3 521.1 L581.0 521.0 L581.7 521.0 L582.4 520.9 L583.1 520.9 L583.8 520.8 L584.5 520.8 L585.2 520.7 L585.9 520.7 L586.6 520.6 L587.3 520.6 L588.0 520.5 L588.7 520.5 L589.4 520.4 L590.1 520.4 L590.8 520.3 L591.5 520.3 L592.2 520.3 L592.9 520.2 L593.6 520.2 L594.3 520.1 L595.0 520.1 L595.7 520.0 L596.4 520.0 L597.1 519.9 L597.8 519.9 L598.5 519.8 L599.2 519.8 L599.9 519.8 L600.6 519.7 L601.3 519.7 L602.0 519.6 L602.7 519.6 L603.4 519.6 L604.1 519.5 L604.8 519.5 L605.5 519.5 L606.2 519.4 L606.9 519.4 L607.6 519.4 L608.3 519.3 L609.0 519.3 L609.7 519.3 L610.4 519.2 L611.1 519.2 L611.8 519.2 L612.5 519.1 L613.2 519.1 L613.9 519.1 L614.6 519.0 L615.3 519.0 L616.0 519.0 L616.7 518.9 L617.4 518.9 L618.1 518.9 L618.8 518.8 L619.5 518.8 L620.2 518.8 L620.9 518.7 L621.6 518.7 L622.3 518.7 L623.0 518.6 L623.7 518.6 L624.4 518.5 L625.1 518.5 L625.8 518.5 L626.5 518.4 L627.2 518.4 L627.9 518.3 L628.6 518.3 L629.3 518.3 L630.0 518.2 L630.7 518.2 L631.4 518.1 L632.1 518.1 L632.8 518.0 L633.5 518.0 L634.2 518.0 L634.9 517.9 L635.6 517.9 L636.3 517.8 L637.0 517.8 L637.7 517.7 L638.4 517.7 L639.1 517.6 L639.8 517.6 L641.2 517.5 L642.6 517.4 L643.9 517.2 L645.3 517.1 L646.7 517.0 L648.1 516.8 L649.5 516.6 L650.9 516.5 L651.6 516.4 L652.3 516.3 L653.0 516.2 L653.7 516.1 L654.4 516.0 L655.1 515.9 L655.8 515.8 L656.5 515.7 L657.1 515.6 L657.8 515.5 L658.5 515.4 L659.2 515.3 L659.9 515.2 L660.6 515.1 L661.3 515.0 L662.0 514.9 L662.7 514.8 L663.4 514.7 L664.1 514.5 L664.8 514.4 L665.4 514.3 L666.1 514.2 L667.5 514.0 L668.9 513.7 L670.3 513.5 L671.6 513.2 L673.0 512.9 L674.4 512.6 L675.7 512.3 L677.1 511.9 L678.4 511.6 L679.8 511.1 L681.1 510.7 L682.4 510.3 L683.7 509.8 L685.0 509.3 L686.3 508.8 L687.6 508.3 L688.9 507.8 L690.2 507.3 L691.5 506.7 L692.8 506.2 L694.1 505.6 L695.3 505.0 L696.6 504.4 L697.8 503.7 L699.1 503.1 L700.3 502.4 L701.5 501.8 L702.8 501.1 L704.0 500.4 L705.2 499.7 L706.4 499.0 L707.6 498.3 L708.8 497.6 L710.0 496.9 L711.2 496.1 L712.3 495.3 L713.5 494.5 L714.6 493.7 L715.8 492.9 L716.9 492.1 L718.0 491.2 L719.2 490.4 L719.7 490.0 L720.3 489.6 L720.8 489.1 L721.9 488.3 L723.1 487.4 L724.2 486.6 L725.3 485.7 L726.3 484.8 L727.4 483.9 L728.5 483.0 L729.5 482.1 L730.6 481.2 L731.6 480.3 L732.7 479.3 L733.7 478.4 L734.2 477.9 L734.7 477.4 L735.2 476.9 L735.7 476.5 L736.2 476.0 L736.8 475.5 L737.3 475.0 L737.8 474.5 L738.3 474.0 L738.8 473.6 L739.3 473.1 L739.8 472.6 L740.3 472.1 L740.8 471.6 L741.3 471.1 L741.8 470.6 L742.3 470.1 L742.8 469.6 L743.3 469.1 L743.8 468.6 L744.3 468.1 L744.7 467.6 L745.2 467.1 L745.7 466.6 L746.2 466.1 L746.7 465.6 L747.2 465.1 L747.7 464.6 L748.2 464.1 L748.7 463.6 L749.1 463.1 L749.6 462.6 L750.1 462.1 L750.6 461.6 L751.1 461.1 L751.5 460.6 L752.0 460.1 L752.5 459.5 L753.0 459.0 L753.4 458.5 L753.9 458.0 L754.4 457.5 L754.8 457.0 L755.3 456.4 L755.8 455.9 L756.2 455.4 L756.7 454.9 L757.2 454.3 L758.1 453.3 L759.0 452.2 L759.9 451.1 L760.8 450.1 L761.2 449.5 L761.7 449.0 L762.1 448.4 L762.5 447.9 L763.0 447.3 L763.4 446.8 L763.9 446.3 L764.3 445.7 L764.7 445.2 L765.2 444.6 L765.6 444.1 L766.0 443.5 L766.5 443.0 L766.9 442.4 L767.3 441.9 L767.8 441.3 L768.2 440.7 L768.6 440.2 L769.0 439.6 L769.5 439.1 L769.9 438.5 L770.3 438.0 L770.7 437.4 L771.1 436.8 L771.6 436.3 L772.0 435.7 L772.4 435.2 L772.8 434.6 L773.2 434.0 L773.7 433.5 L774.1 432.9 L774.5 432.4 L774.9 431.8 L775.4 431.3 L775.8 430.7 L776.2 430.1 L776.7 429.6 L777.1 429.0 L777.5 428.5 L778.0 427.9 L778.4 427.4 L778.8 426.9 L779.3 426.3 L779.7 425.8 L780.2 425.2 L780.6 424.7 L781.0 424.1 L781.5 423.6 L781.9 423.0 L782.4 422.5 L782.8 422.0 L783.2 421.4 L783.7 420.9 L784.1 420.3 L784.6 419.8 L785.0 419.2 L785.4 418.7 L785.9 418.1 L786.3 417.6 L786.7 417.0 L787.2 416.5 L787.6 415.9 L788.0 415.4 L788.5 414.8 L788.9 414.3 L789.3 413.7 L789.8 413.2 L790.2 412.6 L790.6 412.1 L791.0 411.5 L791.4 410.9 L791.9 410.4 L792.3 409.8 L792.7 409.3 L793.1 408.7 L793.6 408.2 L794.0 407.6 L794.4 407.0 L794.8 406.5 L795.2 406.0 L795.7 405.4 L796.1 404.9 L796.5 404.4 L796.9 403.9 L797.4 403.3 L797.8 402.8 L798.2 402.2 L798.6 401.6 L799.0 400.9 L799.5 400.3 L799.9 399.7 L800.7 398.4 L801.6 397.3 L802.5 396.3 L803.4 395.3 L804.2 394.3 L805.1 393.3 L806.1 392.3 L807.0 391.4 L807.9 390.4 L808.8 389.3 L809.3 388.6 L809.8 388.0 L810.2 387.3 L810.7 386.6 L811.2 386.0 L811.7 385.5 L812.1 385.0 L812.6 384.6 L813.1 384.1 L813.5 383.7 L814.0 383.2 L814.5 382.8 L815.0 382.3 L815.5 381.9 L815.9 381.4 L816.4 381.0 L816.9 380.5 L817.4 380.1 L817.9 379.7 L818.3 379.3 L818.8 378.8 L819.3 378.1 L819.8 377.4 L820.3 376.7 L820.8 375.9 L821.2 375.2 L821.7 374.6 L822.2 374.2 L822.7 373.7 L823.2 373.3 L823.7 372.9 L824.2 372.5 L824.7 372.1 L825.1 371.6 L825.6 371.2 L826.1 370.8 L826.6 370.4 L827.1 370.0 L827.6 369.6 L828.1 369.2 L828.6 368.8 L829.1 368.4 L829.5 367.7 L830.0 366.9 L830.5 366.2 L831.0 365.4 L831.5 364.6 L832.0 363.9 L832.5 363.4 L832.9 363.0 L833.4 362.6 L833.9 362.2 L834.4 361.8 L834.9 361.4 L835.4 361.0 L835.9 360.6 L836.3 360.2 L836.8 359.9 L837.3 359.5 L837.8 359.1 L838.3 358.7 L838.8 358.3 L839.3 358.0 L839.7 357.3 L840.2 356.5 L840.7 355.7 L841.2 354.9 L841.7 354.1 L842.2 353.2 L842.7 352.6 L843.1 352.2 L843.6 351.9 L844.1 351.5 L844.6 351.1 L845.1 350.7 L845.5 350.3 L846.0 350.0 L846.5 349.6 L847.0 349.2 L847.5 348.8 L847.9 348.5 L848.4 348.1 L848.9 347.7 L849.4 347.4 L849.8 347.0 L850.3 346.2 L850.8 345.3 L851.7 343.5 L852.7 341.7 L853.6 340.8 L854.5 340.0 L855.4 339.2 L856.3 338.5 L856.8 338.1 L857.2 337.7 L857.7 337.3 L858.1 336.9 L858.6 336.5 L859.0 336.1 L859.5 335.7 L859.9 335.4 L860.3 334.9 L860.8 334.0 L861.2 333.1 L861.7 332.1 L862.1 331.2 L862.6 330.2 L863.0 329.3 L863.5 328.7 L863.9 328.3 L864.3 327.9 L865.2 327.1 L866.1 326.4 L867.0 325.6 L868.0 324.9 L868.9 324.2 L869.8 323.6 L870.8 322.8 L871.8 320.8 L872.7 318.8 L873.7 317.0 L874.7 316.4 L875.7 315.8 L876.7 315.3 L877.2 315.0 L877.8 314.7 L878.3 314.5 L878.8 314.2 L879.3 313.9 L879.8 313.7 L880.3 313.4 L880.8 313.1 L881.3 312.6 L881.8 311.5 L882.3 310.5 L882.8 309.4 L883.3 308.4 L883.8 307.3 L884.3 306.7 L884.8 306.4 L885.3 306.2 L885.8 305.9 L886.3 305.6 L886.8 305.3 L887.3 305.1 L887.8 304.8 L888.3 304.5 L888.8 304.2 L889.3 304.0 L889.8 303.7 L890.3 303.4 L890.8 303.2 L891.3 302.9 L891.8 302.2 L892.3 301.1 L892.8 300.1 L893.3 299.0 L893.8 297.9 L894.3 296.9 L894.9 296.6 L895.4 296.3 L895.9 296.1 L896.4 295.8 L896.9 295.6 L897.5 295.4 L898.0 295.1 L898.5 294.9 L899.0 294.7 L899.5 294.4 L900.1 294.2 L900.6 294.0 L901.1 293.8 L901.6 293.6 L902.7 291.8 L903.8 289.6 L904.8 287.5 L905.9 287.0 L906.9 286.6 L907.9 286.1 L909.0 285.7 L910.0 285.2 L911.0 284.6 L911.9 284.1 L912.9 282.5 L913.9 280.3 L914.8 278.1 L915.8 276.9 L916.7 276.3 L917.2 276.0 L917.6 275.7 L918.1 275.4 L918.6 275.1 L919.0 274.8 L919.5 274.5 L920.0 274.2 L920.4 273.9 L920.9 273.6 L921.4 273.3 L921.8 273.0 L922.3 272.7 L923.2 271.2 L924.2 269.0 L925.1 266.8 L926.1 265.4 L927.1 264.9 L928.0 264.3 L929.0 263.9 L930.0 263.4 L931.1 262.9 L932.1 262.5 L933.1 262.0 L934.2 259.7 L934.7 258.6 L935.2 257.5 L935.7 256.3 L936.2 255.6 L936.8 255.4 L937.3 255.2 L937.8 255.0 L938.3 254.8 L938.8 254.6 L939.4 254.4 L939.9 254.2 L940.4 254.0 L940.9 253.8 L941.4 253.6 L942.0 253.4 L942.5 253.2 L943.0 253.0 L943.5 252.7 L944.0 251.5 L944.6 250.4 L945.1 249.2 L945.6 248.1 L946.1 246.9 L946.6 246.2 L947.2 246.0 L947.7 245.8 L948.2 245.5 L948.7 245.3 L949.2 245.1 L949.7 244.9 L950.2 244.7 L950.7 244.5 L951.2 244.2 L951.7 244.0 L952.2 243.8 L952.7 243.6 L953.2 243.3 L953.7 243.1 L954.2 242.2 L954.7 241.1 L955.2 239.9 L956.2 237.6 L957.2 236.0 L958.2 235.5 L959.1 235.0 L960.1 234.5 L961.1 234.0 L961.5 233.7 L962.0 233.5 L962.5 233.2 L963.0 232.9 L963.4 232.7 L964.4 232.0 L965.3 229.6 L966.3 227.3 L967.3 225.1 L968.2 224.6 L969.2 224.1 L970.2 223.7 L971.2 223.3 L972.3 222.9 L973.3 222.5 L974.3 222.1 L975.4 220.4 L976.4 218.0 L977.5 215.6 L978.6 215.1 L979.7 214.8 L980.8 214.6 L981.9 214.3 L983.0 214.1 L984.1 213.9 L985.2 213.4 L986.4 211.0 L987.5 208.5 L988.6 207.3 L989.8 207.1 L990.9 206.9 L992.0 206.7 L993.1 206.5 L994.2 206.3 L995.3 206.1 L996.4 203.9 L997.5 201.4 L998.6 199.3 L999.7 199.0 L1000.7 198.7 L1001.8 198.5 L1002.9 198.2 L1003.9 197.9 L1004.9 197.6 L1006.0 197.1 L1007.0 194.5 L1008.0 191.9 L1009.0 189.7 L1009.9 189.3 L1010.9 188.8 L1011.8 188.4 L1012.7 187.9 L1013.6 187.5 L1014.5 187.0 L1015.4 186.5 L1016.3 186.1 L1017.1 183.5 L1018.0 180.8 L1019.0 178.1 L1019.9 177.1 L1020.8 176.7 L1021.8 176.3 L1022.7 176.0 L1023.7 175.7 L1024.7 175.5 L1025.7 175.2 L1026.7 175.0 L1027.7 172.1 L1028.7 169.2 L1029.7 166.5 L1030.7 166.2 L1031.6 166.0 L1032.6 165.7 L1033.6 165.4 L1034.5 165.2 L1035.5 164.9 L1035.9 164.7 L1036.4 164.6 L1036.9 164.5 L1037.3 163.6 L1037.8 162.1 L1038.3 160.6 L1038.7 159.2 L1039.2 157.6 L1039.7 156.1 L1040.1 155.0 L1040.6 154.9 L1041.1 154.8 L1041.5 154.6 L1042.0 154.5 L1042.5 154.3 L1042.9 154.2 L1043.4 154.1 L1043.9 153.9 L1044.3 153.8 L1044.8 153.7 L1045.3 153.6 L1045.7 153.4 L1046.2 153.3 L1046.7 153.2 L1047.1 153.1 L1047.6 152.6 L1048.1 151.1 L1048.5 149.5 L1049.0 147.9 L1049.5 146.4 L1049.9 144.8 L1050.4 143.2 L1050.9 143.1 L1051.3 143.0 L1051.8 142.9 L1052.3 142.8 L1053.2 142.6 L1054.2 142.4 L1055.1 142.2 L1056.1 142.1 L1057.1 142.0 L1058.0 141.4 L1059.0 138.1 L1060.0 134.7 L1061.1 132.2 L1062.1 132.2 L1063.1 132.2 L1064.2 132.3 L1065.2 132.3 L1066.2 132.4 L1067.3 132.4 L1068.3 132.5 L1069.3 129.0 L1070.3 125.5 L1071.3 122.2 L1072.2 122.1 L1073.2 122.1 L1074.1 122.0 L1075.1 121.9 L1076.0 121.8 L1076.5 121.8 L1077.0 121.8 L1077.4 121.8 L1077.9 121.7 L1078.4 121.7 L1078.8 121.1 L1079.3 119.3 L1079.8 117.5 L1080.3 115.8 L1080.7 114.0 L1081.2 112.2 L1081.7 110.6 L1082.1 110.6 L1082.6 110.6 L1083.1 110.5 L1083.6 110.5 L1084.0 110.5 L1084.5 110.5 L1085.0 110.5 L1085.4 110.5 L1085.9 110.5 L1086.4 110.5 L1086.9 110.5 L1087.3 110.5 L1087.8 110.5 L1088.3 110.5 L1088.8 110.5 L1089.2 109.9 L1089.7 108.1 L1090.2 106.2 L1090.7 104.3 L1091.2 102.4 L1091.7 100.5 L1092.1 99.2 L1092.6 99.2 L1093.1 99.2 L1093.6 99.3 L1094.1 99.3 L1094.6 99.3 L1095.0 99.4 L1095.5 99.4 L1096.0 99.5 L1096.5 99.6 L1097.0 99.6 L1097.5 99.7 L1098.0 99.8 L1098.5 99.8 L1099.0 99.9 L1099.5 100.0 L1099.9 98.2 L1100.4 96.2 L1100.9 94.2 L1101.4 92.3 L1101.9 90.3 L1102.4 88.3 L1102.9 88.3 L1103.4 88.4 L1103.8 88.4 L1104.3 88.5 L1104.8 88.6 L1105.3 88.6 L1105.8 88.7 L1106.3 88.8 L1106.8 88.9 L1107.3 89.0 L1107.7 89.1 L1108.2 89.1 L1108.7 89.2 L1109.2 89.3 L1109.7 89.4 L1110.2 88.3 L1110.7 86.3 L1111.1 84.2 L1111.6 82.2 L1112.1 80.2 L1112.6 78.1 L1113.1 77.3 L1113.6 77.3 L1114.0 77.4 L1114.5 77.5 L1115.0 77.6 L1115.5 77.7 L1116.0 77.8 L1116.5 77.9 L1116.9 78.0 L1117.4 78.1 L1117.9 78.2 L1118.4 78.4" stroke="#7030a0" stroke-width="3.2"/>
<path d="M660.0 521.4 L660.7 521.3 L661.4 521.2 L662.1 521.1 L662.8 521.0 L663.5 520.9 L664.2 520.8 L664.9 520.7 L665.6 520.6 L666.2 520.5 L666.9 520.5 L667.6 520.4 L668.3 520.3 L669.0 520.2 L669.7 520.1 L670.4 520.0 L671.1 519.9 L671.8 519.8 L672.5 519.7 L673.2 519.6 L673.9 519.5 L674.6 519.4 L675.3 519.3 L676.0 519.2 L676.7 519.1 L677.4 519.0 L678.0 518.9 L678.7 518.8 L679.4 518.7 L680.1 518.7 L680.8 518.6 L681.5 518.5 L682.2 518.4 L682.9 518.3 L683.6 518.2 L684.3 518.1 L685.0 518.0 L685.7 517.9 L686.4 517.8 L687.1 517.7 L687.8 517.6 L688.5 517.5 L689.2 517.4 L689.8 517.3 L690.5 517.2 L691.2 517.1 L691.9 517.0 L692.6 516.9 L693.3 516.8 L694.0 516.7 L694.7 516.6 L695.4 516.5 L696.1 516.4 L696.8 516.3 L698.2 516.1 L699.5 515.9 L700.9 515.6 L702.3 515.3 L703.7 515.1 L705.0 514.8 L706.4 514.4 L707.8 514.1 L709.1 513.8 L709.8 513.6 L710.5 513.4 L711.1 513.2 L712.5 512.9 L713.8 512.5 L715.2 512.1 L716.5 511.7 L717.8 511.2 L719.2 510.8 L720.5 510.3 L721.8 509.8 L723.1 509.3 L724.4 508.8 L725.7 508.2 L726.9 507.6 L727.6 507.4 L728.2 507.1 L728.9 506.8 L729.5 506.5 L730.1 506.2 L730.8 505.9 L732.0 505.3 L733.3 504.8 L734.6 504.2 L735.8 503.5 L737.1 502.9 L738.3 502.2 L739.5 501.5 L740.7 500.8 L741.8 500.0 L743.0 499.2 L744.1 498.4 L745.2 497.6 L746.4 496.8 L747.5 495.9 L748.0 495.5 L748.6 495.0 L749.1 494.6 L749.7 494.2 L750.2 493.7 L750.7 493.3 L751.3 492.8 L751.8 492.4 L752.4 492.0 L752.9 491.5 L753.5 491.1 L754.0 490.6 L754.6 490.2 L755.1 489.7 L755.6 489.3 L756.2 488.8 L756.7 488.4 L757.3 488.0 L757.8 487.5 L758.3 487.1 L758.9 486.6 L759.4 486.2 L759.9 485.7 L760.5 485.3 L761.0 484.8 L761.5 484.4 L762.1 483.9 L762.6 483.4 L763.1 483.0 L763.7 482.5 L764.2 482.1 L764.7 481.6 L765.3 481.1 L765.8 480.7 L766.3 480.2 L766.8 479.8 L767.4 479.3 L767.9 478.8 L768.4 478.3 L768.9 477.9 L769.4 477.4 L770.0 476.9 L770.5 476.5 L771.0 476.0 L771.5 475.5 L772.0 475.0 L772.5 474.6 L773.0 474.1 L774.0 473.1 L775.0 472.1 L776.0 471.2 L777.0 470.2 L778.0 469.1 L778.9 468.1 L779.4 467.6 L779.9 467.1 L780.4 466.6 L780.8 466.1 L781.3 465.5 L781.8 465.0 L782.2 464.5 L782.7 464.0 L783.2 463.5 L783.6 462.9 L784.1 462.4 L784.6 461.9 L785.0 461.4 L785.5 460.8 L786.0 460.3 L786.4 459.8 L786.9 459.3 L787.4 458.8 L787.9 458.2 L788.3 457.7 L788.8 457.2 L789.3 456.7 L789.7 456.2 L790.2 455.6 L790.7 455.1 L791.1 454.6 L791.6 454.1 L792.1 453.6 L792.6 453.1 L793.0 452.5 L793.5 452.0 L794.0 451.5 L794.5 451.0 L794.9 450.5 L795.4 450.1 L795.9 449.5 L796.4 448.9 L796.8 448.3 L797.3 447.7 L797.8 447.2 L798.3 446.7 L798.7 446.2 L799.2 445.7 L799.7 445.2 L800.2 444.7 L800.7 444.3 L801.1 443.8 L801.6 443.3 L802.1 442.8 L802.6 442.4 L803.1 441.9 L803.5 441.4 L804.0 441.0 L804.5 440.5 L805.0 440.1 L805.5 439.5 L805.9 438.9 L806.4 438.2 L806.9 437.6 L807.4 437.0 L807.9 436.3 L808.4 435.8 L808.8 435.3 L809.3 434.9 L809.8 434.4 L810.3 434.0 L810.8 433.5 L811.3 433.1 L811.8 432.6 L812.2 432.2 L812.7 431.7 L813.2 431.3 L813.7 430.8 L814.2 430.4 L814.6 430.0 L815.1 429.5 L815.6 429.1 L816.1 428.4 L816.5 427.7 L817.0 427.0 L817.5 426.3 L818.0 425.6 L818.4 424.9 L818.9 424.4 L819.4 423.9 L819.8 423.5 L820.3 423.0 L820.8 422.6 L821.2 422.1 L821.7 421.7 L822.2 421.2 L822.6 420.8 L823.1 420.4 L823.5 419.9 L824.0 419.5 L824.5 419.0 L824.9 418.6 L825.4 418.2 L825.9 417.7 L826.3 417.1 L826.8 416.3 L827.2 415.6 L827.7 414.8 L828.2 414.0 L828.6 413.3 L829.1 412.6 L829.6 412.2 L830.0 411.8 L830.5 411.3 L830.9 410.9 L831.4 410.5 L831.9 410.0 L832.3 409.6 L832.8 409.2 L833.2 408.8 L833.7 408.3 L834.2 407.9 L834.6 407.5 L835.1 407.1 L835.6 406.7 L836.0 406.3 L836.5 405.7 L836.9 404.9 L837.4 404.1 L837.9 403.3 L838.3 402.5 L838.8 401.7 L839.3 400.9 L839.7 400.4 L840.2 400.0 L840.6 399.6 L841.1 399.2 L841.6 398.8 L842.0 398.4 L842.5 398.0 L843.0 397.6 L843.4 397.2 L843.9 396.8 L844.4 396.4 L844.8 396.0 L845.3 395.6 L845.8 395.2 L846.2 394.8 L846.7 394.4 L847.2 393.6 L847.6 392.8 L848.1 391.9 L848.6 391.0 L849.0 390.2 L849.5 389.3 L850.0 388.7 L850.4 388.3 L850.9 387.9 L851.4 387.5 L851.8 387.1 L852.3 386.8 L852.8 386.4 L853.2 386.0 L853.7 385.6 L854.2 385.2 L854.6 384.9 L855.1 384.5 L855.6 384.1 L856.0 383.8 L856.5 383.4 L856.9 383.0 L857.4 382.4 L857.9 381.5 L858.3 380.5 L858.8 379.6 L859.3 378.7 L859.7 377.8 L860.2 377.0 L860.7 376.6 L861.1 376.2 L861.6 375.9 L862.1 375.5 L862.5 375.2 L863.0 374.8 L863.5 374.4 L863.9 374.1 L864.4 373.7 L864.9 373.4 L865.3 373.0 L865.8 372.7 L866.3 372.3 L866.7 372.0 L867.2 371.6 L867.7 371.1 L868.1 370.2 L868.6 369.2 L869.0 368.2 L869.5 367.3 L870.0 366.3 L870.4 365.3 L870.9 364.8 L871.3 364.5 L871.8 364.1 L872.2 363.7 L872.7 363.4 L873.1 363.0 L873.5 362.6 L874.0 362.2 L874.4 361.9 L874.9 361.5 L875.3 361.1 L875.7 360.8 L876.2 360.4 L876.6 360.0 L877.0 359.6 L877.4 359.3 L877.9 358.9 L878.3 358.0 L878.7 357.0 L879.2 356.0 L879.6 355.0 L880.0 354.0 L880.4 352.9 L880.9 351.9 L881.3 351.5 L881.7 351.1 L882.2 350.8 L882.6 350.4 L883.0 350.0 L883.4 349.7 L883.9 349.3 L884.3 348.9 L884.7 348.6 L885.1 348.2 L885.6 347.8 L886.0 347.4 L886.4 347.1 L886.9 346.7 L887.3 346.3 L887.7 346.0 L888.1 345.6 L888.6 344.9 L889.0 343.9 L889.4 342.9 L889.9 341.8 L890.3 340.8 L890.7 339.7 L891.1 338.7 L891.6 338.1 L892.0 337.7 L892.4 337.4 L892.9 337.0 L893.3 336.6 L893.7 336.3 L894.1 335.9 L894.6 335.5 L895.0 335.2 L895.4 334.8 L895.9 334.5 L896.3 334.1 L896.7 333.7 L897.1 333.4 L897.6 333.0 L898.0 332.7 L898.4 332.3 L898.9 331.8 L899.3 330.7 L899.7 329.7 L900.2 328.6 L900.6 327.6 L901.0 326.5 L901.5 325.5 L901.9 324.8 L902.3 324.4 L902.8 324.1 L903.2 323.7 L903.6 323.3 L904.1 323.0 L904.5 322.6 L904.9 322.3 L905.4 322.0 L905.8 321.6 L906.3 321.3 L906.7 320.9 L907.1 320.6 L907.6 320.2 L908.0 319.9 L908.4 319.5 L908.9 319.2 L909.3 318.6 L909.7 317.5 L910.2 316.5 L910.6 315.4 L911.1 314.3 L911.5 313.2 L911.9 312.2 L912.4 311.6 L912.8 311.3 L913.3 310.9 L913.7 310.6 L914.1 310.2 L914.6 309.9 L915.0 309.6 L915.5 309.3 L915.9 308.9 L916.4 308.6 L916.8 308.3 L917.3 308.0 L917.7 307.6 L918.2 307.3 L918.6 307.0 L919.1 306.7 L919.5 306.4 L920.0 305.3 L920.5 304.2 L920.9 303.1 L921.4 302.0 L921.8 300.9 L922.3 299.8 L922.7 299.2 L923.2 298.9 L923.6 298.5 L924.1 298.2 L924.6 297.9 L925.0 297.6 L925.5 297.3 L925.9 297.0 L926.4 296.7 L926.8 296.4 L927.3 296.1 L927.8 295.8 L928.2 295.5 L928.7 295.2 L929.1 294.9 L929.6 294.6 L930.1 294.1 L930.5 293.0 L931.0 291.9 L931.4 290.8 L931.9 289.7 L932.4 288.5 L932.9 287.4 L933.3 287.1 L933.8 286.8 L934.3 286.5 L934.8 286.3 L935.2 286.0 L935.7 285.7 L936.2 285.5 L936.7 285.2 L937.2 284.9 L937.7 284.7 L938.2 284.4 L938.6 284.2 L939.1 283.9 L939.6 283.7 L940.1 283.4 L940.6 282.7 L941.1 281.6 L941.6 280.5 L942.1 279.3 L942.6 278.2 L943.1 277.0 L943.5 276.4 L944.0 276.1 L944.5 275.9 L945.0 275.6 L945.5 275.4 L946.0 275.1 L946.5 274.9 L947.0 274.6 L947.5 274.4 L948.0 274.1 L948.5 273.9 L949.0 273.7 L949.4 273.4 L949.9 273.2 L950.4 272.9 L950.9 272.4 L951.4 271.2 L951.9 270.1 L952.4 268.9 L952.9 267.8 L953.4 266.6 L953.9 265.9 L954.4 265.7 L954.9 265.5 L955.5 265.3 L956.0 265.0 L956.5 264.8 L957.0 264.6 L957.5 264.4 L958.0 264.2 L958.5 264.0 L959.1 263.8 L959.6 263.6 L960.1 263.4 L960.6 263.3 L961.1 263.1 L961.7 261.9 L962.2 260.8 L962.7 259.6 L963.2 258.4 L963.7 257.2 L964.3 256.3 L964.8 256.1 L965.3 256.0 L965.8 255.8 L966.3 255.6 L966.9 255.4 L967.4 255.2 L967.9 255.0 L968.4 254.8 L968.9 254.7 L969.5 254.5 L970.0 254.3 L970.5 254.1 L971.0 253.9 L971.5 253.7 L972.1 252.6 L972.6 251.4 L973.1 250.2 L973.6 249.0 L974.1 247.8 L974.7 246.9 L975.2 246.7 L975.7 246.6 L976.2 246.4 L976.8 246.2 L977.3 246.0 L977.8 245.8 L978.3 245.7 L978.8 245.5 L979.4 245.3 L979.9 245.1 L980.4 245.0 L980.9 244.8 L981.5 244.6 L982.0 244.4 L982.5 243.2 L983.0 242.0 L983.5 240.8 L984.1 239.5 L984.6 238.3 L985.1 237.5 L985.6 237.4 L986.1 237.2 L986.7 237.0 L987.2 236.8 L987.7 236.7 L988.2 236.5 L988.8 236.3 L989.3 236.2 L989.8 236.0 L990.3 235.8 L990.8 235.7 L991.4 235.5 L991.9 235.3 L992.4 235.1 L992.9 233.8 L993.5 232.6 L994.0 231.4 L994.5 230.1 L995.0 228.9 L995.5 228.2 L996.1 228.0 L996.6 227.8 L997.1 227.7 L997.6 227.5 L998.2 227.3 L998.7 227.2 L999.2 227.0 L999.7 226.8 L1000.2 226.7 L1000.7 226.5 L1001.3 226.3 L1001.8 226.2 L1002.8 225.8 L1003.8 223.3 L1004.8 220.7 L1005.8 218.4 L1006.8 218.0 L1007.7 217.5 L1008.7 217.1 L1009.6 216.7 L1010.1 216.5 L1010.5 216.2 L1011.0 216.0 L1011.5 215.8 L1011.9 215.6 L1012.4 215.4 L1012.9 215.2 L1013.3 214.6 L1013.8 213.3 L1014.2 212.0 L1014.7 210.6 L1015.2 209.3 L1015.6 208.0 L1016.1 206.6 L1016.5 206.4 L1017.0 206.2 L1017.5 206.0 L1017.9 205.7 L1018.4 205.5 L1018.8 205.3 L1019.3 205.1 L1019.7 204.9 L1020.2 204.6 L1020.6 204.4 L1021.1 204.2 L1021.5 204.0 L1022.0 203.8 L1022.4 203.6 L1022.9 203.4 L1023.3 203.2 L1023.8 202.4 L1024.2 201.1 L1024.7 199.7 L1025.1 198.3 L1025.6 196.9 L1026.0 195.5 L1026.4 194.1 L1026.9 193.8 L1027.3 193.6 L1027.8 193.4 L1028.2 193.2 L1028.7 193.0 L1029.1 192.8 L1029.6 192.6 L1030.5 192.3 L1031.5 192.0 L1032.4 191.7 L1033.3 191.4 L1033.8 191.3 L1034.3 190.2 L1034.8 188.7 L1035.3 187.2 L1035.8 185.7 L1036.2 184.2 L1036.7 182.7 L1037.2 182.2 L1037.7 182.1 L1038.2 181.9 L1038.7 181.8 L1039.2 181.7 L1039.7 181.6 L1040.2 181.5 L1040.7 181.4 L1041.1 181.3 L1041.6 181.2 L1042.1 181.1 L1042.6 181.1 L1043.1 181.0 L1043.6 180.9 L1044.1 180.8 L1044.6 180.1 L1045.1 178.6 L1045.5 177.0 L1046.0 175.4 L1046.5 173.9 L1047.0 172.3 L1047.5 171.3 L1048.0 171.2 L1048.4 171.1 L1048.9 171.0 L1049.4 170.9 L1049.9 170.8 L1050.4 170.7 L1050.8 170.6 L1051.3 170.5 L1051.8 170.4 L1052.3 170.4 L1052.8 170.3 L1053.2 170.2 L1053.7 170.1 L1054.2 170.1 L1054.7 170.0 L1055.2 168.7 L1055.6 167.0 L1056.1 165.4 L1056.6 163.8 L1057.1 162.1 L1057.5 160.5 L1058.0 160.0 L1058.5 159.9 L1059.0 159.8 L1059.5 159.7 L1059.9 159.7 L1060.4 159.6 L1060.9 159.5 L1061.4 159.5 L1061.9 159.4 L1062.3 159.4 L1062.8 159.3 L1063.3 159.3 L1063.8 159.2 L1064.3 159.2 L1064.7 159.1 L1065.2 158.9 L1065.7 157.2 L1066.2 155.5 L1066.7 153.8 L1067.1 152.1 L1067.6 150.4 L1068.1 148.7 L1068.6 148.7 L1069.0 148.6 L1069.5 148.6 L1070.0 148.5 L1070.5 148.5 L1071.0 148.4 L1071.4 148.4 L1071.9 148.4 L1072.4 148.3 L1072.9 148.3 L1073.3 148.3 L1073.8 148.2 L1074.3 148.2 L1074.8 148.2 L1075.2 148.1 L1075.7 147.6 L1076.2 145.9 L1076.6 144.1 L1077.1 142.4 L1077.6 140.6 L1078.0 138.8 L1078.5 137.1 L1079.0 137.1 L1079.4 137.0 L1079.9 137.0 L1080.4 137.0 L1080.8 136.9 L1081.3 136.9 L1081.8 136.8 L1082.2 136.8 L1082.7 136.8 L1083.1 136.7 L1083.6 136.7 L1084.1 136.7 L1084.5 136.7 L1085.0 136.6 L1085.4 136.6 L1085.9 136.6 L1086.4 135.0 L1087.3 131.5 L1088.1 127.9 L1089.0 124.9 L1089.9 124.7 L1090.7 124.5 L1091.6 124.3 L1092.4 124.1 L1093.2 123.9 L1093.6 123.8 L1094.0 123.6 L1094.4 123.5 L1094.8 123.4 L1095.2 123.3 L1095.6 123.2 L1096.0 123.1 L1096.4 122.8 L1096.8 121.1 L1097.2 119.3 L1097.6 117.6 L1098.0 115.8 L1098.4 114.1 L1098.8 112.3 L1099.2 110.6 L1099.6 109.9 L1100.0 109.8 L1100.3 109.7 L1100.7 109.6 L1101.1 109.4 L1101.5 109.3 L1101.9 109.2 L1102.3 109.1 L1102.7 109.0 L1103.1 108.8 L1103.5 108.7 L1103.9 108.6 L1104.3 108.5 L1104.6 108.4 L1105.0 108.2 L1105.4 108.1 L1105.8 108.0 L1106.2 107.9 L1106.6 107.8 L1106.9 106.9 L1107.3 105.1 L1107.7 103.3 L1108.1 101.6 L1108.5 99.8 L1108.8 98.0 L1109.2 96.3 L1109.6 94.5 L1110.0 94.0 L1110.3 93.8 L1110.7 93.7 L1111.1 93.6 L1111.5 93.4 L1111.9 93.3 L1112.2 93.2 L1112.6 93.0 L1113.0 92.9 L1113.4 92.8 L1113.7 92.7 L1114.1 92.5 L1114.5 92.4 L1114.9 92.3 L1115.2 92.2 L1115.6 92.1 L1116.0 92.0 L1116.4 91.8 L1116.7 91.7 L1117.1 91.6 L1117.5 90.0 L1117.9 88.2 L1118.2 86.4 L1118.6 84.6 L1119.0 82.8" stroke="#7030a0" stroke-width="3.2"/>
</g>
<rect x="170.3" y="15.0" width="1085.2" height="812.0" fill="none" stroke="#333" stroke-width="3.0"/>
<g stroke="#333" stroke-width="2.4">
<line x1="170.3" y1="116.5" x2="181.3" y2="116.5"/>
<line x1="170.3" y1="218.0" x2="181.3" y2="218.0"/>
<line x1="170.3" y1="319.5" x2="181.3" y2="319.5"/>
<line x1="170.3" y1="421.0" x2="181.3" y2="421.0"/>
<line x1="170.3" y1="522.5" x2="181.3" y2="522.5"/>
<line x1="170.3" y1="624.0" x2="181.3" y2="624.0"/>
<line x1="170.3" y1="725.5" x2="181.3" y2="725.5"/>
<line x1="306.0" y1="827.0" x2="306.0" y2="816.0"/>
<line x1="441.6" y1="827.0" x2="441.6" y2="816.0"/>
<line x1="577.2" y1="827.0" x2="577.2" y2="816.0"/>
<line x1="712.9" y1="827.0" x2="712.9" y2="816.0"/>
<line x1="848.5" y1="827.0" x2="848.5" y2="816.0"/>
<line x1="984.2" y1="827.0" x2="984.2" y2="816.0"/>
<line x1="1119.9" y1="827.0" x2="1119.9" y2="816.0"/>
</g>
<g>
<text class="t" transform="translate(135.6 26.2) scale(0.940 1)" text-anchor="end">0.25</text>
<text class="t" transform="translate(135.6 127.7) scale(0.940 1)" text-anchor="end">0.2</text>
<text class="t" transform="translate(135.6 229.2) scale(0.940 1)" text-anchor="end">0.15</text>
<text class="t" transform="translate(135.6 330.7) scale(0.940 1)" text-anchor="end">0.1</text>
<text class="t" transform="translate(135.6 432.2) scale(0.940 1)" text-anchor="end">0.05</text>
<text class="t" transform="translate(135.6 533.7) scale(0.940 1)" text-anchor="end">0</text>
<text class="t" transform="translate(135.6 635.2) scale(0.940 1)" text-anchor="end">-0.05</text>
<text class="t" transform="translate(135.6 736.7) scale(0.940 1)" text-anchor="end">-0.1</text>
<text class="t" transform="translate(135.6 838.2) scale(0.940 1)" text-anchor="end">-0.15</text>
<text class="t" transform="translate(169.5 884.6) scale(0.940 1)" text-anchor="middle">-1.5</text>
<text class="t" transform="translate(305.2 884.6) scale(0.940 1)" text-anchor="middle">-1</text>
<text class="t" transform="translate(440.8 884.6) scale(0.940 1)" text-anchor="middle">-0.5</text>
<text class="t" transform="translate(576.5 884.6) scale(0.940 1)" text-anchor="middle">0</text>
<text class="t" transform="translate(712.1 884.6) scale(0.940 1)" text-anchor="middle">0.5</text>
<text class="t" transform="translate(847.8 884.6) scale(0.940 1)" text-anchor="middle">1</text>
<text class="t" transform="translate(983.4 884.6) scale(0.940 1)" text-anchor="middle">1.5</text>
<text class="t" transform="translate(1119.1 884.6) scale(0.940 1)" text-anchor="middle">2</text>
<text class="t" transform="translate(1254.7 884.6) scale(0.940 1)" text-anchor="middle">2.5</text>
</g>
<g>
<line x1="223" y1="48.3" x2="262" y2="48.3" stroke="#59d386" stroke-width="3.4"/>
<text class="l" transform="translate(266.2 60.4) scale(0.961 1)">Triflic acid+ACN</text>
<line x1="223" y1="102.2" x2="262" y2="102.2" stroke="#ed7d31" stroke-width="3.4"/>
<text class="l" transform="translate(266.2 114.3) scale(0.945 1)">Triflic acid+THF+ACN</text>
<line x1="223" y1="156.2" x2="262" y2="156.2" stroke="#000000" stroke-width="3.4"/>
<text class="l" transform="translate(266.2 168.3) scale(0.972 1)">Triflic acid+ACN+precursor</text>
<line x1="223" y1="209.2" x2="262" y2="209.2" stroke="#ffc000" stroke-width="3.4"/>
<text class="l" transform="translate(266.2 221.3) scale(0.937 1)">Triflic acid+TBAF+ACN</text>
<line x1="223" y1="263.0" x2="262" y2="263.0" stroke="#4472c4" stroke-width="3.4"/>
<text class="l" transform="translate(266.2 275.1) scale(0.947 1)">Triflic acid+TBAF+ACN+Precursor</text>
<line x1="223" y1="316.5" x2="262" y2="316.5" stroke="#ff0000" stroke-width="3.4"/>
<text class="l" transform="translate(267.4 328.6) scale(0.881 1)">ACN+TBAF</text>
<line x1="223" y1="369.5" x2="262" y2="369.5" stroke="#7030a0" stroke-width="3.4"/>
<text class="l" transform="translate(267.4 381.6) scale(0.921 1)">ACN+TBAF+Precursor</text>
</g>
<text x="0" y="0" transform="translate(28.6 423.8) rotate(-90) scale(0.996 1)" text-anchor="middle">Current (A)</text>
<text transform="translate(548.6 933.3) scale(0.981 1)">Potential (V vs Ag/Ag<tspan font-size="20" dy="-11">+</tspan><tspan dy="11">)</tspan></text>
</g>
</svg>
</body></html>
